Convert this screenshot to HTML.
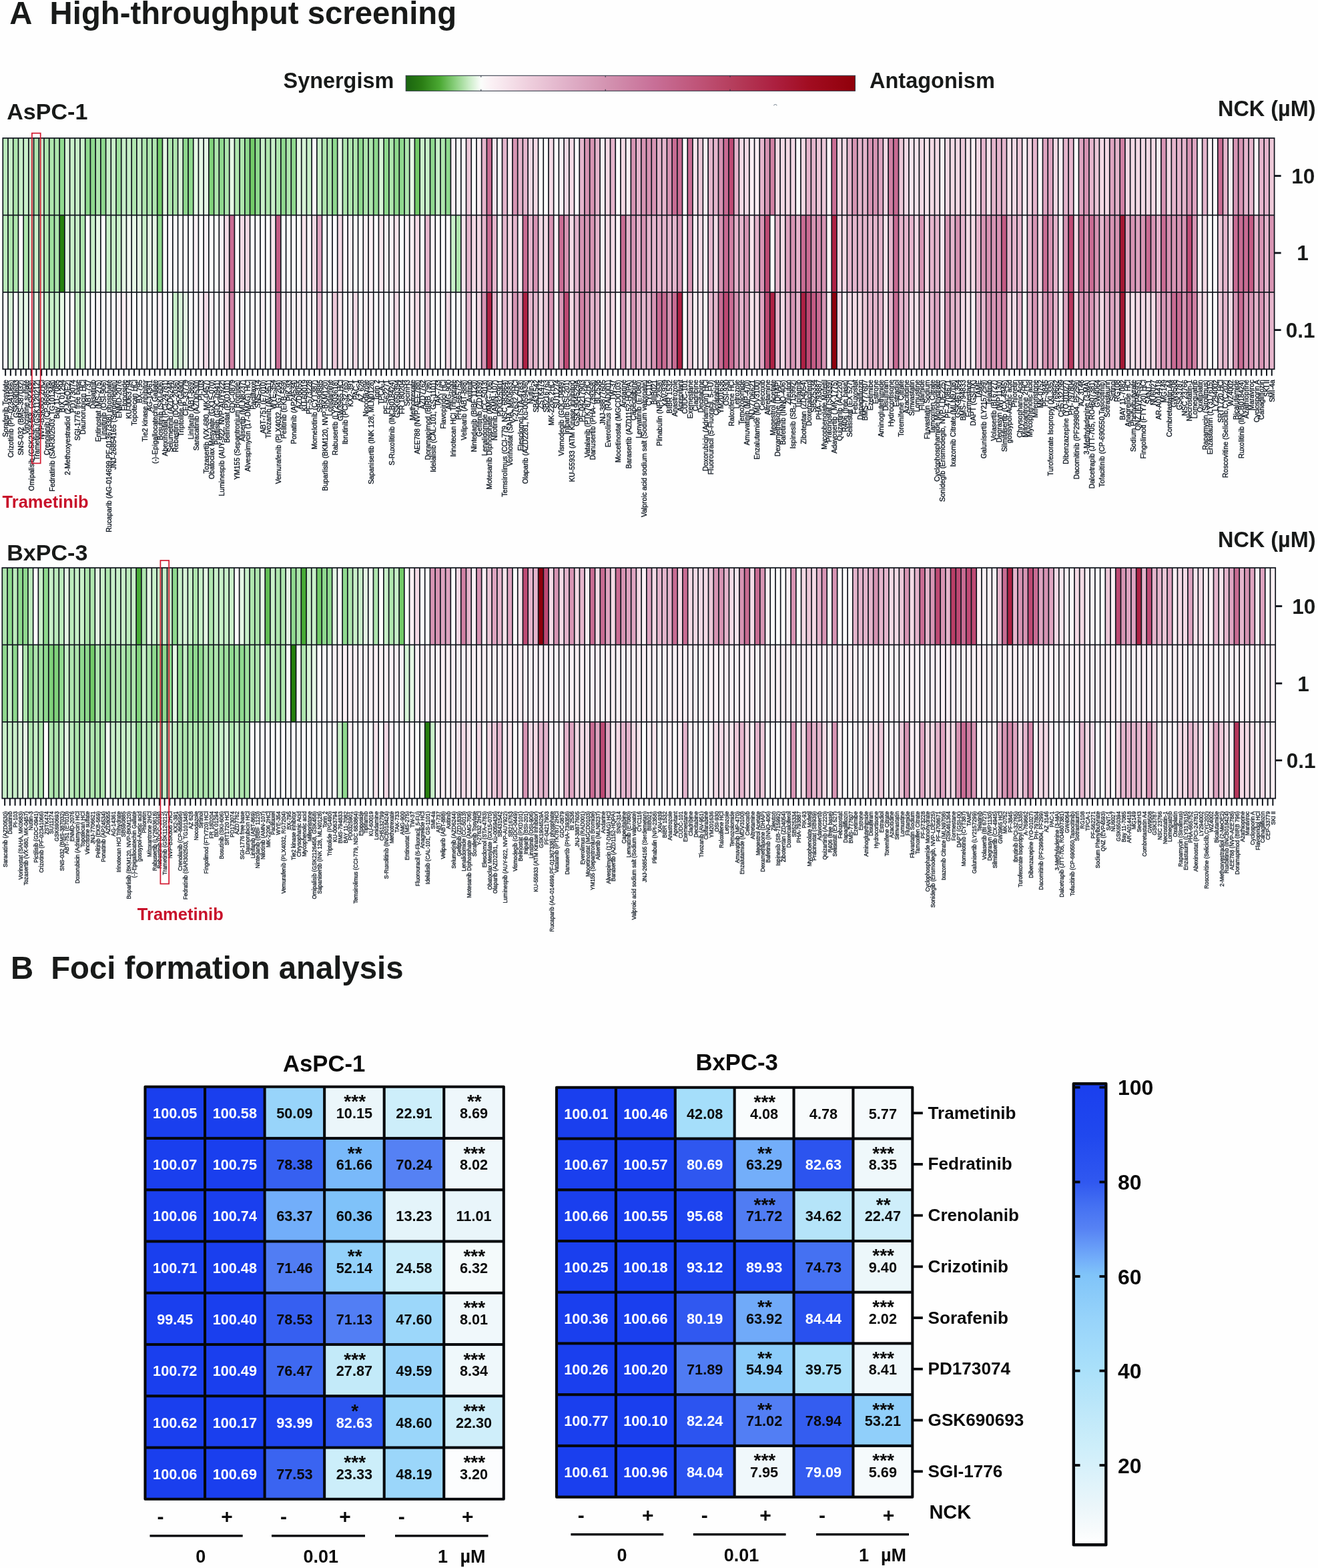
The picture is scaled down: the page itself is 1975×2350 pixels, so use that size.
<!DOCTYPE html>
<html lang="en">
<head>
<meta charset="utf-8">
<title>High-throughput screening and foci formation analysis</title>
<style>
html,body{margin:0;padding:0;background:#fefefe;}
body{width:1975px;height:2350px;overflow:hidden;}
svg{display:block;}
</style>
</head>
<body>
<svg width="1975" height="2350" viewBox="0 0 1975 2350" font-family='"Liberation Sans", sans-serif'>
<rect width="1975" height="2350" fill="#fefefe"/>
<defs>
<linearGradient id="gsyn" x1="0" x2="1" y1="0" y2="0">
<stop offset="0" stop-color="#1a6410"/>
<stop offset="0.035" stop-color="#2a7d14"/>
<stop offset="0.075" stop-color="#4aa832"/>
<stop offset="0.11" stop-color="#8bd07f"/>
<stop offset="0.14" stop-color="#c8ebc4"/>
<stop offset="0.167" stop-color="#fbfdfb"/>
<stop offset="0.19" stop-color="#fbf1f5"/>
<stop offset="0.27" stop-color="#efd0de"/>
<stop offset="0.36" stop-color="#e0b0c8"/>
<stop offset="0.45" stop-color="#d392b0"/>
<stop offset="0.55" stop-color="#c87098"/>
<stop offset="0.65" stop-color="#bf5478"/>
<stop offset="0.74" stop-color="#b43a58"/>
<stop offset="0.82" stop-color="#ac2040"/>
<stop offset="0.9" stop-color="#a10c20"/>
<stop offset="1" stop-color="#90000a"/>
</linearGradient>
<linearGradient id="gblue" x1="0" x2="0" y1="0" y2="1">
<stop offset="0.0000" stop-color="#1a3fee"/>
<stop offset="0.1108" stop-color="#2048ee"/>
<stop offset="0.2118" stop-color="#3058f0"/>
<stop offset="0.2624" stop-color="#4470f2"/>
<stop offset="0.3129" stop-color="#5682f4"/>
<stop offset="0.3837" stop-color="#74b0fa"/>
<stop offset="0.4140" stop-color="#80c4f9"/>
<stop offset="0.5151" stop-color="#98d4fa"/>
<stop offset="0.6161" stop-color="#a9e0fa"/>
<stop offset="0.7172" stop-color="#bfe8f9"/>
<stop offset="0.7880" stop-color="#cdeefa"/>
<stop offset="0.9193" stop-color="#ebf6fa"/>
<stop offset="0.9699" stop-color="#f7fbfc"/>
<stop offset="1.0000" stop-color="#ffffff"/>
</linearGradient>
</defs>
<text x="14.30" y="36.20" font-size="47.3" font-weight="bold" text-anchor="start" fill="#181a19">A</text>
<text x="74.60" y="36.20" font-size="47.3" font-weight="bold" text-anchor="start" fill="#181a19">High-throughput screening</text>
<text x="424.60" y="132.00" font-size="32.4" font-weight="bold" text-anchor="start" fill="#181a19">Synergism</text>
<rect x="608.2" y="113.3" width="673.2" height="23" fill="url(#gsyn)" stroke="#2a3340" stroke-width="1"/>
<path d="M720.8 113.3v2.5M720.8 136.3v-2.5" stroke="#2a3340" stroke-width="1"/>
<path d="M907.2 113.3v2.5M907.2 136.3v-2.5" stroke="#2a3340" stroke-width="1"/>
<path d="M1094.0 113.3v2.5M1094.0 136.3v-2.5" stroke="#2a3340" stroke-width="1"/>
<text x="1303.00" y="132.00" font-size="32.5" font-weight="bold" text-anchor="start" fill="#181a19">Antagonism</text>
<path d="M1159.6 157.8q2.2 -2.6 4.4 0" fill="none" stroke="#8d97a1" stroke-width="1.1" stroke-linecap="round"/>
<text x="10.20" y="178.60" font-size="34.1" font-weight="bold" text-anchor="start" fill="#181a19">AsPC-1</text>
<text x="1971.60" y="174.30" font-size="32.45" font-weight="bold" text-anchor="end" fill="#181a19">NCK (µM)</text>
<g>
<rect x="3.45" y="206.15" width="1907.00" height="348.00" fill="#0e131b"/>
<rect x="5.15" y="207.85" width="6.01" height="113.80" fill="#bcebbc"/>
<rect x="12.86" y="207.85" width="6.01" height="113.80" fill="#c9f0c9"/>
<rect x="20.58" y="207.85" width="6.01" height="113.80" fill="#afe6ae"/>
<rect x="28.29" y="207.85" width="6.01" height="113.80" fill="#c9f0c9"/>
<rect x="36.01" y="207.85" width="6.01" height="113.80" fill="#c9f0c9"/>
<rect x="43.72" y="207.85" width="6.01" height="113.80" fill="#c9f0c9"/>
<rect x="51.43" y="207.85" width="6.01" height="113.80" fill="#afe6ae"/>
<rect x="59.15" y="207.85" width="6.01" height="113.80" fill="#c9f0c9"/>
<rect x="66.86" y="207.85" width="6.01" height="113.80" fill="#afe6ae"/>
<rect x="74.57" y="207.85" width="6.01" height="113.80" fill="#afe6ae"/>
<rect x="82.29" y="207.85" width="6.01" height="113.80" fill="#afe6ae"/>
<rect x="90.00" y="207.85" width="6.01" height="113.80" fill="#8fd98e"/>
<rect x="97.72" y="207.85" width="6.01" height="113.80" fill="#d8f4d7"/>
<rect x="105.43" y="207.85" width="6.01" height="113.80" fill="#c9f0c9"/>
<rect x="113.14" y="207.85" width="6.01" height="113.80" fill="#c9f0c9"/>
<rect x="120.86" y="207.85" width="6.01" height="113.80" fill="#c9f0c9"/>
<rect x="128.57" y="207.85" width="6.01" height="113.80" fill="#8fd98e"/>
<rect x="136.28" y="207.85" width="6.01" height="113.80" fill="#8fd98e"/>
<rect x="144.00" y="207.85" width="6.01" height="113.80" fill="#afe6ae"/>
<rect x="151.71" y="207.85" width="6.01" height="113.80" fill="#8fd98e"/>
<rect x="159.43" y="207.85" width="6.01" height="113.80" fill="#c9f0c9"/>
<rect x="167.14" y="207.85" width="6.01" height="113.80" fill="#c9f0c9"/>
<rect x="174.85" y="207.85" width="6.01" height="113.80" fill="#9fe09e"/>
<rect x="182.57" y="207.85" width="6.01" height="113.80" fill="#c9f0c9"/>
<rect x="190.28" y="207.85" width="6.01" height="113.80" fill="#c9f0c9"/>
<rect x="197.99" y="207.85" width="6.01" height="113.80" fill="#afe6ae"/>
<rect x="205.71" y="207.85" width="6.01" height="113.80" fill="#c9f0c9"/>
<rect x="213.42" y="207.85" width="6.01" height="113.80" fill="#afe6ae"/>
<rect x="221.14" y="207.85" width="6.01" height="113.80" fill="#afe6ae"/>
<rect x="228.85" y="207.85" width="6.01" height="113.80" fill="#afe6ae"/>
<rect x="236.56" y="207.85" width="6.01" height="113.80" fill="#72ca68"/>
<rect x="244.28" y="207.85" width="6.01" height="113.80" fill="#e6f8e5"/>
<rect x="251.99" y="207.85" width="6.01" height="113.80" fill="#afe6ae"/>
<rect x="259.70" y="207.85" width="6.01" height="113.80" fill="#afe6ae"/>
<rect x="267.42" y="207.85" width="6.01" height="113.80" fill="#d8f4d7"/>
<rect x="275.13" y="207.85" width="6.01" height="113.80" fill="#8fd98e"/>
<rect x="282.85" y="207.85" width="6.01" height="113.80" fill="#8fd98e"/>
<rect x="290.56" y="207.85" width="6.01" height="113.80" fill="#e6f8e5"/>
<rect x="298.27" y="207.85" width="6.01" height="113.80" fill="#e6f8e5"/>
<rect x="305.99" y="207.85" width="6.01" height="113.80" fill="#e6f8e5"/>
<rect x="313.70" y="207.85" width="6.01" height="113.80" fill="#80d27b"/>
<rect x="321.41" y="207.85" width="6.01" height="113.80" fill="#afe6ae"/>
<rect x="329.13" y="207.85" width="6.01" height="113.80" fill="#8fd98e"/>
<rect x="336.84" y="207.85" width="6.01" height="113.80" fill="#afe6ae"/>
<rect x="344.56" y="207.85" width="6.01" height="113.80" fill="#e6f8e5"/>
<rect x="352.27" y="207.85" width="6.01" height="113.80" fill="#afe6ae"/>
<rect x="359.98" y="207.85" width="6.01" height="113.80" fill="#afe6ae"/>
<rect x="367.70" y="207.85" width="6.01" height="113.80" fill="#8fd98e"/>
<rect x="375.41" y="207.85" width="6.01" height="113.80" fill="#72ca68"/>
<rect x="383.12" y="207.85" width="6.01" height="113.80" fill="#8fd98e"/>
<rect x="390.84" y="207.85" width="6.01" height="113.80" fill="#c9f0c9"/>
<rect x="398.55" y="207.85" width="6.01" height="113.80" fill="#afe6ae"/>
<rect x="406.27" y="207.85" width="6.01" height="113.80" fill="#c9f0c9"/>
<rect x="413.98" y="207.85" width="6.01" height="113.80" fill="#afe6ae"/>
<rect x="421.69" y="207.85" width="6.01" height="113.80" fill="#8fd98e"/>
<rect x="429.41" y="207.85" width="6.01" height="113.80" fill="#afe6ae"/>
<rect x="437.12" y="207.85" width="6.01" height="113.80" fill="#8fd98e"/>
<rect x="444.83" y="207.85" width="6.01" height="113.80" fill="#e6f8e5"/>
<rect x="452.55" y="207.85" width="6.01" height="113.80" fill="#d8f4d7"/>
<rect x="460.26" y="207.85" width="6.01" height="113.80" fill="#c9f0c9"/>
<rect x="467.98" y="207.85" width="6.01" height="113.80" fill="#fefdfd"/>
<rect x="475.69" y="207.85" width="6.01" height="113.80" fill="#c9f0c9"/>
<rect x="483.40" y="207.85" width="6.01" height="113.80" fill="#afe6ae"/>
<rect x="491.12" y="207.85" width="6.01" height="113.80" fill="#afe6ae"/>
<rect x="498.83" y="207.85" width="6.01" height="113.80" fill="#8fd98e"/>
<rect x="506.54" y="207.85" width="6.01" height="113.80" fill="#e6f8e5"/>
<rect x="514.26" y="207.85" width="6.01" height="113.80" fill="#afe6ae"/>
<rect x="521.97" y="207.85" width="6.01" height="113.80" fill="#afe6ae"/>
<rect x="529.69" y="207.85" width="6.01" height="113.80" fill="#afe6ae"/>
<rect x="537.40" y="207.85" width="6.01" height="113.80" fill="#8fd98e"/>
<rect x="545.11" y="207.85" width="6.01" height="113.80" fill="#afe6ae"/>
<rect x="552.83" y="207.85" width="6.01" height="113.80" fill="#afe6ae"/>
<rect x="560.54" y="207.85" width="6.01" height="113.80" fill="#8fd98e"/>
<rect x="568.25" y="207.85" width="6.01" height="113.80" fill="#d8f4d7"/>
<rect x="575.97" y="207.85" width="6.01" height="113.80" fill="#8fd98e"/>
<rect x="583.68" y="207.85" width="6.01" height="113.80" fill="#afe6ae"/>
<rect x="591.40" y="207.85" width="6.01" height="113.80" fill="#8fd98e"/>
<rect x="599.11" y="207.85" width="6.01" height="113.80" fill="#8fd98e"/>
<rect x="606.82" y="207.85" width="6.01" height="113.80" fill="#afe6ae"/>
<rect x="614.54" y="207.85" width="6.01" height="113.80" fill="#e6f8e5"/>
<rect x="622.25" y="207.85" width="6.01" height="113.80" fill="#72ca68"/>
<rect x="629.96" y="207.85" width="6.01" height="113.80" fill="#c9f0c9"/>
<rect x="637.68" y="207.85" width="6.01" height="113.80" fill="#c9f0c9"/>
<rect x="645.39" y="207.85" width="6.01" height="113.80" fill="#8fd98e"/>
<rect x="653.11" y="207.85" width="6.01" height="113.80" fill="#c9f0c9"/>
<rect x="660.82" y="207.85" width="6.01" height="113.80" fill="#afe6ae"/>
<rect x="668.53" y="207.85" width="6.01" height="113.80" fill="#8fd98e"/>
<rect x="676.25" y="207.85" width="6.01" height="113.80" fill="#fbf0f4"/>
<rect x="683.96" y="207.85" width="6.01" height="113.80" fill="#fefdfd"/>
<rect x="691.68" y="207.85" width="6.01" height="113.80" fill="#fcf6f8"/>
<rect x="699.39" y="207.85" width="6.01" height="113.80" fill="#ecc8d8"/>
<rect x="707.10" y="207.85" width="6.01" height="113.80" fill="#fefdfd"/>
<rect x="714.82" y="207.85" width="6.01" height="113.80" fill="#fbf0f4"/>
<rect x="722.53" y="207.85" width="6.01" height="113.80" fill="#e5b5cc"/>
<rect x="730.24" y="207.85" width="6.01" height="113.80" fill="#c96c93"/>
<rect x="737.96" y="207.85" width="6.01" height="113.80" fill="#f8e5ec"/>
<rect x="745.67" y="207.85" width="6.01" height="113.80" fill="#fefdfd"/>
<rect x="753.39" y="207.85" width="6.01" height="113.80" fill="#e5b5cc"/>
<rect x="761.10" y="207.85" width="6.01" height="113.80" fill="#fbf0f4"/>
<rect x="768.81" y="207.85" width="6.01" height="113.80" fill="#d794b3"/>
<rect x="776.53" y="207.85" width="6.01" height="113.80" fill="#e5b5cc"/>
<rect x="784.24" y="207.85" width="6.01" height="113.80" fill="#e5b5cc"/>
<rect x="791.95" y="207.85" width="6.01" height="113.80" fill="#f4dae5"/>
<rect x="799.67" y="207.85" width="6.01" height="113.80" fill="#f4dae5"/>
<rect x="807.38" y="207.85" width="6.01" height="113.80" fill="#fefdfd"/>
<rect x="815.10" y="207.85" width="6.01" height="113.80" fill="#fefdfd"/>
<rect x="822.81" y="207.85" width="6.01" height="113.80" fill="#f4dae5"/>
<rect x="830.52" y="207.85" width="6.01" height="113.80" fill="#fefdfd"/>
<rect x="838.24" y="207.85" width="6.01" height="113.80" fill="#fbf0f4"/>
<rect x="845.95" y="207.85" width="6.01" height="113.80" fill="#f4dae5"/>
<rect x="853.66" y="207.85" width="6.01" height="113.80" fill="#f4dae5"/>
<rect x="861.38" y="207.85" width="6.01" height="113.80" fill="#fefdfd"/>
<rect x="869.09" y="207.85" width="6.01" height="113.80" fill="#e5b5cc"/>
<rect x="876.81" y="207.85" width="6.01" height="113.80" fill="#d794b3"/>
<rect x="884.52" y="207.85" width="6.01" height="113.80" fill="#d794b3"/>
<rect x="892.23" y="207.85" width="6.01" height="113.80" fill="#e5b5cc"/>
<rect x="899.95" y="207.85" width="6.01" height="113.80" fill="#fbf0f4"/>
<rect x="907.66" y="207.85" width="6.01" height="113.80" fill="#f4dae5"/>
<rect x="915.37" y="207.85" width="6.01" height="113.80" fill="#e5b5cc"/>
<rect x="923.09" y="207.85" width="6.01" height="113.80" fill="#fefdfd"/>
<rect x="930.80" y="207.85" width="6.01" height="113.80" fill="#f4dae5"/>
<rect x="938.52" y="207.85" width="6.01" height="113.80" fill="#fbf0f4"/>
<rect x="946.23" y="207.85" width="6.01" height="113.80" fill="#d794b3"/>
<rect x="953.94" y="207.85" width="6.01" height="113.80" fill="#e5b5cc"/>
<rect x="961.66" y="207.85" width="6.01" height="113.80" fill="#d794b3"/>
<rect x="969.37" y="207.85" width="6.01" height="113.80" fill="#d794b3"/>
<rect x="977.08" y="207.85" width="6.01" height="113.80" fill="#d794b3"/>
<rect x="984.80" y="207.85" width="6.01" height="113.80" fill="#e5b5cc"/>
<rect x="992.51" y="207.85" width="6.01" height="113.80" fill="#e5b5cc"/>
<rect x="1000.23" y="207.85" width="6.01" height="113.80" fill="#d794b3"/>
<rect x="1007.94" y="207.85" width="6.01" height="113.80" fill="#c96c93"/>
<rect x="1015.65" y="207.85" width="6.01" height="113.80" fill="#c96c93"/>
<rect x="1023.37" y="207.85" width="6.01" height="113.80" fill="#fefdfd"/>
<rect x="1031.08" y="207.85" width="6.01" height="113.80" fill="#c96c93"/>
<rect x="1038.79" y="207.85" width="6.01" height="113.80" fill="#f8e5ec"/>
<rect x="1046.51" y="207.85" width="6.01" height="113.80" fill="#ecc8d8"/>
<rect x="1054.22" y="207.85" width="6.01" height="113.80" fill="#fbf0f4"/>
<rect x="1061.94" y="207.85" width="6.01" height="113.80" fill="#e5b5cc"/>
<rect x="1069.65" y="207.85" width="6.01" height="113.80" fill="#e5b5cc"/>
<rect x="1077.36" y="207.85" width="6.01" height="113.80" fill="#d794b3"/>
<rect x="1085.08" y="207.85" width="6.01" height="113.80" fill="#c96c93"/>
<rect x="1092.79" y="207.85" width="6.01" height="113.80" fill="#be4a74"/>
<rect x="1100.50" y="207.85" width="6.01" height="113.80" fill="#e5b5cc"/>
<rect x="1108.22" y="207.85" width="6.01" height="113.80" fill="#f4dae5"/>
<rect x="1115.93" y="207.85" width="6.01" height="113.80" fill="#f4dae5"/>
<rect x="1123.65" y="207.85" width="6.01" height="113.80" fill="#fbf0f4"/>
<rect x="1131.36" y="207.85" width="6.01" height="113.80" fill="#fbf0f4"/>
<rect x="1139.07" y="207.85" width="6.01" height="113.80" fill="#e5b5cc"/>
<rect x="1146.79" y="207.85" width="6.01" height="113.80" fill="#d794b3"/>
<rect x="1154.50" y="207.85" width="6.01" height="113.80" fill="#d080a3"/>
<rect x="1162.21" y="207.85" width="6.01" height="113.80" fill="#f4dae5"/>
<rect x="1169.93" y="207.85" width="6.01" height="113.80" fill="#f4dae5"/>
<rect x="1177.64" y="207.85" width="6.01" height="113.80" fill="#f4dae5"/>
<rect x="1185.36" y="207.85" width="6.01" height="113.80" fill="#f4dae5"/>
<rect x="1193.07" y="207.85" width="6.01" height="113.80" fill="#fefdfd"/>
<rect x="1200.78" y="207.85" width="6.01" height="113.80" fill="#f4dae5"/>
<rect x="1208.50" y="207.85" width="6.01" height="113.80" fill="#e5b5cc"/>
<rect x="1216.21" y="207.85" width="6.01" height="113.80" fill="#e5b5cc"/>
<rect x="1223.92" y="207.85" width="6.01" height="113.80" fill="#ecc8d8"/>
<rect x="1231.64" y="207.85" width="6.01" height="113.80" fill="#ecc8d8"/>
<rect x="1239.35" y="207.85" width="6.01" height="113.80" fill="#fcf6f8"/>
<rect x="1247.07" y="207.85" width="6.01" height="113.80" fill="#c96c93"/>
<rect x="1254.78" y="207.85" width="6.01" height="113.80" fill="#f4dae5"/>
<rect x="1262.49" y="207.85" width="6.01" height="113.80" fill="#f4dae5"/>
<rect x="1270.21" y="207.85" width="6.01" height="113.80" fill="#e5b5cc"/>
<rect x="1277.92" y="207.85" width="6.01" height="113.80" fill="#d794b3"/>
<rect x="1285.64" y="207.85" width="6.01" height="113.80" fill="#e5b5cc"/>
<rect x="1293.35" y="207.85" width="6.01" height="113.80" fill="#e5b5cc"/>
<rect x="1301.06" y="207.85" width="6.01" height="113.80" fill="#d794b3"/>
<rect x="1308.78" y="207.85" width="6.01" height="113.80" fill="#d794b3"/>
<rect x="1316.49" y="207.85" width="6.01" height="113.80" fill="#dea4c0"/>
<rect x="1324.20" y="207.85" width="6.01" height="113.80" fill="#f4dae5"/>
<rect x="1331.92" y="207.85" width="6.01" height="113.80" fill="#d080a3"/>
<rect x="1339.63" y="207.85" width="6.01" height="113.80" fill="#c96c93"/>
<rect x="1347.35" y="207.85" width="6.01" height="113.80" fill="#ecc8d8"/>
<rect x="1355.06" y="207.85" width="6.01" height="113.80" fill="#f4dae5"/>
<rect x="1362.77" y="207.85" width="6.01" height="113.80" fill="#f8e5ec"/>
<rect x="1370.49" y="207.85" width="6.01" height="113.80" fill="#f8e5ec"/>
<rect x="1378.20" y="207.85" width="6.01" height="113.80" fill="#f4dae5"/>
<rect x="1385.91" y="207.85" width="6.01" height="113.80" fill="#f8e5ec"/>
<rect x="1393.63" y="207.85" width="6.01" height="113.80" fill="#f4dae5"/>
<rect x="1401.34" y="207.85" width="6.01" height="113.80" fill="#f4dae5"/>
<rect x="1409.06" y="207.85" width="6.01" height="113.80" fill="#fbf0f4"/>
<rect x="1416.77" y="207.85" width="6.01" height="113.80" fill="#f4dae5"/>
<rect x="1424.48" y="207.85" width="6.01" height="113.80" fill="#f4dae5"/>
<rect x="1432.20" y="207.85" width="6.01" height="113.80" fill="#f4dae5"/>
<rect x="1439.91" y="207.85" width="6.01" height="113.80" fill="#ecc8d8"/>
<rect x="1447.62" y="207.85" width="6.01" height="113.80" fill="#f8e5ec"/>
<rect x="1455.34" y="207.85" width="6.01" height="113.80" fill="#fbf0f4"/>
<rect x="1463.05" y="207.85" width="6.01" height="113.80" fill="#f4dae5"/>
<rect x="1470.77" y="207.85" width="6.01" height="113.80" fill="#e5b5cc"/>
<rect x="1478.48" y="207.85" width="6.01" height="113.80" fill="#f8e5ec"/>
<rect x="1486.19" y="207.85" width="6.01" height="113.80" fill="#e5b5cc"/>
<rect x="1493.91" y="207.85" width="6.01" height="113.80" fill="#e5b5cc"/>
<rect x="1501.62" y="207.85" width="6.01" height="113.80" fill="#e5b5cc"/>
<rect x="1509.33" y="207.85" width="6.01" height="113.80" fill="#f8e5ec"/>
<rect x="1517.05" y="207.85" width="6.01" height="113.80" fill="#f4dae5"/>
<rect x="1524.76" y="207.85" width="6.01" height="113.80" fill="#ecc8d8"/>
<rect x="1532.48" y="207.85" width="6.01" height="113.80" fill="#fbf0f4"/>
<rect x="1540.19" y="207.85" width="6.01" height="113.80" fill="#f4dae5"/>
<rect x="1547.90" y="207.85" width="6.01" height="113.80" fill="#e5b5cc"/>
<rect x="1555.62" y="207.85" width="6.01" height="113.80" fill="#fefdfd"/>
<rect x="1563.33" y="207.85" width="6.01" height="113.80" fill="#dea4c0"/>
<rect x="1571.04" y="207.85" width="6.01" height="113.80" fill="#dea4c0"/>
<rect x="1578.76" y="207.85" width="6.01" height="113.80" fill="#f4dae5"/>
<rect x="1586.47" y="207.85" width="6.01" height="113.80" fill="#fbf0f4"/>
<rect x="1594.19" y="207.85" width="6.01" height="113.80" fill="#e5b5cc"/>
<rect x="1601.90" y="207.85" width="6.01" height="113.80" fill="#e5b5cc"/>
<rect x="1609.61" y="207.85" width="6.01" height="113.80" fill="#fefdfd"/>
<rect x="1617.33" y="207.85" width="6.01" height="113.80" fill="#dea4c0"/>
<rect x="1625.04" y="207.85" width="6.01" height="113.80" fill="#d794b3"/>
<rect x="1632.75" y="207.85" width="6.01" height="113.80" fill="#e5b5cc"/>
<rect x="1640.47" y="207.85" width="6.01" height="113.80" fill="#ecc8d8"/>
<rect x="1648.18" y="207.85" width="6.01" height="113.80" fill="#f4dae5"/>
<rect x="1655.90" y="207.85" width="6.01" height="113.80" fill="#f4dae5"/>
<rect x="1663.61" y="207.85" width="6.01" height="113.80" fill="#dea4c0"/>
<rect x="1671.32" y="207.85" width="6.01" height="113.80" fill="#e5b5cc"/>
<rect x="1679.04" y="207.85" width="6.01" height="113.80" fill="#d080a3"/>
<rect x="1686.75" y="207.85" width="6.01" height="113.80" fill="#f4dae5"/>
<rect x="1694.46" y="207.85" width="6.01" height="113.80" fill="#f4dae5"/>
<rect x="1702.18" y="207.85" width="6.01" height="113.80" fill="#f4dae5"/>
<rect x="1709.89" y="207.85" width="6.01" height="113.80" fill="#f4dae5"/>
<rect x="1717.61" y="207.85" width="6.01" height="113.80" fill="#f4dae5"/>
<rect x="1725.32" y="207.85" width="6.01" height="113.80" fill="#f4dae5"/>
<rect x="1733.03" y="207.85" width="6.01" height="113.80" fill="#fbf0f4"/>
<rect x="1740.75" y="207.85" width="6.01" height="113.80" fill="#d794b3"/>
<rect x="1748.46" y="207.85" width="6.01" height="113.80" fill="#f4dae5"/>
<rect x="1756.17" y="207.85" width="6.01" height="113.80" fill="#e5b5cc"/>
<rect x="1763.89" y="207.85" width="6.01" height="113.80" fill="#e5b5cc"/>
<rect x="1771.60" y="207.85" width="6.01" height="113.80" fill="#e5b5cc"/>
<rect x="1779.32" y="207.85" width="6.01" height="113.80" fill="#d794b3"/>
<rect x="1787.03" y="207.85" width="6.01" height="113.80" fill="#dea4c0"/>
<rect x="1794.74" y="207.85" width="6.01" height="113.80" fill="#fefdfd"/>
<rect x="1802.46" y="207.85" width="6.01" height="113.80" fill="#e5b5cc"/>
<rect x="1810.17" y="207.85" width="6.01" height="113.80" fill="#fcf6f8"/>
<rect x="1817.88" y="207.85" width="6.01" height="113.80" fill="#fefdfd"/>
<rect x="1825.60" y="207.85" width="6.01" height="113.80" fill="#c96c93"/>
<rect x="1833.31" y="207.85" width="6.01" height="113.80" fill="#e5b5cc"/>
<rect x="1841.03" y="207.85" width="6.01" height="113.80" fill="#fbf0f4"/>
<rect x="1848.74" y="207.85" width="6.01" height="113.80" fill="#d794b3"/>
<rect x="1856.45" y="207.85" width="6.01" height="113.80" fill="#d794b3"/>
<rect x="1864.17" y="207.85" width="6.01" height="113.80" fill="#e5b5cc"/>
<rect x="1871.88" y="207.85" width="6.01" height="113.80" fill="#e5b5cc"/>
<rect x="1879.59" y="207.85" width="6.01" height="113.80" fill="#fcf6f8"/>
<rect x="1887.31" y="207.85" width="6.01" height="113.80" fill="#e5b5cc"/>
<rect x="1895.02" y="207.85" width="6.01" height="113.80" fill="#e5b5cc"/>
<rect x="1902.74" y="207.85" width="6.01" height="113.80" fill="#ecc8d8"/>
<rect x="5.15" y="323.35" width="6.01" height="113.80" fill="#bcebbc"/>
<rect x="12.86" y="323.35" width="6.01" height="113.80" fill="#afe6ae"/>
<rect x="20.58" y="323.35" width="6.01" height="113.80" fill="#afe6ae"/>
<rect x="28.29" y="323.35" width="6.01" height="113.80" fill="#fefdfd"/>
<rect x="36.01" y="323.35" width="6.01" height="113.80" fill="#afe6ae"/>
<rect x="43.72" y="323.35" width="6.01" height="113.80" fill="#c9f0c9"/>
<rect x="51.43" y="323.35" width="6.01" height="113.80" fill="#c9f0c9"/>
<rect x="59.15" y="323.35" width="6.01" height="113.80" fill="#c9f0c9"/>
<rect x="66.86" y="323.35" width="6.01" height="113.80" fill="#afe6ae"/>
<rect x="74.57" y="323.35" width="6.01" height="113.80" fill="#9fe09e"/>
<rect x="82.29" y="323.35" width="6.01" height="113.80" fill="#afe6ae"/>
<rect x="90.00" y="323.35" width="6.01" height="113.80" fill="#26800e"/>
<rect x="97.72" y="323.35" width="6.01" height="113.80" fill="#e6f8e5"/>
<rect x="105.43" y="323.35" width="6.01" height="113.80" fill="#c9f0c9"/>
<rect x="113.14" y="323.35" width="6.01" height="113.80" fill="#c9f0c9"/>
<rect x="120.86" y="323.35" width="6.01" height="113.80" fill="#afe6ae"/>
<rect x="128.57" y="323.35" width="6.01" height="113.80" fill="#fefdfd"/>
<rect x="136.28" y="323.35" width="6.01" height="113.80" fill="#c9f0c9"/>
<rect x="144.00" y="323.35" width="6.01" height="113.80" fill="#e6f8e5"/>
<rect x="151.71" y="323.35" width="6.01" height="113.80" fill="#fefdfd"/>
<rect x="159.43" y="323.35" width="6.01" height="113.80" fill="#c9f0c9"/>
<rect x="167.14" y="323.35" width="6.01" height="113.80" fill="#c9f0c9"/>
<rect x="174.85" y="323.35" width="6.01" height="113.80" fill="#c9f0c9"/>
<rect x="182.57" y="323.35" width="6.01" height="113.80" fill="#e6f8e5"/>
<rect x="190.28" y="323.35" width="6.01" height="113.80" fill="#f2faf1"/>
<rect x="197.99" y="323.35" width="6.01" height="113.80" fill="#e6f8e5"/>
<rect x="205.71" y="323.35" width="6.01" height="113.80" fill="#e6f8e5"/>
<rect x="213.42" y="323.35" width="6.01" height="113.80" fill="#c9f0c9"/>
<rect x="221.14" y="323.35" width="6.01" height="113.80" fill="#e6f8e5"/>
<rect x="228.85" y="323.35" width="6.01" height="113.80" fill="#e6f8e5"/>
<rect x="236.56" y="323.35" width="6.01" height="113.80" fill="#8fd98e"/>
<rect x="244.28" y="323.35" width="6.01" height="113.80" fill="#fefdfd"/>
<rect x="251.99" y="323.35" width="6.01" height="113.80" fill="#fefdfd"/>
<rect x="259.70" y="323.35" width="6.01" height="113.80" fill="#fefdfd"/>
<rect x="267.42" y="323.35" width="6.01" height="113.80" fill="#fefdfd"/>
<rect x="275.13" y="323.35" width="6.01" height="113.80" fill="#fefdfd"/>
<rect x="282.85" y="323.35" width="6.01" height="113.80" fill="#fefdfd"/>
<rect x="290.56" y="323.35" width="6.01" height="113.80" fill="#fbf0f4"/>
<rect x="298.27" y="323.35" width="6.01" height="113.80" fill="#fefdfd"/>
<rect x="305.99" y="323.35" width="6.01" height="113.80" fill="#fbf0f4"/>
<rect x="313.70" y="323.35" width="6.01" height="113.80" fill="#fefdfd"/>
<rect x="321.41" y="323.35" width="6.01" height="113.80" fill="#fefdfd"/>
<rect x="329.13" y="323.35" width="6.01" height="113.80" fill="#fbf0f4"/>
<rect x="336.84" y="323.35" width="6.01" height="113.80" fill="#f4dae5"/>
<rect x="344.56" y="323.35" width="6.01" height="113.80" fill="#c96c93"/>
<rect x="352.27" y="323.35" width="6.01" height="113.80" fill="#fefdfd"/>
<rect x="359.98" y="323.35" width="6.01" height="113.80" fill="#f4dae5"/>
<rect x="367.70" y="323.35" width="6.01" height="113.80" fill="#f4dae5"/>
<rect x="375.41" y="323.35" width="6.01" height="113.80" fill="#fefdfd"/>
<rect x="383.12" y="323.35" width="6.01" height="113.80" fill="#fefdfd"/>
<rect x="390.84" y="323.35" width="6.01" height="113.80" fill="#fefdfd"/>
<rect x="398.55" y="323.35" width="6.01" height="113.80" fill="#fefdfd"/>
<rect x="406.27" y="323.35" width="6.01" height="113.80" fill="#f8e5ec"/>
<rect x="413.98" y="323.35" width="6.01" height="113.80" fill="#c45b84"/>
<rect x="421.69" y="323.35" width="6.01" height="113.80" fill="#fefdfd"/>
<rect x="429.41" y="323.35" width="6.01" height="113.80" fill="#fefdfd"/>
<rect x="437.12" y="323.35" width="6.01" height="113.80" fill="#fefdfd"/>
<rect x="444.83" y="323.35" width="6.01" height="113.80" fill="#fefdfd"/>
<rect x="452.55" y="323.35" width="6.01" height="113.80" fill="#f8e5ec"/>
<rect x="460.26" y="323.35" width="6.01" height="113.80" fill="#fcf6f8"/>
<rect x="467.98" y="323.35" width="6.01" height="113.80" fill="#f4dae5"/>
<rect x="475.69" y="323.35" width="6.01" height="113.80" fill="#dea4c0"/>
<rect x="483.40" y="323.35" width="6.01" height="113.80" fill="#fefdfd"/>
<rect x="491.12" y="323.35" width="6.01" height="113.80" fill="#fefdfd"/>
<rect x="498.83" y="323.35" width="6.01" height="113.80" fill="#fefdfd"/>
<rect x="506.54" y="323.35" width="6.01" height="113.80" fill="#f4dae5"/>
<rect x="514.26" y="323.35" width="6.01" height="113.80" fill="#fefdfd"/>
<rect x="521.97" y="323.35" width="6.01" height="113.80" fill="#fbf0f4"/>
<rect x="529.69" y="323.35" width="6.01" height="113.80" fill="#fefdfd"/>
<rect x="537.40" y="323.35" width="6.01" height="113.80" fill="#fefdfd"/>
<rect x="545.11" y="323.35" width="6.01" height="113.80" fill="#fbf0f4"/>
<rect x="552.83" y="323.35" width="6.01" height="113.80" fill="#fbf0f4"/>
<rect x="560.54" y="323.35" width="6.01" height="113.80" fill="#fefdfd"/>
<rect x="568.25" y="323.35" width="6.01" height="113.80" fill="#f8e5ec"/>
<rect x="575.97" y="323.35" width="6.01" height="113.80" fill="#fbf0f4"/>
<rect x="583.68" y="323.35" width="6.01" height="113.80" fill="#fbf0f4"/>
<rect x="591.40" y="323.35" width="6.01" height="113.80" fill="#f8e5ec"/>
<rect x="599.11" y="323.35" width="6.01" height="113.80" fill="#fefdfd"/>
<rect x="606.82" y="323.35" width="6.01" height="113.80" fill="#fbf0f4"/>
<rect x="614.54" y="323.35" width="6.01" height="113.80" fill="#fbf0f4"/>
<rect x="622.25" y="323.35" width="6.01" height="113.80" fill="#f4dae5"/>
<rect x="629.96" y="323.35" width="6.01" height="113.80" fill="#fefdfd"/>
<rect x="637.68" y="323.35" width="6.01" height="113.80" fill="#e5b5cc"/>
<rect x="645.39" y="323.35" width="6.01" height="113.80" fill="#fcf6f8"/>
<rect x="653.11" y="323.35" width="6.01" height="113.80" fill="#fefdfd"/>
<rect x="660.82" y="323.35" width="6.01" height="113.80" fill="#fefdfd"/>
<rect x="668.53" y="323.35" width="6.01" height="113.80" fill="#fefdfd"/>
<rect x="676.25" y="323.35" width="6.01" height="113.80" fill="#c9f0c9"/>
<rect x="683.96" y="323.35" width="6.01" height="113.80" fill="#afe6ae"/>
<rect x="691.68" y="323.35" width="6.01" height="113.80" fill="#f8e5ec"/>
<rect x="699.39" y="323.35" width="6.01" height="113.80" fill="#e5b5cc"/>
<rect x="707.10" y="323.35" width="6.01" height="113.80" fill="#f4dae5"/>
<rect x="714.82" y="323.35" width="6.01" height="113.80" fill="#f4dae5"/>
<rect x="722.53" y="323.35" width="6.01" height="113.80" fill="#e5b5cc"/>
<rect x="730.24" y="323.35" width="6.01" height="113.80" fill="#c96c93"/>
<rect x="737.96" y="323.35" width="6.01" height="113.80" fill="#e5b5cc"/>
<rect x="745.67" y="323.35" width="6.01" height="113.80" fill="#fefdfd"/>
<rect x="753.39" y="323.35" width="6.01" height="113.80" fill="#e5b5cc"/>
<rect x="761.10" y="323.35" width="6.01" height="113.80" fill="#f4dae5"/>
<rect x="768.81" y="323.35" width="6.01" height="113.80" fill="#e5b5cc"/>
<rect x="776.53" y="323.35" width="6.01" height="113.80" fill="#fbf0f4"/>
<rect x="784.24" y="323.35" width="6.01" height="113.80" fill="#c96c93"/>
<rect x="791.95" y="323.35" width="6.01" height="113.80" fill="#e5b5cc"/>
<rect x="799.67" y="323.35" width="6.01" height="113.80" fill="#d794b3"/>
<rect x="807.38" y="323.35" width="6.01" height="113.80" fill="#f4dae5"/>
<rect x="815.10" y="323.35" width="6.01" height="113.80" fill="#f4dae5"/>
<rect x="822.81" y="323.35" width="6.01" height="113.80" fill="#d794b3"/>
<rect x="830.52" y="323.35" width="6.01" height="113.80" fill="#fbf0f4"/>
<rect x="838.24" y="323.35" width="6.01" height="113.80" fill="#c96c93"/>
<rect x="845.95" y="323.35" width="6.01" height="113.80" fill="#d794b3"/>
<rect x="853.66" y="323.35" width="6.01" height="113.80" fill="#f4dae5"/>
<rect x="861.38" y="323.35" width="6.01" height="113.80" fill="#e5b5cc"/>
<rect x="869.09" y="323.35" width="6.01" height="113.80" fill="#d794b3"/>
<rect x="876.81" y="323.35" width="6.01" height="113.80" fill="#d794b3"/>
<rect x="884.52" y="323.35" width="6.01" height="113.80" fill="#d794b3"/>
<rect x="892.23" y="323.35" width="6.01" height="113.80" fill="#e5b5cc"/>
<rect x="899.95" y="323.35" width="6.01" height="113.80" fill="#fbf0f4"/>
<rect x="907.66" y="323.35" width="6.01" height="113.80" fill="#f4dae5"/>
<rect x="915.37" y="323.35" width="6.01" height="113.80" fill="#f4dae5"/>
<rect x="923.09" y="323.35" width="6.01" height="113.80" fill="#fcf6f8"/>
<rect x="930.80" y="323.35" width="6.01" height="113.80" fill="#c96c93"/>
<rect x="938.52" y="323.35" width="6.01" height="113.80" fill="#e5b5cc"/>
<rect x="946.23" y="323.35" width="6.01" height="113.80" fill="#d794b3"/>
<rect x="953.94" y="323.35" width="6.01" height="113.80" fill="#e5b5cc"/>
<rect x="961.66" y="323.35" width="6.01" height="113.80" fill="#d794b3"/>
<rect x="969.37" y="323.35" width="6.01" height="113.80" fill="#e5b5cc"/>
<rect x="977.08" y="323.35" width="6.01" height="113.80" fill="#e5b5cc"/>
<rect x="984.80" y="323.35" width="6.01" height="113.80" fill="#e5b5cc"/>
<rect x="992.51" y="323.35" width="6.01" height="113.80" fill="#e5b5cc"/>
<rect x="1000.23" y="323.35" width="6.01" height="113.80" fill="#e5b5cc"/>
<rect x="1007.94" y="323.35" width="6.01" height="113.80" fill="#e5b5cc"/>
<rect x="1015.65" y="323.35" width="6.01" height="113.80" fill="#d794b3"/>
<rect x="1023.37" y="323.35" width="6.01" height="113.80" fill="#fefdfd"/>
<rect x="1031.08" y="323.35" width="6.01" height="113.80" fill="#d794b3"/>
<rect x="1038.79" y="323.35" width="6.01" height="113.80" fill="#fbf0f4"/>
<rect x="1046.51" y="323.35" width="6.01" height="113.80" fill="#f4dae5"/>
<rect x="1054.22" y="323.35" width="6.01" height="113.80" fill="#fbf0f4"/>
<rect x="1061.94" y="323.35" width="6.01" height="113.80" fill="#e5b5cc"/>
<rect x="1069.65" y="323.35" width="6.01" height="113.80" fill="#f4dae5"/>
<rect x="1077.36" y="323.35" width="6.01" height="113.80" fill="#d794b3"/>
<rect x="1085.08" y="323.35" width="6.01" height="113.80" fill="#c96c93"/>
<rect x="1092.79" y="323.35" width="6.01" height="113.80" fill="#d080a3"/>
<rect x="1100.50" y="323.35" width="6.01" height="113.80" fill="#e5b5cc"/>
<rect x="1108.22" y="323.35" width="6.01" height="113.80" fill="#e5b5cc"/>
<rect x="1115.93" y="323.35" width="6.01" height="113.80" fill="#d794b3"/>
<rect x="1123.65" y="323.35" width="6.01" height="113.80" fill="#f8e5ec"/>
<rect x="1131.36" y="323.35" width="6.01" height="113.80" fill="#e5b5cc"/>
<rect x="1139.07" y="323.35" width="6.01" height="113.80" fill="#d794b3"/>
<rect x="1146.79" y="323.35" width="6.01" height="113.80" fill="#be4a74"/>
<rect x="1154.50" y="323.35" width="6.01" height="113.80" fill="#fefdfd"/>
<rect x="1162.21" y="323.35" width="6.01" height="113.80" fill="#e5b5cc"/>
<rect x="1169.93" y="323.35" width="6.01" height="113.80" fill="#f4dae5"/>
<rect x="1177.64" y="323.35" width="6.01" height="113.80" fill="#dea4c0"/>
<rect x="1185.36" y="323.35" width="6.01" height="113.80" fill="#d794b3"/>
<rect x="1193.07" y="323.35" width="6.01" height="113.80" fill="#e5b5cc"/>
<rect x="1200.78" y="323.35" width="6.01" height="113.80" fill="#c96c93"/>
<rect x="1208.50" y="323.35" width="6.01" height="113.80" fill="#c96c93"/>
<rect x="1216.21" y="323.35" width="6.01" height="113.80" fill="#d794b3"/>
<rect x="1223.92" y="323.35" width="6.01" height="113.80" fill="#d794b3"/>
<rect x="1231.64" y="323.35" width="6.01" height="113.80" fill="#d794b3"/>
<rect x="1239.35" y="323.35" width="6.01" height="113.80" fill="#fcf6f8"/>
<rect x="1247.07" y="323.35" width="6.01" height="113.80" fill="#ae2144"/>
<rect x="1254.78" y="323.35" width="6.01" height="113.80" fill="#f4dae5"/>
<rect x="1262.49" y="323.35" width="6.01" height="113.80" fill="#f4dae5"/>
<rect x="1270.21" y="323.35" width="6.01" height="113.80" fill="#e5b5cc"/>
<rect x="1277.92" y="323.35" width="6.01" height="113.80" fill="#e5b5cc"/>
<rect x="1285.64" y="323.35" width="6.01" height="113.80" fill="#e5b5cc"/>
<rect x="1293.35" y="323.35" width="6.01" height="113.80" fill="#e5b5cc"/>
<rect x="1301.06" y="323.35" width="6.01" height="113.80" fill="#e5b5cc"/>
<rect x="1308.78" y="323.35" width="6.01" height="113.80" fill="#e5b5cc"/>
<rect x="1316.49" y="323.35" width="6.01" height="113.80" fill="#e5b5cc"/>
<rect x="1324.20" y="323.35" width="6.01" height="113.80" fill="#f8e5ec"/>
<rect x="1331.92" y="323.35" width="6.01" height="113.80" fill="#e5b5cc"/>
<rect x="1339.63" y="323.35" width="6.01" height="113.80" fill="#c96c93"/>
<rect x="1347.35" y="323.35" width="6.01" height="113.80" fill="#e5b5cc"/>
<rect x="1355.06" y="323.35" width="6.01" height="113.80" fill="#e5b5cc"/>
<rect x="1362.77" y="323.35" width="6.01" height="113.80" fill="#e5b5cc"/>
<rect x="1370.49" y="323.35" width="6.01" height="113.80" fill="#f4dae5"/>
<rect x="1378.20" y="323.35" width="6.01" height="113.80" fill="#d794b3"/>
<rect x="1385.91" y="323.35" width="6.01" height="113.80" fill="#f4dae5"/>
<rect x="1393.63" y="323.35" width="6.01" height="113.80" fill="#e5b5cc"/>
<rect x="1401.34" y="323.35" width="6.01" height="113.80" fill="#e5b5cc"/>
<rect x="1409.06" y="323.35" width="6.01" height="113.80" fill="#f8e5ec"/>
<rect x="1416.77" y="323.35" width="6.01" height="113.80" fill="#d794b3"/>
<rect x="1424.48" y="323.35" width="6.01" height="113.80" fill="#e5b5cc"/>
<rect x="1432.20" y="323.35" width="6.01" height="113.80" fill="#d794b3"/>
<rect x="1439.91" y="323.35" width="6.01" height="113.80" fill="#e5b5cc"/>
<rect x="1447.62" y="323.35" width="6.01" height="113.80" fill="#f4dae5"/>
<rect x="1455.34" y="323.35" width="6.01" height="113.80" fill="#f4dae5"/>
<rect x="1463.05" y="323.35" width="6.01" height="113.80" fill="#e5b5cc"/>
<rect x="1470.77" y="323.35" width="6.01" height="113.80" fill="#d794b3"/>
<rect x="1478.48" y="323.35" width="6.01" height="113.80" fill="#d794b3"/>
<rect x="1486.19" y="323.35" width="6.01" height="113.80" fill="#d794b3"/>
<rect x="1493.91" y="323.35" width="6.01" height="113.80" fill="#d794b3"/>
<rect x="1501.62" y="323.35" width="6.01" height="113.80" fill="#c45b84"/>
<rect x="1509.33" y="323.35" width="6.01" height="113.80" fill="#e5b5cc"/>
<rect x="1517.05" y="323.35" width="6.01" height="113.80" fill="#e5b5cc"/>
<rect x="1524.76" y="323.35" width="6.01" height="113.80" fill="#e5b5cc"/>
<rect x="1532.48" y="323.35" width="6.01" height="113.80" fill="#fbf0f4"/>
<rect x="1540.19" y="323.35" width="6.01" height="113.80" fill="#e5b5cc"/>
<rect x="1547.90" y="323.35" width="6.01" height="113.80" fill="#d794b3"/>
<rect x="1555.62" y="323.35" width="6.01" height="113.80" fill="#f4dae5"/>
<rect x="1563.33" y="323.35" width="6.01" height="113.80" fill="#c96c93"/>
<rect x="1571.04" y="323.35" width="6.01" height="113.80" fill="#d794b3"/>
<rect x="1578.76" y="323.35" width="6.01" height="113.80" fill="#e5b5cc"/>
<rect x="1586.47" y="323.35" width="6.01" height="113.80" fill="#fbf0f4"/>
<rect x="1594.19" y="323.35" width="6.01" height="113.80" fill="#d794b3"/>
<rect x="1601.90" y="323.35" width="6.01" height="113.80" fill="#be4a74"/>
<rect x="1609.61" y="323.35" width="6.01" height="113.80" fill="#f4dae5"/>
<rect x="1617.33" y="323.35" width="6.01" height="113.80" fill="#c96c93"/>
<rect x="1625.04" y="323.35" width="6.01" height="113.80" fill="#d794b3"/>
<rect x="1632.75" y="323.35" width="6.01" height="113.80" fill="#c96c93"/>
<rect x="1640.47" y="323.35" width="6.01" height="113.80" fill="#d794b3"/>
<rect x="1648.18" y="323.35" width="6.01" height="113.80" fill="#e5b5cc"/>
<rect x="1655.90" y="323.35" width="6.01" height="113.80" fill="#d794b3"/>
<rect x="1663.61" y="323.35" width="6.01" height="113.80" fill="#d794b3"/>
<rect x="1671.32" y="323.35" width="6.01" height="113.80" fill="#d794b3"/>
<rect x="1679.04" y="323.35" width="6.01" height="113.80" fill="#a41733"/>
<rect x="1686.75" y="323.35" width="6.01" height="113.80" fill="#dea4c0"/>
<rect x="1694.46" y="323.35" width="6.01" height="113.80" fill="#d794b3"/>
<rect x="1702.18" y="323.35" width="6.01" height="113.80" fill="#dea4c0"/>
<rect x="1709.89" y="323.35" width="6.01" height="113.80" fill="#d794b3"/>
<rect x="1717.61" y="323.35" width="6.01" height="113.80" fill="#c96c93"/>
<rect x="1725.32" y="323.35" width="6.01" height="113.80" fill="#d794b3"/>
<rect x="1733.03" y="323.35" width="6.01" height="113.80" fill="#e5b5cc"/>
<rect x="1740.75" y="323.35" width="6.01" height="113.80" fill="#c96c93"/>
<rect x="1748.46" y="323.35" width="6.01" height="113.80" fill="#d794b3"/>
<rect x="1756.17" y="323.35" width="6.01" height="113.80" fill="#d794b3"/>
<rect x="1763.89" y="323.35" width="6.01" height="113.80" fill="#d794b3"/>
<rect x="1771.60" y="323.35" width="6.01" height="113.80" fill="#d794b3"/>
<rect x="1779.32" y="323.35" width="6.01" height="113.80" fill="#be4a74"/>
<rect x="1787.03" y="323.35" width="6.01" height="113.80" fill="#d794b3"/>
<rect x="1794.74" y="323.35" width="6.01" height="113.80" fill="#fbf0f4"/>
<rect x="1802.46" y="323.35" width="6.01" height="113.80" fill="#f4dae5"/>
<rect x="1810.17" y="323.35" width="6.01" height="113.80" fill="#fefdfd"/>
<rect x="1817.88" y="323.35" width="6.01" height="113.80" fill="#fefdfd"/>
<rect x="1825.60" y="323.35" width="6.01" height="113.80" fill="#ecc8d8"/>
<rect x="1833.31" y="323.35" width="6.01" height="113.80" fill="#e5b5cc"/>
<rect x="1841.03" y="323.35" width="6.01" height="113.80" fill="#f4dae5"/>
<rect x="1848.74" y="323.35" width="6.01" height="113.80" fill="#c96c93"/>
<rect x="1856.45" y="323.35" width="6.01" height="113.80" fill="#c96c93"/>
<rect x="1864.17" y="323.35" width="6.01" height="113.80" fill="#c96c93"/>
<rect x="1871.88" y="323.35" width="6.01" height="113.80" fill="#c45b84"/>
<rect x="1879.59" y="323.35" width="6.01" height="113.80" fill="#e5b5cc"/>
<rect x="1887.31" y="323.35" width="6.01" height="113.80" fill="#d794b3"/>
<rect x="1895.02" y="323.35" width="6.01" height="113.80" fill="#e5b5cc"/>
<rect x="1902.74" y="323.35" width="6.01" height="113.80" fill="#d794b3"/>
<rect x="5.15" y="438.85" width="6.01" height="113.60" fill="#fefdfd"/>
<rect x="12.86" y="438.85" width="6.01" height="113.60" fill="#d8f4d7"/>
<rect x="20.58" y="438.85" width="6.01" height="113.60" fill="#fefdfd"/>
<rect x="28.29" y="438.85" width="6.01" height="113.60" fill="#e6f8e5"/>
<rect x="36.01" y="438.85" width="6.01" height="113.60" fill="#e6f8e5"/>
<rect x="43.72" y="438.85" width="6.01" height="113.60" fill="#fefdfd"/>
<rect x="51.43" y="438.85" width="6.01" height="113.60" fill="#e6f8e5"/>
<rect x="59.15" y="438.85" width="6.01" height="113.60" fill="#e6f8e5"/>
<rect x="66.86" y="438.85" width="6.01" height="113.60" fill="#c9f0c9"/>
<rect x="74.57" y="438.85" width="6.01" height="113.60" fill="#c9f0c9"/>
<rect x="82.29" y="438.85" width="6.01" height="113.60" fill="#c9f0c9"/>
<rect x="90.00" y="438.85" width="6.01" height="113.60" fill="#e6f8e5"/>
<rect x="97.72" y="438.85" width="6.01" height="113.60" fill="#fefdfd"/>
<rect x="105.43" y="438.85" width="6.01" height="113.60" fill="#fefdfd"/>
<rect x="113.14" y="438.85" width="6.01" height="113.60" fill="#c9f0c9"/>
<rect x="120.86" y="438.85" width="6.01" height="113.60" fill="#c9f0c9"/>
<rect x="128.57" y="438.85" width="6.01" height="113.60" fill="#fefdfd"/>
<rect x="136.28" y="438.85" width="6.01" height="113.60" fill="#fefdfd"/>
<rect x="144.00" y="438.85" width="6.01" height="113.60" fill="#fcf6f8"/>
<rect x="151.71" y="438.85" width="6.01" height="113.60" fill="#fefdfd"/>
<rect x="159.43" y="438.85" width="6.01" height="113.60" fill="#fefdfd"/>
<rect x="167.14" y="438.85" width="6.01" height="113.60" fill="#fefdfd"/>
<rect x="174.85" y="438.85" width="6.01" height="113.60" fill="#fbf0f4"/>
<rect x="182.57" y="438.85" width="6.01" height="113.60" fill="#fbf0f4"/>
<rect x="190.28" y="438.85" width="6.01" height="113.60" fill="#fcf6f8"/>
<rect x="197.99" y="438.85" width="6.01" height="113.60" fill="#fefdfd"/>
<rect x="205.71" y="438.85" width="6.01" height="113.60" fill="#fefdfd"/>
<rect x="213.42" y="438.85" width="6.01" height="113.60" fill="#fefdfd"/>
<rect x="221.14" y="438.85" width="6.01" height="113.60" fill="#fefdfd"/>
<rect x="228.85" y="438.85" width="6.01" height="113.60" fill="#fefdfd"/>
<rect x="236.56" y="438.85" width="6.01" height="113.60" fill="#fbf0f4"/>
<rect x="244.28" y="438.85" width="6.01" height="113.60" fill="#fefdfd"/>
<rect x="251.99" y="438.85" width="6.01" height="113.60" fill="#fefdfd"/>
<rect x="259.70" y="438.85" width="6.01" height="113.60" fill="#c9f0c9"/>
<rect x="267.42" y="438.85" width="6.01" height="113.60" fill="#d8f4d7"/>
<rect x="275.13" y="438.85" width="6.01" height="113.60" fill="#e6f8e5"/>
<rect x="282.85" y="438.85" width="6.01" height="113.60" fill="#fefdfd"/>
<rect x="290.56" y="438.85" width="6.01" height="113.60" fill="#fcf6f8"/>
<rect x="298.27" y="438.85" width="6.01" height="113.60" fill="#fbf0f4"/>
<rect x="305.99" y="438.85" width="6.01" height="113.60" fill="#f4dae5"/>
<rect x="313.70" y="438.85" width="6.01" height="113.60" fill="#fbf0f4"/>
<rect x="321.41" y="438.85" width="6.01" height="113.60" fill="#fefdfd"/>
<rect x="329.13" y="438.85" width="6.01" height="113.60" fill="#fbf0f4"/>
<rect x="336.84" y="438.85" width="6.01" height="113.60" fill="#f4dae5"/>
<rect x="344.56" y="438.85" width="6.01" height="113.60" fill="#d080a3"/>
<rect x="352.27" y="438.85" width="6.01" height="113.60" fill="#fefdfd"/>
<rect x="359.98" y="438.85" width="6.01" height="113.60" fill="#fbf0f4"/>
<rect x="367.70" y="438.85" width="6.01" height="113.60" fill="#fefdfd"/>
<rect x="375.41" y="438.85" width="6.01" height="113.60" fill="#fefdfd"/>
<rect x="383.12" y="438.85" width="6.01" height="113.60" fill="#fefdfd"/>
<rect x="390.84" y="438.85" width="6.01" height="113.60" fill="#fbf0f4"/>
<rect x="398.55" y="438.85" width="6.01" height="113.60" fill="#fefdfd"/>
<rect x="406.27" y="438.85" width="6.01" height="113.60" fill="#fbf0f4"/>
<rect x="413.98" y="438.85" width="6.01" height="113.60" fill="#c96c93"/>
<rect x="421.69" y="438.85" width="6.01" height="113.60" fill="#fbf0f4"/>
<rect x="429.41" y="438.85" width="6.01" height="113.60" fill="#fbf0f4"/>
<rect x="437.12" y="438.85" width="6.01" height="113.60" fill="#fbf0f4"/>
<rect x="444.83" y="438.85" width="6.01" height="113.60" fill="#fbf0f4"/>
<rect x="452.55" y="438.85" width="6.01" height="113.60" fill="#fbf0f4"/>
<rect x="460.26" y="438.85" width="6.01" height="113.60" fill="#fcf6f8"/>
<rect x="467.98" y="438.85" width="6.01" height="113.60" fill="#fbf0f4"/>
<rect x="475.69" y="438.85" width="6.01" height="113.60" fill="#e5b5cc"/>
<rect x="483.40" y="438.85" width="6.01" height="113.60" fill="#fefdfd"/>
<rect x="491.12" y="438.85" width="6.01" height="113.60" fill="#fefdfd"/>
<rect x="498.83" y="438.85" width="6.01" height="113.60" fill="#ecc8d8"/>
<rect x="506.54" y="438.85" width="6.01" height="113.60" fill="#f8e5ec"/>
<rect x="514.26" y="438.85" width="6.01" height="113.60" fill="#fefdfd"/>
<rect x="521.97" y="438.85" width="6.01" height="113.60" fill="#fbf0f4"/>
<rect x="529.69" y="438.85" width="6.01" height="113.60" fill="#f4dae5"/>
<rect x="537.40" y="438.85" width="6.01" height="113.60" fill="#fefdfd"/>
<rect x="545.11" y="438.85" width="6.01" height="113.60" fill="#fbf0f4"/>
<rect x="552.83" y="438.85" width="6.01" height="113.60" fill="#fbf0f4"/>
<rect x="560.54" y="438.85" width="6.01" height="113.60" fill="#fefdfd"/>
<rect x="568.25" y="438.85" width="6.01" height="113.60" fill="#fbf0f4"/>
<rect x="575.97" y="438.85" width="6.01" height="113.60" fill="#fefdfd"/>
<rect x="583.68" y="438.85" width="6.01" height="113.60" fill="#fbf0f4"/>
<rect x="591.40" y="438.85" width="6.01" height="113.60" fill="#f4dae5"/>
<rect x="599.11" y="438.85" width="6.01" height="113.60" fill="#fefdfd"/>
<rect x="606.82" y="438.85" width="6.01" height="113.60" fill="#fbf0f4"/>
<rect x="614.54" y="438.85" width="6.01" height="113.60" fill="#fbf0f4"/>
<rect x="622.25" y="438.85" width="6.01" height="113.60" fill="#f4dae5"/>
<rect x="629.96" y="438.85" width="6.01" height="113.60" fill="#fefdfd"/>
<rect x="637.68" y="438.85" width="6.01" height="113.60" fill="#ecc8d8"/>
<rect x="645.39" y="438.85" width="6.01" height="113.60" fill="#fefdfd"/>
<rect x="653.11" y="438.85" width="6.01" height="113.60" fill="#fefdfd"/>
<rect x="660.82" y="438.85" width="6.01" height="113.60" fill="#fefdfd"/>
<rect x="668.53" y="438.85" width="6.01" height="113.60" fill="#f4dae5"/>
<rect x="676.25" y="438.85" width="6.01" height="113.60" fill="#fefdfd"/>
<rect x="683.96" y="438.85" width="6.01" height="113.60" fill="#fefdfd"/>
<rect x="691.68" y="438.85" width="6.01" height="113.60" fill="#fbf0f4"/>
<rect x="699.39" y="438.85" width="6.01" height="113.60" fill="#e5b5cc"/>
<rect x="707.10" y="438.85" width="6.01" height="113.60" fill="#fbf0f4"/>
<rect x="714.82" y="438.85" width="6.01" height="113.60" fill="#f4dae5"/>
<rect x="722.53" y="438.85" width="6.01" height="113.60" fill="#d794b3"/>
<rect x="730.24" y="438.85" width="6.01" height="113.60" fill="#ae2144"/>
<rect x="737.96" y="438.85" width="6.01" height="113.60" fill="#e5b5cc"/>
<rect x="745.67" y="438.85" width="6.01" height="113.60" fill="#fbf0f4"/>
<rect x="753.39" y="438.85" width="6.01" height="113.60" fill="#e5b5cc"/>
<rect x="761.10" y="438.85" width="6.01" height="113.60" fill="#f4dae5"/>
<rect x="768.81" y="438.85" width="6.01" height="113.60" fill="#d794b3"/>
<rect x="776.53" y="438.85" width="6.01" height="113.60" fill="#e5b5cc"/>
<rect x="784.24" y="438.85" width="6.01" height="113.60" fill="#ae2144"/>
<rect x="791.95" y="438.85" width="6.01" height="113.60" fill="#e5b5cc"/>
<rect x="799.67" y="438.85" width="6.01" height="113.60" fill="#e5b5cc"/>
<rect x="807.38" y="438.85" width="6.01" height="113.60" fill="#f4dae5"/>
<rect x="815.10" y="438.85" width="6.01" height="113.60" fill="#ecc8d8"/>
<rect x="822.81" y="438.85" width="6.01" height="113.60" fill="#d794b3"/>
<rect x="830.52" y="438.85" width="6.01" height="113.60" fill="#fbf0f4"/>
<rect x="838.24" y="438.85" width="6.01" height="113.60" fill="#d794b3"/>
<rect x="845.95" y="438.85" width="6.01" height="113.60" fill="#be4a74"/>
<rect x="853.66" y="438.85" width="6.01" height="113.60" fill="#f4dae5"/>
<rect x="861.38" y="438.85" width="6.01" height="113.60" fill="#e5b5cc"/>
<rect x="869.09" y="438.85" width="6.01" height="113.60" fill="#d080a3"/>
<rect x="876.81" y="438.85" width="6.01" height="113.60" fill="#d794b3"/>
<rect x="884.52" y="438.85" width="6.01" height="113.60" fill="#e5b5cc"/>
<rect x="892.23" y="438.85" width="6.01" height="113.60" fill="#e5b5cc"/>
<rect x="899.95" y="438.85" width="6.01" height="113.60" fill="#fbf0f4"/>
<rect x="907.66" y="438.85" width="6.01" height="113.60" fill="#f4dae5"/>
<rect x="915.37" y="438.85" width="6.01" height="113.60" fill="#f4dae5"/>
<rect x="923.09" y="438.85" width="6.01" height="113.60" fill="#fefdfd"/>
<rect x="930.80" y="438.85" width="6.01" height="113.60" fill="#d794b3"/>
<rect x="938.52" y="438.85" width="6.01" height="113.60" fill="#f4dae5"/>
<rect x="946.23" y="438.85" width="6.01" height="113.60" fill="#d794b3"/>
<rect x="953.94" y="438.85" width="6.01" height="113.60" fill="#e5b5cc"/>
<rect x="961.66" y="438.85" width="6.01" height="113.60" fill="#e5b5cc"/>
<rect x="969.37" y="438.85" width="6.01" height="113.60" fill="#e5b5cc"/>
<rect x="977.08" y="438.85" width="6.01" height="113.60" fill="#d794b3"/>
<rect x="984.80" y="438.85" width="6.01" height="113.60" fill="#c96c93"/>
<rect x="992.51" y="438.85" width="6.01" height="113.60" fill="#c96c93"/>
<rect x="1000.23" y="438.85" width="6.01" height="113.60" fill="#d794b3"/>
<rect x="1007.94" y="438.85" width="6.01" height="113.60" fill="#c96c93"/>
<rect x="1015.65" y="438.85" width="6.01" height="113.60" fill="#ae2144"/>
<rect x="1023.37" y="438.85" width="6.01" height="113.60" fill="#fefdfd"/>
<rect x="1031.08" y="438.85" width="6.01" height="113.60" fill="#ecc8d8"/>
<rect x="1038.79" y="438.85" width="6.01" height="113.60" fill="#fbf0f4"/>
<rect x="1046.51" y="438.85" width="6.01" height="113.60" fill="#f8e5ec"/>
<rect x="1054.22" y="438.85" width="6.01" height="113.60" fill="#fcf6f8"/>
<rect x="1061.94" y="438.85" width="6.01" height="113.60" fill="#e5b5cc"/>
<rect x="1069.65" y="438.85" width="6.01" height="113.60" fill="#e5b5cc"/>
<rect x="1077.36" y="438.85" width="6.01" height="113.60" fill="#c96c93"/>
<rect x="1085.08" y="438.85" width="6.01" height="113.60" fill="#be4a74"/>
<rect x="1092.79" y="438.85" width="6.01" height="113.60" fill="#c96c93"/>
<rect x="1100.50" y="438.85" width="6.01" height="113.60" fill="#d794b3"/>
<rect x="1108.22" y="438.85" width="6.01" height="113.60" fill="#e5b5cc"/>
<rect x="1115.93" y="438.85" width="6.01" height="113.60" fill="#d794b3"/>
<rect x="1123.65" y="438.85" width="6.01" height="113.60" fill="#f8e5ec"/>
<rect x="1131.36" y="438.85" width="6.01" height="113.60" fill="#f4dae5"/>
<rect x="1139.07" y="438.85" width="6.01" height="113.60" fill="#dea4c0"/>
<rect x="1146.79" y="438.85" width="6.01" height="113.60" fill="#be4a74"/>
<rect x="1154.50" y="438.85" width="6.01" height="113.60" fill="#ae2144"/>
<rect x="1162.21" y="438.85" width="6.01" height="113.60" fill="#e5b5cc"/>
<rect x="1169.93" y="438.85" width="6.01" height="113.60" fill="#f4dae5"/>
<rect x="1177.64" y="438.85" width="6.01" height="113.60" fill="#e5b5cc"/>
<rect x="1185.36" y="438.85" width="6.01" height="113.60" fill="#d794b3"/>
<rect x="1193.07" y="438.85" width="6.01" height="113.60" fill="#e5b5cc"/>
<rect x="1200.78" y="438.85" width="6.01" height="113.60" fill="#ae2144"/>
<rect x="1208.50" y="438.85" width="6.01" height="113.60" fill="#be4a74"/>
<rect x="1216.21" y="438.85" width="6.01" height="113.60" fill="#c45b84"/>
<rect x="1223.92" y="438.85" width="6.01" height="113.60" fill="#c96c93"/>
<rect x="1231.64" y="438.85" width="6.01" height="113.60" fill="#d794b3"/>
<rect x="1239.35" y="438.85" width="6.01" height="113.60" fill="#fbf0f4"/>
<rect x="1247.07" y="438.85" width="6.01" height="113.60" fill="#8e000c"/>
<rect x="1254.78" y="438.85" width="6.01" height="113.60" fill="#f4dae5"/>
<rect x="1262.49" y="438.85" width="6.01" height="113.60" fill="#fbf0f4"/>
<rect x="1270.21" y="438.85" width="6.01" height="113.60" fill="#f4dae5"/>
<rect x="1277.92" y="438.85" width="6.01" height="113.60" fill="#f4dae5"/>
<rect x="1285.64" y="438.85" width="6.01" height="113.60" fill="#f4dae5"/>
<rect x="1293.35" y="438.85" width="6.01" height="113.60" fill="#ecc8d8"/>
<rect x="1301.06" y="438.85" width="6.01" height="113.60" fill="#e5b5cc"/>
<rect x="1308.78" y="438.85" width="6.01" height="113.60" fill="#e5b5cc"/>
<rect x="1316.49" y="438.85" width="6.01" height="113.60" fill="#e5b5cc"/>
<rect x="1324.20" y="438.85" width="6.01" height="113.60" fill="#f8e5ec"/>
<rect x="1331.92" y="438.85" width="6.01" height="113.60" fill="#e5b5cc"/>
<rect x="1339.63" y="438.85" width="6.01" height="113.60" fill="#c96c93"/>
<rect x="1347.35" y="438.85" width="6.01" height="113.60" fill="#e5b5cc"/>
<rect x="1355.06" y="438.85" width="6.01" height="113.60" fill="#e5b5cc"/>
<rect x="1362.77" y="438.85" width="6.01" height="113.60" fill="#f4dae5"/>
<rect x="1370.49" y="438.85" width="6.01" height="113.60" fill="#f8e5ec"/>
<rect x="1378.20" y="438.85" width="6.01" height="113.60" fill="#e5b5cc"/>
<rect x="1385.91" y="438.85" width="6.01" height="113.60" fill="#f4dae5"/>
<rect x="1393.63" y="438.85" width="6.01" height="113.60" fill="#e5b5cc"/>
<rect x="1401.34" y="438.85" width="6.01" height="113.60" fill="#dea4c0"/>
<rect x="1409.06" y="438.85" width="6.01" height="113.60" fill="#f8e5ec"/>
<rect x="1416.77" y="438.85" width="6.01" height="113.60" fill="#d794b3"/>
<rect x="1424.48" y="438.85" width="6.01" height="113.60" fill="#e5b5cc"/>
<rect x="1432.20" y="438.85" width="6.01" height="113.60" fill="#e5b5cc"/>
<rect x="1439.91" y="438.85" width="6.01" height="113.60" fill="#f4dae5"/>
<rect x="1447.62" y="438.85" width="6.01" height="113.60" fill="#f8e5ec"/>
<rect x="1455.34" y="438.85" width="6.01" height="113.60" fill="#fbf0f4"/>
<rect x="1463.05" y="438.85" width="6.01" height="113.60" fill="#e5b5cc"/>
<rect x="1470.77" y="438.85" width="6.01" height="113.60" fill="#e5b5cc"/>
<rect x="1478.48" y="438.85" width="6.01" height="113.60" fill="#d794b3"/>
<rect x="1486.19" y="438.85" width="6.01" height="113.60" fill="#d794b3"/>
<rect x="1493.91" y="438.85" width="6.01" height="113.60" fill="#d794b3"/>
<rect x="1501.62" y="438.85" width="6.01" height="113.60" fill="#d080a3"/>
<rect x="1509.33" y="438.85" width="6.01" height="113.60" fill="#f4dae5"/>
<rect x="1517.05" y="438.85" width="6.01" height="113.60" fill="#f4dae5"/>
<rect x="1524.76" y="438.85" width="6.01" height="113.60" fill="#e5b5cc"/>
<rect x="1532.48" y="438.85" width="6.01" height="113.60" fill="#fefdfd"/>
<rect x="1540.19" y="438.85" width="6.01" height="113.60" fill="#e5b5cc"/>
<rect x="1547.90" y="438.85" width="6.01" height="113.60" fill="#d794b3"/>
<rect x="1555.62" y="438.85" width="6.01" height="113.60" fill="#f4dae5"/>
<rect x="1563.33" y="438.85" width="6.01" height="113.60" fill="#d794b3"/>
<rect x="1571.04" y="438.85" width="6.01" height="113.60" fill="#d794b3"/>
<rect x="1578.76" y="438.85" width="6.01" height="113.60" fill="#e5b5cc"/>
<rect x="1586.47" y="438.85" width="6.01" height="113.60" fill="#fbf0f4"/>
<rect x="1594.19" y="438.85" width="6.01" height="113.60" fill="#dea4c0"/>
<rect x="1601.90" y="438.85" width="6.01" height="113.60" fill="#b6365c"/>
<rect x="1609.61" y="438.85" width="6.01" height="113.60" fill="#f4dae5"/>
<rect x="1617.33" y="438.85" width="6.01" height="113.60" fill="#d794b3"/>
<rect x="1625.04" y="438.85" width="6.01" height="113.60" fill="#d794b3"/>
<rect x="1632.75" y="438.85" width="6.01" height="113.60" fill="#d794b3"/>
<rect x="1640.47" y="438.85" width="6.01" height="113.60" fill="#e5b5cc"/>
<rect x="1648.18" y="438.85" width="6.01" height="113.60" fill="#f4dae5"/>
<rect x="1655.90" y="438.85" width="6.01" height="113.60" fill="#e5b5cc"/>
<rect x="1663.61" y="438.85" width="6.01" height="113.60" fill="#dea4c0"/>
<rect x="1671.32" y="438.85" width="6.01" height="113.60" fill="#e5b5cc"/>
<rect x="1679.04" y="438.85" width="6.01" height="113.60" fill="#a41733"/>
<rect x="1686.75" y="438.85" width="6.01" height="113.60" fill="#f4dae5"/>
<rect x="1694.46" y="438.85" width="6.01" height="113.60" fill="#f8e5ec"/>
<rect x="1702.18" y="438.85" width="6.01" height="113.60" fill="#f4dae5"/>
<rect x="1709.89" y="438.85" width="6.01" height="113.60" fill="#f4dae5"/>
<rect x="1717.61" y="438.85" width="6.01" height="113.60" fill="#f4dae5"/>
<rect x="1725.32" y="438.85" width="6.01" height="113.60" fill="#f4dae5"/>
<rect x="1733.03" y="438.85" width="6.01" height="113.60" fill="#e5b5cc"/>
<rect x="1740.75" y="438.85" width="6.01" height="113.60" fill="#d794b3"/>
<rect x="1748.46" y="438.85" width="6.01" height="113.60" fill="#dea4c0"/>
<rect x="1756.17" y="438.85" width="6.01" height="113.60" fill="#c96c93"/>
<rect x="1763.89" y="438.85" width="6.01" height="113.60" fill="#c96c93"/>
<rect x="1771.60" y="438.85" width="6.01" height="113.60" fill="#d794b3"/>
<rect x="1779.32" y="438.85" width="6.01" height="113.60" fill="#c96c93"/>
<rect x="1787.03" y="438.85" width="6.01" height="113.60" fill="#d080a3"/>
<rect x="1794.74" y="438.85" width="6.01" height="113.60" fill="#f4dae5"/>
<rect x="1802.46" y="438.85" width="6.01" height="113.60" fill="#f4dae5"/>
<rect x="1810.17" y="438.85" width="6.01" height="113.60" fill="#fefdfd"/>
<rect x="1817.88" y="438.85" width="6.01" height="113.60" fill="#fefdfd"/>
<rect x="1825.60" y="438.85" width="6.01" height="113.60" fill="#ecc8d8"/>
<rect x="1833.31" y="438.85" width="6.01" height="113.60" fill="#e5b5cc"/>
<rect x="1841.03" y="438.85" width="6.01" height="113.60" fill="#f4dae5"/>
<rect x="1848.74" y="438.85" width="6.01" height="113.60" fill="#d794b3"/>
<rect x="1856.45" y="438.85" width="6.01" height="113.60" fill="#c96c93"/>
<rect x="1864.17" y="438.85" width="6.01" height="113.60" fill="#d794b3"/>
<rect x="1871.88" y="438.85" width="6.01" height="113.60" fill="#d794b3"/>
<rect x="1879.59" y="438.85" width="6.01" height="113.60" fill="#e5b5cc"/>
<rect x="1887.31" y="438.85" width="6.01" height="113.60" fill="#d794b3"/>
<rect x="1895.02" y="438.85" width="6.01" height="113.60" fill="#e5b5cc"/>
<rect x="1902.74" y="438.85" width="6.01" height="113.60" fill="#e5b5cc"/>
<path d="M8.16 553.30v10.00M15.87 553.30v10.00M23.58 553.30v10.00M31.30 553.30v10.00M39.01 553.30v10.00M46.73 553.30v10.00M54.44 553.30v10.00M62.15 553.30v10.00M69.87 553.30v10.00M77.58 553.30v10.00M85.29 553.30v10.00M93.01 553.30v10.00M100.72 553.30v10.00M108.44 553.30v10.00M116.15 553.30v10.00M123.86 553.30v10.00M131.58 553.30v10.00M139.29 553.30v10.00M147.00 553.30v10.00M154.72 553.30v10.00M162.43 553.30v10.00M170.15 553.30v10.00M177.86 553.30v10.00M185.57 553.30v10.00M193.29 553.30v10.00M201.00 553.30v10.00M208.71 553.30v10.00M216.43 553.30v10.00M224.14 553.30v10.00M231.86 553.30v10.00M239.57 553.30v10.00M247.28 553.30v10.00M255.00 553.30v10.00M262.71 553.30v10.00M270.42 553.30v10.00M278.14 553.30v10.00M285.85 553.30v10.00M293.57 553.30v10.00M301.28 553.30v10.00M308.99 553.30v10.00M316.71 553.30v10.00M324.42 553.30v10.00M332.14 553.30v10.00M339.85 553.30v10.00M347.56 553.30v10.00M355.28 553.30v10.00M362.99 553.30v10.00M370.70 553.30v10.00M378.42 553.30v10.00M386.13 553.30v10.00M393.85 553.30v10.00M401.56 553.30v10.00M409.27 553.30v10.00M416.99 553.30v10.00M424.70 553.30v10.00M432.41 553.30v10.00M440.13 553.30v10.00M447.84 553.30v10.00M455.56 553.30v10.00M463.27 553.30v10.00M470.98 553.30v10.00M478.70 553.30v10.00M486.41 553.30v10.00M494.12 553.30v10.00M501.84 553.30v10.00M509.55 553.30v10.00M517.27 553.30v10.00M524.98 553.30v10.00M532.69 553.30v10.00M540.41 553.30v10.00M548.12 553.30v10.00M555.83 553.30v10.00M563.55 553.30v10.00M571.26 553.30v10.00M578.98 553.30v10.00M586.69 553.30v10.00M594.40 553.30v10.00M602.12 553.30v10.00M609.83 553.30v10.00M617.54 553.30v10.00M625.26 553.30v10.00M632.97 553.30v10.00M640.69 553.30v10.00M648.40 553.30v10.00M656.11 553.30v10.00M663.83 553.30v10.00M671.54 553.30v10.00M679.25 553.30v10.00M686.97 553.30v10.00M694.68 553.30v10.00M702.40 553.30v10.00M710.11 553.30v10.00M717.82 553.30v10.00M725.54 553.30v10.00M733.25 553.30v10.00M740.96 553.30v10.00M748.68 553.30v10.00M756.39 553.30v10.00M764.11 553.30v10.00M771.82 553.30v10.00M779.53 553.30v10.00M787.25 553.30v10.00M794.96 553.30v10.00M802.67 553.30v10.00M810.39 553.30v10.00M818.10 553.30v10.00M825.82 553.30v10.00M833.53 553.30v10.00M841.24 553.30v10.00M848.96 553.30v10.00M856.67 553.30v10.00M864.38 553.30v10.00M872.10 553.30v10.00M879.81 553.30v10.00M887.53 553.30v10.00M895.24 553.30v10.00M902.95 553.30v10.00M910.67 553.30v10.00M918.38 553.30v10.00M926.09 553.30v10.00M933.81 553.30v10.00M941.52 553.30v10.00M949.24 553.30v10.00M956.95 553.30v10.00M964.66 553.30v10.00M972.38 553.30v10.00M980.09 553.30v10.00M987.81 553.30v10.00M995.52 553.30v10.00M1003.23 553.30v10.00M1010.95 553.30v10.00M1018.66 553.30v10.00M1026.37 553.30v10.00M1034.09 553.30v10.00M1041.80 553.30v10.00M1049.52 553.30v10.00M1057.23 553.30v10.00M1064.94 553.30v10.00M1072.66 553.30v10.00M1080.37 553.30v10.00M1088.08 553.30v10.00M1095.80 553.30v10.00M1103.51 553.30v10.00M1111.23 553.30v10.00M1118.94 553.30v10.00M1126.65 553.30v10.00M1134.37 553.30v10.00M1142.08 553.30v10.00M1149.79 553.30v10.00M1157.51 553.30v10.00M1165.22 553.30v10.00M1172.94 553.30v10.00M1180.65 553.30v10.00M1188.36 553.30v10.00M1196.08 553.30v10.00M1203.79 553.30v10.00M1211.50 553.30v10.00M1219.22 553.30v10.00M1226.93 553.30v10.00M1234.65 553.30v10.00M1242.36 553.30v10.00M1250.07 553.30v10.00M1257.79 553.30v10.00M1265.50 553.30v10.00M1273.21 553.30v10.00M1280.93 553.30v10.00M1288.64 553.30v10.00M1296.36 553.30v10.00M1304.07 553.30v10.00M1311.78 553.30v10.00M1319.50 553.30v10.00M1327.21 553.30v10.00M1334.92 553.30v10.00M1342.64 553.30v10.00M1350.35 553.30v10.00M1358.07 553.30v10.00M1365.78 553.30v10.00M1373.49 553.30v10.00M1381.21 553.30v10.00M1388.92 553.30v10.00M1396.63 553.30v10.00M1404.35 553.30v10.00M1412.06 553.30v10.00M1419.78 553.30v10.00M1427.49 553.30v10.00M1435.20 553.30v10.00M1442.92 553.30v10.00M1450.63 553.30v10.00M1458.34 553.30v10.00M1466.06 553.30v10.00M1473.77 553.30v10.00M1481.49 553.30v10.00M1489.20 553.30v10.00M1496.91 553.30v10.00M1504.63 553.30v10.00M1512.34 553.30v10.00M1520.05 553.30v10.00M1527.77 553.30v10.00M1535.48 553.30v10.00M1543.20 553.30v10.00M1550.91 553.30v10.00M1558.62 553.30v10.00M1566.34 553.30v10.00M1574.05 553.30v10.00M1581.76 553.30v10.00M1589.48 553.30v10.00M1597.19 553.30v10.00M1604.91 553.30v10.00M1612.62 553.30v10.00M1620.33 553.30v10.00M1628.05 553.30v10.00M1635.76 553.30v10.00M1643.48 553.30v10.00M1651.19 553.30v10.00M1658.90 553.30v10.00M1666.62 553.30v10.00M1674.33 553.30v10.00M1682.04 553.30v10.00M1689.76 553.30v10.00M1697.47 553.30v10.00M1705.19 553.30v10.00M1712.90 553.30v10.00M1720.61 553.30v10.00M1728.33 553.30v10.00M1736.04 553.30v10.00M1743.75 553.30v10.00M1751.47 553.30v10.00M1759.18 553.30v10.00M1766.90 553.30v10.00M1774.61 553.30v10.00M1782.32 553.30v10.00M1790.04 553.30v10.00M1797.75 553.30v10.00M1805.46 553.30v10.00M1813.18 553.30v10.00M1820.89 553.30v10.00M1828.61 553.30v10.00M1836.32 553.30v10.00M1844.03 553.30v10.00M1851.75 553.30v10.00M1859.46 553.30v10.00M1867.17 553.30v10.00M1874.89 553.30v10.00M1882.60 553.30v10.00M1890.32 553.30v10.00M1898.03 553.30v10.00M1905.74 553.30v10.00" stroke="#0e131b" stroke-width="2" fill="none"/>
<rect x="1909.60" y="262.20" width="10" height="2.8" fill="#0e131b"/>
<rect x="1909.60" y="377.70" width="10" height="2.8" fill="#0e131b"/>
<rect x="1909.60" y="493.20" width="10" height="2.8" fill="#0e131b"/>
</g>
<g font-size="10.45" fill="#121a24" stroke="#121a24" stroke-width="0.4" text-anchor="end">
<text transform="translate(12.26 569.20) rotate(-90) scale(1 1)">Sorafenib Tosylate</text>
<text transform="translate(19.97 569.20) rotate(-90) scale(1 1)">Crizotinib (PF-02341066)</text>
<text transform="translate(27.68 569.20) rotate(-90) scale(1 1)">GSK690693</text>
<text transform="translate(35.40 569.20) rotate(-90) scale(1 1)">SNS-032 (BMS-387032)</text>
<text transform="translate(43.11 569.20) rotate(-90) scale(1 1)">Vincristine sulfate</text>
<text transform="translate(50.83 569.20) rotate(-90) scale(1 1)">Omipalisib (GSK2126458, GSK458)</text>
<text transform="translate(58.54 569.20) rotate(-90) scale(1 1)">Trametinib (GSK1120212)</text>
<text transform="translate(66.25 569.20) rotate(-90) scale(1 1)">NVP-BSK805 2HCl</text>
<text transform="translate(73.97 569.20) rotate(-90) scale(1 1)">Crenolanib (CP-868596)</text>
<text transform="translate(81.68 569.20) rotate(-90) scale(1 1)">Fedratinib (SAR302503, TG101348)</text>
<text transform="translate(89.39 569.20) rotate(-90) scale(1 1)">Bay 11-7085</text>
<text transform="translate(97.11 569.20) rotate(-90) scale(1 1)">BIX 01294</text>
<text transform="translate(104.82 569.20) rotate(-90) scale(1 1)">2-Methoxyestradiol (2-MeOE2)</text>
<text transform="translate(112.54 569.20) rotate(-90) scale(1 1)">PD173074</text>
<text transform="translate(120.25 569.20) rotate(-90) scale(1 1)">SGI-1776 free base</text>
<text transform="translate(127.96 569.20) rotate(-90) scale(1 1)">Daunorubicin HCl</text>
<text transform="translate(135.68 569.20) rotate(-90) scale(1 1)">ABT-737</text>
<text transform="translate(143.39 569.20) rotate(-90) scale(1 1)">Dasatinib</text>
<text transform="translate(151.10 569.20) rotate(-90) scale(1 1)">Entinostat (MS-275)</text>
<text transform="translate(158.82 569.20) rotate(-90) scale(1 1)">Linsitinib (OSI-906)</text>
<text transform="translate(166.53 569.20) rotate(-90) scale(1 1)">Rucaparib (AG-014699,PF-01367338) phosphate</text>
<text transform="translate(174.25 569.20) rotate(-90) scale(1 1)">JNJ-26854165 (Serdemetan)</text>
<text transform="translate(181.96 569.20) rotate(-90) scale(1 1)">ENMD-2076</text>
<text transform="translate(189.67 569.20) rotate(-90) scale(1 1)">Etoposide</text>
<text transform="translate(197.39 569.20) rotate(-90) scale(1 1)">KU-0063794</text>
<text transform="translate(205.10 569.20) rotate(-90) scale(1 1)">Topotecan HCl</text>
<text transform="translate(212.81 569.20) rotate(-90) scale(1 1)">BX-795</text>
<text transform="translate(220.53 569.20) rotate(-90) scale(1 1)">Tie2 kinase inhibitor</text>
<text transform="translate(228.24 569.20) rotate(-90) scale(1 1)">AG-14361</text>
<text transform="translate(235.96 569.20) rotate(-90) scale(1 1)">(-)-Epigallocatechin Gallate</text>
<text transform="translate(243.67 569.20) rotate(-90) scale(1 1)">Bosutinib (SKI-606)</text>
<text transform="translate(251.38 569.20) rotate(-90) scale(1 1)">Abexinostat (PCI-24781)</text>
<text transform="translate(259.10 569.20) rotate(-90) scale(1 1)">Selumetinib (AZD6244)</text>
<text transform="translate(266.81 569.20) rotate(-90) scale(1 1)">Rebastinib (DCC-2036)</text>
<text transform="translate(274.52 569.20) rotate(-90) scale(1 1)">Triptolide (PG490)</text>
<text transform="translate(282.24 569.20) rotate(-90) scale(1 1)">CEP-33779</text>
<text transform="translate(289.95 569.20) rotate(-90) scale(1 1)">Linifanib (ABT-869)</text>
<text transform="translate(297.67 569.20) rotate(-90) scale(1 1)">Saracatinib (AZD0530)</text>
<text transform="translate(305.38 569.20) rotate(-90) scale(1 1)">PI-103</text>
<text transform="translate(313.09 569.20) rotate(-90) scale(1 1)">Tozasertib (VX-680, MK-0457)</text>
<text transform="translate(320.81 569.20) rotate(-90) scale(1 1)">Obatoclax Mesylate (GX15-070)</text>
<text transform="translate(328.52 569.20) rotate(-90) scale(1 1)">Pictilisib (GDC-0941)</text>
<text transform="translate(336.24 569.20) rotate(-90) scale(1 1)">Luminespib (AUY-922, NVP-AUY922)</text>
<text transform="translate(343.95 569.20) rotate(-90) scale(1 1)">Belinostat (PXD101)</text>
<text transform="translate(351.66 569.20) rotate(-90) scale(1 1)">GDC-0879</text>
<text transform="translate(359.38 569.20) rotate(-90) scale(1 1)">YM155 (Sepantronium Bromide)</text>
<text transform="translate(367.09 569.20) rotate(-90) scale(1 1)">Alisertib (MLN8237)</text>
<text transform="translate(374.80 569.20) rotate(-90) scale(1 1)">Alvespimycin (17-DMAG) HCl</text>
<text transform="translate(382.52 569.20) rotate(-90) scale(1 1)">Paclitaxel</text>
<text transform="translate(390.23 569.20) rotate(-90) scale(1 1)">SNS-314</text>
<text transform="translate(397.95 569.20) rotate(-90) scale(1 1)">ABT-751 (E7010)</text>
<text transform="translate(405.66 569.20) rotate(-90) scale(1 1)">Tivozanib (AV-951)</text>
<text transform="translate(413.37 569.20) rotate(-90) scale(1 1)">WYE-354</text>
<text transform="translate(421.09 569.20) rotate(-90) scale(1 1)">Vemurafenib (PLX4032, RG7204)</text>
<text transform="translate(428.80 569.20) rotate(-90) scale(1 1)">Pelitinib (EKB-569)</text>
<text transform="translate(436.51 569.20) rotate(-90) scale(1 1)">PIK-93</text>
<text transform="translate(444.23 569.20) rotate(-90) scale(1 1)">Ponatinib (AP24534)</text>
<text transform="translate(451.94 569.20) rotate(-90) scale(1 1)">AZD8055</text>
<text transform="translate(459.66 569.20) rotate(-90) scale(1 1)">KU-60019</text>
<text transform="translate(467.37 569.20) rotate(-90) scale(1 1)">PF-573228</text>
<text transform="translate(475.08 569.20) rotate(-90) scale(1 1)">Momelotinib (CYT387)</text>
<text transform="translate(482.80 569.20) rotate(-90) scale(1 1)">SB590885</text>
<text transform="translate(490.51 569.20) rotate(-90) scale(1 1)">Buparlisib (BKM120, NVP-BKM120)</text>
<text transform="translate(498.22 569.20) rotate(-90) scale(1 1)">Lonidamine</text>
<text transform="translate(505.94 569.20) rotate(-90) scale(1 1)">Rabusertib (LY2603618)</text>
<text transform="translate(513.65 569.20) rotate(-90) scale(1 1)">GW3965 HCl</text>
<text transform="translate(521.37 569.20) rotate(-90) scale(1 1)">Ibrutinib (PCI-32765)</text>
<text transform="translate(529.08 569.20) rotate(-90) scale(1 1)">KX2-391</text>
<text transform="translate(536.79 569.20) rotate(-90) scale(1 1)">PAC-1</text>
<text transform="translate(544.51 569.20) rotate(-90) scale(1 1)">AZ 628</text>
<text transform="translate(552.22 569.20) rotate(-90) scale(1 1)">Nocodazole</text>
<text transform="translate(559.93 569.20) rotate(-90) scale(1 1)">Sapanisertib (INK 128, MLN0128)</text>
<text transform="translate(567.65 569.20) rotate(-90) scale(1 1)">Torin 2</text>
<text transform="translate(575.36 569.20) rotate(-90) scale(1 1)">TPCA-1</text>
<text transform="translate(583.08 569.20) rotate(-90) scale(1 1)">PF-562271</text>
<text transform="translate(590.79 569.20) rotate(-90) scale(1 1)">S-Ruxolitinib (INCB018424)</text>
<text transform="translate(598.50 569.20) rotate(-90) scale(1 1)">GSK650394</text>
<text transform="translate(606.22 569.20) rotate(-90) scale(1 1)">FR 180204</text>
<text transform="translate(613.93 569.20) rotate(-90) scale(1 1)">SecinH3</text>
<text transform="translate(621.64 569.20) rotate(-90) scale(1 1)">Methotrexate</text>
<text transform="translate(629.36 569.20) rotate(-90) scale(1 1)">AEE788 (NVP-AEE788)</text>
<text transform="translate(637.07 569.20) rotate(-90) scale(1 1)">AZD7762</text>
<text transform="translate(644.79 569.20) rotate(-90) scale(1 1)">Doramapimod (BIRB 796)</text>
<text transform="translate(652.50 569.20) rotate(-90) scale(1 1)">Idelalisib (CAL-101, GS-1101)</text>
<text transform="translate(660.21 569.20) rotate(-90) scale(1 1)">TAK-733</text>
<text transform="translate(667.93 569.20) rotate(-90) scale(1 1)">Flavopiridol HCl</text>
<text transform="translate(675.64 569.20) rotate(-90) scale(1 1)">AMG-900</text>
<text transform="translate(683.35 569.20) rotate(-90) scale(1 1)">Irinotecan HCl Trihydrate</text>
<text transform="translate(691.07 569.20) rotate(-90) scale(1 1)">PHA-665752</text>
<text transform="translate(698.78 569.20) rotate(-90) scale(1 1)">Veliparib (ABT-888)</text>
<text transform="translate(706.50 569.20) rotate(-90) scale(1 1)">Axitinib</text>
<text transform="translate(714.21 569.20) rotate(-90) scale(1 1)">Nintedanib (BIBF 1120)</text>
<text transform="translate(721.92 569.20) rotate(-90) scale(1 1)">Gefitinib (ZD1839)</text>
<text transform="translate(729.64 569.20) rotate(-90) scale(1 1)">Lenalidomide (CC-5013)</text>
<text transform="translate(737.35 569.20) rotate(-90) scale(1 1)">Motesanib Diphosphate (AMG-706)</text>
<text transform="translate(745.06 569.20) rotate(-90) scale(1 1)">Nilotinib (AMN-107)</text>
<text transform="translate(752.78 569.20) rotate(-90) scale(1 1)">PD0325901</text>
<text transform="translate(760.49 569.20) rotate(-90) scale(1 1)">Temsirolimus (CCI-779, NSC 683864)</text>
<text transform="translate(768.21 569.20) rotate(-90) scale(1 1)">Vorinostat (SAHA, MK0683)</text>
<text transform="translate(775.92 569.20) rotate(-90) scale(1 1)">Y-27632 2HCl</text>
<text transform="translate(783.63 569.20) rotate(-90) scale(1 1)">Elesclomol (STA-4783)</text>
<text transform="translate(791.35 569.20) rotate(-90) scale(1 1)">Olaparib (AZD2281, Ku-0059436)</text>
<text transform="translate(799.06 569.20) rotate(-90) scale(1 1)">Nutlin-3</text>
<text transform="translate(806.77 569.20) rotate(-90) scale(1 1)">SB431542</text>
<text transform="translate(814.49 569.20) rotate(-90) scale(1 1)">ZSTK474</text>
<text transform="translate(822.20 569.20) rotate(-90) scale(1 1)">SB216763</text>
<text transform="translate(829.92 569.20) rotate(-90) scale(1 1)">MK-2206 2HCl</text>
<text transform="translate(837.63 569.20) rotate(-90) scale(1 1)">SU11274</text>
<text transform="translate(845.34 569.20) rotate(-90) scale(1 1)">Vismodegib (GDC-0449)</text>
<text transform="translate(853.06 569.20) rotate(-90) scale(1 1)">Iniparib (BSI-201)</text>
<text transform="translate(860.77 569.20) rotate(-90) scale(1 1)">KU-55933 (ATM Kinase Inhibitor)</text>
<text transform="translate(868.48 569.20) rotate(-90) scale(1 1)">GSK1904529A</text>
<text transform="translate(876.20 569.20) rotate(-90) scale(1 1)">PF-04217903</text>
<text transform="translate(883.91 569.20) rotate(-90) scale(1 1)">Vatalanib (PTK787) 2HCl</text>
<text transform="translate(891.63 569.20) rotate(-90) scale(1 1)">Danusertib (PHA-739358)</text>
<text transform="translate(899.34 569.20) rotate(-90) scale(1 1)">BI 2536</text>
<text transform="translate(907.05 569.20) rotate(-90) scale(1 1)">JNJ-38877605</text>
<text transform="translate(914.77 569.20) rotate(-90) scale(1 1)">Everolimus (RAD001)</text>
<text transform="translate(922.48 569.20) rotate(-90) scale(1 1)">TW-37</text>
<text transform="translate(930.19 569.20) rotate(-90) scale(1 1)">Mocetinostat (MGCD0103)</text>
<text transform="translate(937.91 569.20) rotate(-90) scale(1 1)">Andarine</text>
<text transform="translate(945.62 569.20) rotate(-90) scale(1 1)">Barasertib (AZD1152-HQPA)</text>
<text transform="translate(953.34 569.20) rotate(-90) scale(1 1)">Capecitabine</text>
<text transform="translate(961.05 569.20) rotate(-90) scale(1 1)">Lenvatinib (E7080)</text>
<text transform="translate(968.76 569.20) rotate(-90) scale(1 1)">Valproic acid sodium salt (Sodium valproate)</text>
<text transform="translate(976.48 569.20) rotate(-90) scale(1 1)">CYC116</text>
<text transform="translate(984.19 569.20) rotate(-90) scale(1 1)">BIIB021</text>
<text transform="translate(991.91 569.20) rotate(-90) scale(1 1)">Plinabulin (NPI-2358)</text>
<text transform="translate(999.62 569.20) rotate(-90) scale(1 1)">XAV-939</text>
<text transform="translate(1007.33 569.20) rotate(-90) scale(1 1)">BIBR 1532</text>
<text transform="translate(1015.05 569.20) rotate(-90) scale(1 1)">Anastrozole</text>
<text transform="translate(1022.76 569.20) rotate(-90) scale(1 1)">Aprepitant</text>
<text transform="translate(1030.47 569.20) rotate(-90) scale(1 1)">CUDC-101</text>
<text transform="translate(1038.19 569.20) rotate(-90) scale(1 1)">Exemestane</text>
<text transform="translate(1045.90 569.20) rotate(-90) scale(1 1)">Cladribine</text>
<text transform="translate(1053.62 569.20) rotate(-90) scale(1 1)">Decitabine</text>
<text transform="translate(1061.33 569.20) rotate(-90) scale(1 1)">Doxorubicin (Adriamycin) HCl</text>
<text transform="translate(1069.04 569.20) rotate(-90) scale(1 1)">Fluorouracil (5-Fluoracil, 5-FU)</text>
<text transform="translate(1076.76 569.20) rotate(-90) scale(1 1)">Clofarabine</text>
<text transform="translate(1084.47 569.20) rotate(-90) scale(1 1)">YM201636</text>
<text transform="translate(1092.18 569.20) rotate(-90) scale(1 1)">OSI-930</text>
<text transform="translate(1099.90 569.20) rotate(-90) scale(1 1)">Raloxifene HCl</text>
<text transform="translate(1107.61 569.20) rotate(-90) scale(1 1)">Letrozole</text>
<text transform="translate(1115.33 569.20) rotate(-90) scale(1 1)">Temozolomide</text>
<text transform="translate(1123.04 569.20) rotate(-90) scale(1 1)">Amuvatinib (MP-470)</text>
<text transform="translate(1130.75 569.20) rotate(-90) scale(1 1)">JNJ-7706621</text>
<text transform="translate(1138.47 569.20) rotate(-90) scale(1 1)">Enzalutamide (MDV3100)</text>
<text transform="translate(1146.18 569.20) rotate(-90) scale(1 1)">Celecoxib</text>
<text transform="translate(1153.89 569.20) rotate(-90) scale(1 1)">Altretamine</text>
<text transform="translate(1161.61 569.20) rotate(-90) scale(1 1)">Megestrol Acetate</text>
<text transform="translate(1169.32 569.20) rotate(-90) scale(1 1)">Dexamethasone (DHAP)</text>
<text transform="translate(1177.04 569.20) rotate(-90) scale(1 1)">Bafetinib (INNO-406)</text>
<text transform="translate(1184.75 569.20) rotate(-90) scale(1 1)">Zileuton</text>
<text transform="translate(1192.46 569.20) rotate(-90) scale(1 1)">Ispinesib (SB-715992)</text>
<text transform="translate(1200.18 569.20) rotate(-90) scale(1 1)">Tipifarnib</text>
<text transform="translate(1207.89 569.20) rotate(-90) scale(1 1)">Zibotentan (ZD4054)</text>
<text transform="translate(1215.60 569.20) rotate(-90) scale(1 1)">Doxercalciferol</text>
<text transform="translate(1223.32 569.20) rotate(-90) scale(1 1)">SB525334</text>
<text transform="translate(1231.03 569.20) rotate(-90) scale(1 1)">PHA-793887</text>
<text transform="translate(1238.75 569.20) rotate(-90) scale(1 1)">Mycophenolate Mofetil</text>
<text transform="translate(1246.46 569.20) rotate(-90) scale(1 1)">Pracinostat (SB939)</text>
<text transform="translate(1254.17 569.20) rotate(-90) scale(1 1)">Adavosertib ( MK-1775)</text>
<text transform="translate(1261.89 569.20) rotate(-90) scale(1 1)">Quizartinib (AC220)</text>
<text transform="translate(1269.60 569.20) rotate(-90) scale(1 1)">R406 (free base)</text>
<text transform="translate(1277.31 569.20) rotate(-90) scale(1 1)">Selisistat (EX 527)</text>
<text transform="translate(1285.03 569.20) rotate(-90) scale(1 1)">Febuxostat</text>
<text transform="translate(1292.74 569.20) rotate(-90) scale(1 1)">Dapagliflozin</text>
<text transform="translate(1300.46 569.20) rotate(-90) scale(1 1)">BMS-777607</text>
<text transform="translate(1308.17 569.20) rotate(-90) scale(1 1)">Ezetimibe</text>
<text transform="translate(1315.88 569.20) rotate(-90) scale(1 1)">Estrone</text>
<text transform="translate(1323.60 569.20) rotate(-90) scale(1 1)">Aminoglutethimide</text>
<text transform="translate(1331.31 569.20) rotate(-90) scale(1 1)">Disulfiram</text>
<text transform="translate(1339.02 569.20) rotate(-90) scale(1 1)">Hydrocortisone</text>
<text transform="translate(1346.74 569.20) rotate(-90) scale(1 1)">Estradiol</text>
<text transform="translate(1354.45 569.20) rotate(-90) scale(1 1)">Toremifene Citrate</text>
<text transform="translate(1362.17 569.20) rotate(-90) scale(1 1)">Azacitidine</text>
<text transform="translate(1369.88 569.20) rotate(-90) scale(1 1)">Simvastatin</text>
<text transform="translate(1377.59 569.20) rotate(-90) scale(1 1)">Lomustine</text>
<text transform="translate(1385.31 569.20) rotate(-90) scale(1 1)">Flutamide</text>
<text transform="translate(1393.02 569.20) rotate(-90) scale(1 1)">Fluvastatin Sodium</text>
<text transform="translate(1400.73 569.20) rotate(-90) scale(1 1)">Tamoxifen Citrate</text>
<text transform="translate(1408.45 569.20) rotate(-90) scale(1 1)">Cyclophosphamide Monohydrate</text>
<text transform="translate(1416.16 569.20) rotate(-90) scale(1 1)">Sonidegib (Erismodegib, NVP-LDE225)</text>
<text transform="translate(1423.88 569.20) rotate(-90) scale(1 1)">PF-4708671</text>
<text transform="translate(1431.59 569.20) rotate(-90) scale(1 1)">Ixazomib Citrate (MLN9708)</text>
<text transform="translate(1439.30 569.20) rotate(-90) scale(1 1)">GSK461364</text>
<text transform="translate(1447.02 569.20) rotate(-90) scale(1 1)">BMS-794833</text>
<text transform="translate(1454.73 569.20) rotate(-90) scale(1 1)">Formestane</text>
<text transform="translate(1462.44 569.20) rotate(-90) scale(1 1)">DAPT (GSI-IX)</text>
<text transform="translate(1470.16 569.20) rotate(-90) scale(1 1)">TAME</text>
<text transform="translate(1477.87 569.20) rotate(-90) scale(1 1)">Galunisertib (LY2157299)</text>
<text transform="translate(1485.59 569.20) rotate(-90) scale(1 1)">Telatinib</text>
<text transform="translate(1493.30 569.20) rotate(-90) scale(1 1)">Volasertib (BI 6727)</text>
<text transform="translate(1501.01 569.20) rotate(-90) scale(1 1)">Degrasyn (WP1130)</text>
<text transform="translate(1508.73 569.20) rotate(-90) scale(1 1)">Silmitasertib (CX-4945)</text>
<text transform="translate(1516.44 569.20) rotate(-90) scale(1 1)">gossypol-Acetic acid</text>
<text transform="translate(1524.15 569.20) rotate(-90) scale(1 1)">Phloretin</text>
<text transform="translate(1531.87 569.20) rotate(-90) scale(1 1)">Chrysophanic Acid</text>
<text transform="translate(1539.58 569.20) rotate(-90) scale(1 1)">Mitoxantrone 2HCl</text>
<text transform="translate(1547.30 569.20) rotate(-90) scale(1 1)">Mycophenolic acid</text>
<text transform="translate(1555.01 569.20) rotate(-90) scale(1 1)">Mifepristone</text>
<text transform="translate(1562.72 569.20) rotate(-90) scale(1 1)">MK-0752</text>
<text transform="translate(1570.44 569.20) rotate(-90) scale(1 1)">PF-3845</text>
<text transform="translate(1578.15 569.20) rotate(-90) scale(1 1)">Turofexorate Isopropyl (XL335)</text>
<text transform="translate(1585.86 569.20) rotate(-90) scale(1 1)">A-769662</text>
<text transform="translate(1593.58 569.20) rotate(-90) scale(1 1)">CH5132799</text>
<text transform="translate(1601.29 569.20) rotate(-90) scale(1 1)">Dibenzazepine (YO-01027)</text>
<text transform="translate(1609.01 569.20) rotate(-90) scale(1 1)">PH-797804</text>
<text transform="translate(1616.72 569.20) rotate(-90) scale(1 1)">Dacomitinib (PF299804, PF299)</text>
<text transform="translate(1624.43 569.20) rotate(-90) scale(1 1)">AZ 3146</text>
<text transform="translate(1632.15 569.20) rotate(-90) scale(1 1)">3-Methyladenine (3-MA)</text>
<text transform="translate(1639.86 569.20) rotate(-90) scale(1 1)">Dalcetrapib (JTT-705, RO4607381)</text>
<text transform="translate(1647.58 569.20) rotate(-90) scale(1 1)">GW4064</text>
<text transform="translate(1655.29 569.20) rotate(-90) scale(1 1)">Tofacitinib (CP-690550,Tasocitinib)</text>
<text transform="translate(1663.00 569.20) rotate(-90) scale(1 1)">Sotrastaurin</text>
<text transform="translate(1670.72 569.20) rotate(-90) scale(1 1)">Sirtinol</text>
<text transform="translate(1678.43 569.20) rotate(-90) scale(1 1)">RG108</text>
<text transform="translate(1686.14 569.20) rotate(-90) scale(1 1)">BAY 11-7082</text>
<text transform="translate(1693.86 569.20) rotate(-90) scale(1 1)">Anagrelide HCl</text>
<text transform="translate(1701.57 569.20) rotate(-90) scale(1 1)">Sodium Phenylbutyrate</text>
<text transform="translate(1709.29 569.20) rotate(-90) scale(1 1)">QNZ (EVP4593)</text>
<text transform="translate(1717.00 569.20) rotate(-90) scale(1 1)">Fingolimod (FTY720) HCl</text>
<text transform="translate(1724.71 569.20) rotate(-90) scale(1 1)">SANT-1</text>
<text transform="translate(1732.43 569.20) rotate(-90) scale(1 1)">NU6027</text>
<text transform="translate(1740.14 569.20) rotate(-90) scale(1 1)">AR-A014418</text>
<text transform="translate(1747.85 569.20) rotate(-90) scale(1 1)">MG149</text>
<text transform="translate(1755.57 569.20) rotate(-90) scale(1 1)">Combretastatin A4</text>
<text transform="translate(1763.28 569.20) rotate(-90) scale(1 1)">GW9508</text>
<text transform="translate(1771.00 569.20) rotate(-90) scale(1 1)">GSK3787</text>
<text transform="translate(1778.71 569.20) rotate(-90) scale(1 1)">NSC 23766</text>
<text transform="translate(1786.42 569.20) rotate(-90) scale(1 1)">Necrostatin-1</text>
<text transform="translate(1794.14 569.20) rotate(-90) scale(1 1)">Lomeguatrib</text>
<text transform="translate(1801.85 569.20) rotate(-90) scale(1 1)">Oxaliplatin</text>
<text transform="translate(1809.56 569.20) rotate(-90) scale(1 1)">Rapamycin (Sirolimus)</text>
<text transform="translate(1817.28 569.20) rotate(-90) scale(1 1)">Enzastaurin (LY317615)</text>
<text transform="translate(1824.99 569.20) rotate(-90) scale(1 1)">LY294002</text>
<text transform="translate(1832.71 569.20) rotate(-90) scale(1 1)">SRT1720 HCl</text>
<text transform="translate(1840.42 569.20) rotate(-90) scale(1 1)">Roscovitine (Seliciclib,CYC202)</text>
<text transform="translate(1848.13 569.20) rotate(-90) scale(1 1)">WZ4002</text>
<text transform="translate(1855.85 569.20) rotate(-90) scale(1 1)">Bicalutamide</text>
<text transform="translate(1863.56 569.20) rotate(-90) scale(1 1)">Ruxolitinib (INCB018424)</text>
<text transform="translate(1871.27 569.20) rotate(-90) scale(1 1)">Azathioprine</text>
<text transform="translate(1878.99 569.20) rotate(-90) scale(1 1)">Maraviroc</text>
<text transform="translate(1886.70 569.20) rotate(-90) scale(1 1)">Cyclosporin A</text>
<text transform="translate(1894.42 569.20) rotate(-90) scale(1 1)">Canagliflozin</text>
<text transform="translate(1902.13 569.20) rotate(-90) scale(1 1)">SKI II</text>
<text transform="translate(1909.84 569.20) rotate(-90) scale(1 1)">SMI-4a</text>
</g>
<text x="1952.70" y="274.90" font-size="31.5" font-weight="bold" text-anchor="middle" fill="#181a19">10</text>
<text x="1952.10" y="390.40" font-size="31.5" font-weight="bold" text-anchor="middle" fill="#181a19">1</text>
<text x="1948.70" y="505.90" font-size="31.5" font-weight="bold" text-anchor="middle" fill="#181a19">0.1</text>
<rect x="47.9" y="199.6" width="12.8" height="494.8" fill="none" stroke="#d21a30" stroke-width="1.7"/>
<text x="3.60" y="760.80" font-size="25.5" font-weight="bold" text-anchor="start" fill="#c8102a">Trametinib</text>
<text x="10.20" y="840.00" font-size="34.1" font-weight="bold" text-anchor="start" fill="#181a19">BxPC-3</text>
<text x="1971.60" y="820.20" font-size="32.45" font-weight="bold" text-anchor="end" fill="#181a19">NCK (µM)</text>
<g>
<rect x="2.45" y="850.15" width="1909.60" height="347.30" fill="#0e131b"/>
<rect x="4.15" y="851.85" width="6.02" height="113.70" fill="#afe6ae"/>
<rect x="11.87" y="851.85" width="6.02" height="113.70" fill="#8fd98e"/>
<rect x="19.60" y="851.85" width="6.02" height="113.70" fill="#bcebbc"/>
<rect x="27.32" y="851.85" width="6.02" height="113.70" fill="#8fd98e"/>
<rect x="35.05" y="851.85" width="6.02" height="113.70" fill="#8fd98e"/>
<rect x="42.77" y="851.85" width="6.02" height="113.70" fill="#bcebbc"/>
<rect x="50.50" y="851.85" width="6.02" height="113.70" fill="#fefdfd"/>
<rect x="58.22" y="851.85" width="6.02" height="113.70" fill="#c9f0c9"/>
<rect x="65.94" y="851.85" width="6.02" height="113.70" fill="#8fd98e"/>
<rect x="73.67" y="851.85" width="6.02" height="113.70" fill="#c9f0c9"/>
<rect x="81.39" y="851.85" width="6.02" height="113.70" fill="#bcebbc"/>
<rect x="89.12" y="851.85" width="6.02" height="113.70" fill="#bcebbc"/>
<rect x="96.84" y="851.85" width="6.02" height="113.70" fill="#e6f8e5"/>
<rect x="104.57" y="851.85" width="6.02" height="113.70" fill="#bcebbc"/>
<rect x="112.29" y="851.85" width="6.02" height="113.70" fill="#c9f0c9"/>
<rect x="120.01" y="851.85" width="6.02" height="113.70" fill="#c9f0c9"/>
<rect x="127.74" y="851.85" width="6.02" height="113.70" fill="#afe6ae"/>
<rect x="135.46" y="851.85" width="6.02" height="113.70" fill="#afe6ae"/>
<rect x="143.19" y="851.85" width="6.02" height="113.70" fill="#e6f8e5"/>
<rect x="150.91" y="851.85" width="6.02" height="113.70" fill="#c9f0c9"/>
<rect x="158.64" y="851.85" width="6.02" height="113.70" fill="#afe6ae"/>
<rect x="166.36" y="851.85" width="6.02" height="113.70" fill="#c9f0c9"/>
<rect x="174.08" y="851.85" width="6.02" height="113.70" fill="#c9f0c9"/>
<rect x="181.81" y="851.85" width="6.02" height="113.70" fill="#c9f0c9"/>
<rect x="189.53" y="851.85" width="6.02" height="113.70" fill="#bcebbc"/>
<rect x="197.26" y="851.85" width="6.02" height="113.70" fill="#c9f0c9"/>
<rect x="204.98" y="851.85" width="6.02" height="113.70" fill="#47ac36"/>
<rect x="212.71" y="851.85" width="6.02" height="113.70" fill="#afe6ae"/>
<rect x="220.43" y="851.85" width="6.02" height="113.70" fill="#e6f8e5"/>
<rect x="228.15" y="851.85" width="6.02" height="113.70" fill="#c9f0c9"/>
<rect x="235.88" y="851.85" width="6.02" height="113.70" fill="#c9f0c9"/>
<rect x="243.60" y="851.85" width="6.02" height="113.70" fill="#c9f0c9"/>
<rect x="251.33" y="851.85" width="6.02" height="113.70" fill="#c9f0c9"/>
<rect x="259.05" y="851.85" width="6.02" height="113.70" fill="#8fd98e"/>
<rect x="266.78" y="851.85" width="6.02" height="113.70" fill="#c9f0c9"/>
<rect x="274.50" y="851.85" width="6.02" height="113.70" fill="#d8f4d7"/>
<rect x="282.22" y="851.85" width="6.02" height="113.70" fill="#c9f0c9"/>
<rect x="289.95" y="851.85" width="6.02" height="113.70" fill="#afe6ae"/>
<rect x="297.67" y="851.85" width="6.02" height="113.70" fill="#c9f0c9"/>
<rect x="305.40" y="851.85" width="6.02" height="113.70" fill="#e6f8e5"/>
<rect x="313.12" y="851.85" width="6.02" height="113.70" fill="#afe6ae"/>
<rect x="320.85" y="851.85" width="6.02" height="113.70" fill="#c9f0c9"/>
<rect x="328.57" y="851.85" width="6.02" height="113.70" fill="#c9f0c9"/>
<rect x="336.29" y="851.85" width="6.02" height="113.70" fill="#c9f0c9"/>
<rect x="344.02" y="851.85" width="6.02" height="113.70" fill="#c9f0c9"/>
<rect x="351.74" y="851.85" width="6.02" height="113.70" fill="#fefdfd"/>
<rect x="359.47" y="851.85" width="6.02" height="113.70" fill="#e6f8e5"/>
<rect x="367.19" y="851.85" width="6.02" height="113.70" fill="#c9f0c9"/>
<rect x="374.92" y="851.85" width="6.02" height="113.70" fill="#afe6ae"/>
<rect x="382.64" y="851.85" width="6.02" height="113.70" fill="#afe6ae"/>
<rect x="390.36" y="851.85" width="6.02" height="113.70" fill="#e6f8e5"/>
<rect x="398.09" y="851.85" width="6.02" height="113.70" fill="#61be54"/>
<rect x="405.81" y="851.85" width="6.02" height="113.70" fill="#c9f0c9"/>
<rect x="413.54" y="851.85" width="6.02" height="113.70" fill="#afe6ae"/>
<rect x="421.26" y="851.85" width="6.02" height="113.70" fill="#afe6ae"/>
<rect x="428.99" y="851.85" width="6.02" height="113.70" fill="#e6f8e5"/>
<rect x="436.71" y="851.85" width="6.02" height="113.70" fill="#8fd98e"/>
<rect x="444.43" y="851.85" width="6.02" height="113.70" fill="#afe6ae"/>
<rect x="452.16" y="851.85" width="6.02" height="113.70" fill="#47ac36"/>
<rect x="459.88" y="851.85" width="6.02" height="113.70" fill="#c9f0c9"/>
<rect x="467.61" y="851.85" width="6.02" height="113.70" fill="#c9f0c9"/>
<rect x="475.33" y="851.85" width="6.02" height="113.70" fill="#72ca68"/>
<rect x="483.06" y="851.85" width="6.02" height="113.70" fill="#8fd98e"/>
<rect x="490.78" y="851.85" width="6.02" height="113.70" fill="#8fd98e"/>
<rect x="498.50" y="851.85" width="6.02" height="113.70" fill="#e6f8e5"/>
<rect x="506.23" y="851.85" width="6.02" height="113.70" fill="#fefdfd"/>
<rect x="513.95" y="851.85" width="6.02" height="113.70" fill="#8fd98e"/>
<rect x="521.68" y="851.85" width="6.02" height="113.70" fill="#afe6ae"/>
<rect x="529.40" y="851.85" width="6.02" height="113.70" fill="#c9f0c9"/>
<rect x="537.13" y="851.85" width="6.02" height="113.70" fill="#c9f0c9"/>
<rect x="544.85" y="851.85" width="6.02" height="113.70" fill="#e6f8e5"/>
<rect x="552.57" y="851.85" width="6.02" height="113.70" fill="#f2faf1"/>
<rect x="560.30" y="851.85" width="6.02" height="113.70" fill="#afe6ae"/>
<rect x="568.02" y="851.85" width="6.02" height="113.70" fill="#fefdfd"/>
<rect x="575.75" y="851.85" width="6.02" height="113.70" fill="#c9f0c9"/>
<rect x="583.47" y="851.85" width="6.02" height="113.70" fill="#afe6ae"/>
<rect x="591.20" y="851.85" width="6.02" height="113.70" fill="#c9f0c9"/>
<rect x="598.92" y="851.85" width="6.02" height="113.70" fill="#72ca68"/>
<rect x="606.64" y="851.85" width="6.02" height="113.70" fill="#fefdfd"/>
<rect x="614.37" y="851.85" width="6.02" height="113.70" fill="#fbf0f4"/>
<rect x="622.09" y="851.85" width="6.02" height="113.70" fill="#f4dae5"/>
<rect x="629.82" y="851.85" width="6.02" height="113.70" fill="#fefdfd"/>
<rect x="637.54" y="851.85" width="6.02" height="113.70" fill="#fefdfd"/>
<rect x="645.27" y="851.85" width="6.02" height="113.70" fill="#d794b3"/>
<rect x="652.99" y="851.85" width="6.02" height="113.70" fill="#d794b3"/>
<rect x="660.71" y="851.85" width="6.02" height="113.70" fill="#dea4c0"/>
<rect x="668.44" y="851.85" width="6.02" height="113.70" fill="#dea4c0"/>
<rect x="676.16" y="851.85" width="6.02" height="113.70" fill="#fefdfd"/>
<rect x="683.89" y="851.85" width="6.02" height="113.70" fill="#f4dae5"/>
<rect x="691.61" y="851.85" width="6.02" height="113.70" fill="#d080a3"/>
<rect x="699.34" y="851.85" width="6.02" height="113.70" fill="#e5b5cc"/>
<rect x="707.06" y="851.85" width="6.02" height="113.70" fill="#fbf0f4"/>
<rect x="714.78" y="851.85" width="6.02" height="113.70" fill="#d794b3"/>
<rect x="722.51" y="851.85" width="6.02" height="113.70" fill="#fbf0f4"/>
<rect x="730.23" y="851.85" width="6.02" height="113.70" fill="#ecc8d8"/>
<rect x="737.96" y="851.85" width="6.02" height="113.70" fill="#dea4c0"/>
<rect x="745.68" y="851.85" width="6.02" height="113.70" fill="#e5b5cc"/>
<rect x="753.41" y="851.85" width="6.02" height="113.70" fill="#f8e5ec"/>
<rect x="761.13" y="851.85" width="6.02" height="113.70" fill="#dea4c0"/>
<rect x="768.85" y="851.85" width="6.02" height="113.70" fill="#fefdfd"/>
<rect x="776.58" y="851.85" width="6.02" height="113.70" fill="#f8e5ec"/>
<rect x="784.30" y="851.85" width="6.02" height="113.70" fill="#be4a74"/>
<rect x="792.03" y="851.85" width="6.02" height="113.70" fill="#e5b5cc"/>
<rect x="799.75" y="851.85" width="6.02" height="113.70" fill="#e5b5cc"/>
<rect x="807.48" y="851.85" width="6.02" height="113.70" fill="#8e000c"/>
<rect x="815.20" y="851.85" width="6.02" height="113.70" fill="#be4a74"/>
<rect x="822.92" y="851.85" width="6.02" height="113.70" fill="#f4dae5"/>
<rect x="830.65" y="851.85" width="6.02" height="113.70" fill="#d794b3"/>
<rect x="838.37" y="851.85" width="6.02" height="113.70" fill="#f4dae5"/>
<rect x="846.10" y="851.85" width="6.02" height="113.70" fill="#e5b5cc"/>
<rect x="853.82" y="851.85" width="6.02" height="113.70" fill="#d794b3"/>
<rect x="861.55" y="851.85" width="6.02" height="113.70" fill="#f4dae5"/>
<rect x="869.27" y="851.85" width="6.02" height="113.70" fill="#e5b5cc"/>
<rect x="876.99" y="851.85" width="6.02" height="113.70" fill="#fbf0f4"/>
<rect x="884.72" y="851.85" width="6.02" height="113.70" fill="#c96c93"/>
<rect x="892.44" y="851.85" width="6.02" height="113.70" fill="#f4dae5"/>
<rect x="900.17" y="851.85" width="6.02" height="113.70" fill="#c96c93"/>
<rect x="907.89" y="851.85" width="6.02" height="113.70" fill="#dea4c0"/>
<rect x="915.62" y="851.85" width="6.02" height="113.70" fill="#f4dae5"/>
<rect x="923.34" y="851.85" width="6.02" height="113.70" fill="#c96c93"/>
<rect x="931.06" y="851.85" width="6.02" height="113.70" fill="#d794b3"/>
<rect x="938.79" y="851.85" width="6.02" height="113.70" fill="#dea4c0"/>
<rect x="946.51" y="851.85" width="6.02" height="113.70" fill="#dea4c0"/>
<rect x="954.24" y="851.85" width="6.02" height="113.70" fill="#f4dae5"/>
<rect x="961.96" y="851.85" width="6.02" height="113.70" fill="#fbf0f4"/>
<rect x="969.69" y="851.85" width="6.02" height="113.70" fill="#dea4c0"/>
<rect x="977.41" y="851.85" width="6.02" height="113.70" fill="#f4dae5"/>
<rect x="985.14" y="851.85" width="6.02" height="113.70" fill="#e5b5cc"/>
<rect x="992.86" y="851.85" width="6.02" height="113.70" fill="#e5b5cc"/>
<rect x="1000.58" y="851.85" width="6.02" height="113.70" fill="#e5b5cc"/>
<rect x="1008.31" y="851.85" width="6.02" height="113.70" fill="#c96c93"/>
<rect x="1016.03" y="851.85" width="6.02" height="113.70" fill="#f4dae5"/>
<rect x="1023.76" y="851.85" width="6.02" height="113.70" fill="#c96c93"/>
<rect x="1031.48" y="851.85" width="6.02" height="113.70" fill="#f4dae5"/>
<rect x="1039.21" y="851.85" width="6.02" height="113.70" fill="#f4dae5"/>
<rect x="1046.93" y="851.85" width="6.02" height="113.70" fill="#f4dae5"/>
<rect x="1054.65" y="851.85" width="6.02" height="113.70" fill="#f4dae5"/>
<rect x="1062.38" y="851.85" width="6.02" height="113.70" fill="#ecc8d8"/>
<rect x="1070.10" y="851.85" width="6.02" height="113.70" fill="#d794b3"/>
<rect x="1077.83" y="851.85" width="6.02" height="113.70" fill="#d794b3"/>
<rect x="1085.55" y="851.85" width="6.02" height="113.70" fill="#e5b5cc"/>
<rect x="1093.28" y="851.85" width="6.02" height="113.70" fill="#f4dae5"/>
<rect x="1101.00" y="851.85" width="6.02" height="113.70" fill="#f8e5ec"/>
<rect x="1108.72" y="851.85" width="6.02" height="113.70" fill="#d794b3"/>
<rect x="1116.45" y="851.85" width="6.02" height="113.70" fill="#c96c93"/>
<rect x="1124.17" y="851.85" width="6.02" height="113.70" fill="#f4dae5"/>
<rect x="1131.90" y="851.85" width="6.02" height="113.70" fill="#c96c93"/>
<rect x="1139.62" y="851.85" width="6.02" height="113.70" fill="#d794b3"/>
<rect x="1147.35" y="851.85" width="6.02" height="113.70" fill="#fbf0f4"/>
<rect x="1155.07" y="851.85" width="6.02" height="113.70" fill="#fefdfd"/>
<rect x="1162.79" y="851.85" width="6.02" height="113.70" fill="#fefdfd"/>
<rect x="1170.52" y="851.85" width="6.02" height="113.70" fill="#fefdfd"/>
<rect x="1178.24" y="851.85" width="6.02" height="113.70" fill="#fbf0f4"/>
<rect x="1185.97" y="851.85" width="6.02" height="113.70" fill="#d794b3"/>
<rect x="1193.69" y="851.85" width="6.02" height="113.70" fill="#fefdfd"/>
<rect x="1201.42" y="851.85" width="6.02" height="113.70" fill="#f4dae5"/>
<rect x="1209.14" y="851.85" width="6.02" height="113.70" fill="#ecc8d8"/>
<rect x="1216.86" y="851.85" width="6.02" height="113.70" fill="#f4dae5"/>
<rect x="1224.59" y="851.85" width="6.02" height="113.70" fill="#e5b5cc"/>
<rect x="1232.31" y="851.85" width="6.02" height="113.70" fill="#d794b3"/>
<rect x="1240.04" y="851.85" width="6.02" height="113.70" fill="#fefdfd"/>
<rect x="1247.76" y="851.85" width="6.02" height="113.70" fill="#d794b3"/>
<rect x="1255.49" y="851.85" width="6.02" height="113.70" fill="#fefdfd"/>
<rect x="1263.21" y="851.85" width="6.02" height="113.70" fill="#fefdfd"/>
<rect x="1270.93" y="851.85" width="6.02" height="113.70" fill="#fefdfd"/>
<rect x="1278.66" y="851.85" width="6.02" height="113.70" fill="#e5b5cc"/>
<rect x="1286.38" y="851.85" width="6.02" height="113.70" fill="#e5b5cc"/>
<rect x="1294.11" y="851.85" width="6.02" height="113.70" fill="#e5b5cc"/>
<rect x="1301.83" y="851.85" width="6.02" height="113.70" fill="#e5b5cc"/>
<rect x="1309.56" y="851.85" width="6.02" height="113.70" fill="#d794b3"/>
<rect x="1317.28" y="851.85" width="6.02" height="113.70" fill="#e5b5cc"/>
<rect x="1325.00" y="851.85" width="6.02" height="113.70" fill="#e5b5cc"/>
<rect x="1332.73" y="851.85" width="6.02" height="113.70" fill="#f4dae5"/>
<rect x="1340.45" y="851.85" width="6.02" height="113.70" fill="#f4dae5"/>
<rect x="1348.18" y="851.85" width="6.02" height="113.70" fill="#ecc8d8"/>
<rect x="1355.90" y="851.85" width="6.02" height="113.70" fill="#d794b3"/>
<rect x="1363.63" y="851.85" width="6.02" height="113.70" fill="#f4dae5"/>
<rect x="1371.35" y="851.85" width="6.02" height="113.70" fill="#e5b5cc"/>
<rect x="1379.07" y="851.85" width="6.02" height="113.70" fill="#c96c93"/>
<rect x="1386.80" y="851.85" width="6.02" height="113.70" fill="#e5b5cc"/>
<rect x="1394.52" y="851.85" width="6.02" height="113.70" fill="#d794b3"/>
<rect x="1402.25" y="851.85" width="6.02" height="113.70" fill="#be4a74"/>
<rect x="1409.97" y="851.85" width="6.02" height="113.70" fill="#d794b3"/>
<rect x="1417.70" y="851.85" width="6.02" height="113.70" fill="#e5b5cc"/>
<rect x="1425.42" y="851.85" width="6.02" height="113.70" fill="#b93e66"/>
<rect x="1433.14" y="851.85" width="6.02" height="113.70" fill="#be4a74"/>
<rect x="1440.87" y="851.85" width="6.02" height="113.70" fill="#c96c93"/>
<rect x="1448.59" y="851.85" width="6.02" height="113.70" fill="#be4a74"/>
<rect x="1456.32" y="851.85" width="6.02" height="113.70" fill="#be4a74"/>
<rect x="1464.04" y="851.85" width="6.02" height="113.70" fill="#fbf0f4"/>
<rect x="1471.77" y="851.85" width="6.02" height="113.70" fill="#fbf0f4"/>
<rect x="1479.49" y="851.85" width="6.02" height="113.70" fill="#fbf0f4"/>
<rect x="1487.21" y="851.85" width="6.02" height="113.70" fill="#fbf0f4"/>
<rect x="1494.94" y="851.85" width="6.02" height="113.70" fill="#e5b5cc"/>
<rect x="1502.66" y="851.85" width="6.02" height="113.70" fill="#c96c93"/>
<rect x="1510.39" y="851.85" width="6.02" height="113.70" fill="#ae2144"/>
<rect x="1518.11" y="851.85" width="6.02" height="113.70" fill="#e5b5cc"/>
<rect x="1525.84" y="851.85" width="6.02" height="113.70" fill="#d794b3"/>
<rect x="1533.56" y="851.85" width="6.02" height="113.70" fill="#d794b3"/>
<rect x="1541.28" y="851.85" width="6.02" height="113.70" fill="#be4a74"/>
<rect x="1549.01" y="851.85" width="6.02" height="113.70" fill="#c96c93"/>
<rect x="1556.73" y="851.85" width="6.02" height="113.70" fill="#dea4c0"/>
<rect x="1564.46" y="851.85" width="6.02" height="113.70" fill="#d794b3"/>
<rect x="1572.18" y="851.85" width="6.02" height="113.70" fill="#dea4c0"/>
<rect x="1579.91" y="851.85" width="6.02" height="113.70" fill="#f4dae5"/>
<rect x="1587.63" y="851.85" width="6.02" height="113.70" fill="#f8e5ec"/>
<rect x="1595.35" y="851.85" width="6.02" height="113.70" fill="#fbf0f4"/>
<rect x="1603.08" y="851.85" width="6.02" height="113.70" fill="#fcf6f8"/>
<rect x="1610.80" y="851.85" width="6.02" height="113.70" fill="#f4dae5"/>
<rect x="1618.53" y="851.85" width="6.02" height="113.70" fill="#f4dae5"/>
<rect x="1626.25" y="851.85" width="6.02" height="113.70" fill="#fbf0f4"/>
<rect x="1633.98" y="851.85" width="6.02" height="113.70" fill="#fcf6f8"/>
<rect x="1641.70" y="851.85" width="6.02" height="113.70" fill="#fefdfd"/>
<rect x="1649.42" y="851.85" width="6.02" height="113.70" fill="#fefdfd"/>
<rect x="1657.15" y="851.85" width="6.02" height="113.70" fill="#ecc8d8"/>
<rect x="1664.87" y="851.85" width="6.02" height="113.70" fill="#fbf0f4"/>
<rect x="1672.60" y="851.85" width="6.02" height="113.70" fill="#be4a74"/>
<rect x="1680.32" y="851.85" width="6.02" height="113.70" fill="#d794b3"/>
<rect x="1688.05" y="851.85" width="6.02" height="113.70" fill="#dea4c0"/>
<rect x="1695.77" y="851.85" width="6.02" height="113.70" fill="#dea4c0"/>
<rect x="1703.49" y="851.85" width="6.02" height="113.70" fill="#ae2144"/>
<rect x="1711.22" y="851.85" width="6.02" height="113.70" fill="#e5b5cc"/>
<rect x="1718.94" y="851.85" width="6.02" height="113.70" fill="#be4a74"/>
<rect x="1726.67" y="851.85" width="6.02" height="113.70" fill="#e5b5cc"/>
<rect x="1734.39" y="851.85" width="6.02" height="113.70" fill="#e5b5cc"/>
<rect x="1742.12" y="851.85" width="6.02" height="113.70" fill="#ecc8d8"/>
<rect x="1749.84" y="851.85" width="6.02" height="113.70" fill="#dea4c0"/>
<rect x="1757.56" y="851.85" width="6.02" height="113.70" fill="#fbf0f4"/>
<rect x="1765.29" y="851.85" width="6.02" height="113.70" fill="#f4dae5"/>
<rect x="1773.01" y="851.85" width="6.02" height="113.70" fill="#f4dae5"/>
<rect x="1780.74" y="851.85" width="6.02" height="113.70" fill="#dea4c0"/>
<rect x="1788.46" y="851.85" width="6.02" height="113.70" fill="#f8e5ec"/>
<rect x="1796.19" y="851.85" width="6.02" height="113.70" fill="#f4dae5"/>
<rect x="1803.91" y="851.85" width="6.02" height="113.70" fill="#fbf0f4"/>
<rect x="1811.63" y="851.85" width="6.02" height="113.70" fill="#fbf0f4"/>
<rect x="1819.36" y="851.85" width="6.02" height="113.70" fill="#e5b5cc"/>
<rect x="1827.08" y="851.85" width="6.02" height="113.70" fill="#f8e5ec"/>
<rect x="1834.81" y="851.85" width="6.02" height="113.70" fill="#e5b5cc"/>
<rect x="1842.53" y="851.85" width="6.02" height="113.70" fill="#dea4c0"/>
<rect x="1850.26" y="851.85" width="6.02" height="113.70" fill="#c96c93"/>
<rect x="1857.98" y="851.85" width="6.02" height="113.70" fill="#e5b5cc"/>
<rect x="1865.70" y="851.85" width="6.02" height="113.70" fill="#d794b3"/>
<rect x="1873.43" y="851.85" width="6.02" height="113.70" fill="#dea4c0"/>
<rect x="1881.15" y="851.85" width="6.02" height="113.70" fill="#fbf0f4"/>
<rect x="1888.88" y="851.85" width="6.02" height="113.70" fill="#dea4c0"/>
<rect x="1896.60" y="851.85" width="6.02" height="113.70" fill="#fefdfd"/>
<rect x="1904.33" y="851.85" width="6.02" height="113.70" fill="#fbf0f4"/>
<rect x="4.15" y="967.25" width="6.02" height="113.90" fill="#8fd98e"/>
<rect x="11.87" y="967.25" width="6.02" height="113.90" fill="#c9f0c9"/>
<rect x="19.60" y="967.25" width="6.02" height="113.90" fill="#8fd98e"/>
<rect x="27.32" y="967.25" width="6.02" height="113.90" fill="#f2faf1"/>
<rect x="35.05" y="967.25" width="6.02" height="113.90" fill="#afe6ae"/>
<rect x="42.77" y="967.25" width="6.02" height="113.90" fill="#8fd98e"/>
<rect x="50.50" y="967.25" width="6.02" height="113.90" fill="#afe6ae"/>
<rect x="58.22" y="967.25" width="6.02" height="113.90" fill="#9fe09e"/>
<rect x="65.94" y="967.25" width="6.02" height="113.90" fill="#8fd98e"/>
<rect x="73.67" y="967.25" width="6.02" height="113.90" fill="#80d27b"/>
<rect x="81.39" y="967.25" width="6.02" height="113.90" fill="#80d27b"/>
<rect x="89.12" y="967.25" width="6.02" height="113.90" fill="#8fd98e"/>
<rect x="96.84" y="967.25" width="6.02" height="113.90" fill="#c9f0c9"/>
<rect x="104.57" y="967.25" width="6.02" height="113.90" fill="#afe6ae"/>
<rect x="112.29" y="967.25" width="6.02" height="113.90" fill="#afe6ae"/>
<rect x="120.01" y="967.25" width="6.02" height="113.90" fill="#8fd98e"/>
<rect x="127.74" y="967.25" width="6.02" height="113.90" fill="#8fd98e"/>
<rect x="135.46" y="967.25" width="6.02" height="113.90" fill="#72ca68"/>
<rect x="143.19" y="967.25" width="6.02" height="113.90" fill="#afe6ae"/>
<rect x="150.91" y="967.25" width="6.02" height="113.90" fill="#afe6ae"/>
<rect x="158.64" y="967.25" width="6.02" height="113.90" fill="#8fd98e"/>
<rect x="166.36" y="967.25" width="6.02" height="113.90" fill="#afe6ae"/>
<rect x="174.08" y="967.25" width="6.02" height="113.90" fill="#afe6ae"/>
<rect x="181.81" y="967.25" width="6.02" height="113.90" fill="#afe6ae"/>
<rect x="189.53" y="967.25" width="6.02" height="113.90" fill="#9fe09e"/>
<rect x="197.26" y="967.25" width="6.02" height="113.90" fill="#afe6ae"/>
<rect x="204.98" y="967.25" width="6.02" height="113.90" fill="#80d27b"/>
<rect x="212.71" y="967.25" width="6.02" height="113.90" fill="#c9f0c9"/>
<rect x="220.43" y="967.25" width="6.02" height="113.90" fill="#afe6ae"/>
<rect x="228.15" y="967.25" width="6.02" height="113.90" fill="#8fd98e"/>
<rect x="235.88" y="967.25" width="6.02" height="113.90" fill="#8fd98e"/>
<rect x="243.60" y="967.25" width="6.02" height="113.90" fill="#8fd98e"/>
<rect x="251.33" y="967.25" width="6.02" height="113.90" fill="#8fd98e"/>
<rect x="259.05" y="967.25" width="6.02" height="113.90" fill="#e6f8e5"/>
<rect x="266.78" y="967.25" width="6.02" height="113.90" fill="#8fd98e"/>
<rect x="274.50" y="967.25" width="6.02" height="113.90" fill="#c9f0c9"/>
<rect x="282.22" y="967.25" width="6.02" height="113.90" fill="#8fd98e"/>
<rect x="289.95" y="967.25" width="6.02" height="113.90" fill="#8fd98e"/>
<rect x="297.67" y="967.25" width="6.02" height="113.90" fill="#8fd98e"/>
<rect x="305.40" y="967.25" width="6.02" height="113.90" fill="#afe6ae"/>
<rect x="313.12" y="967.25" width="6.02" height="113.90" fill="#9fe09e"/>
<rect x="320.85" y="967.25" width="6.02" height="113.90" fill="#afe6ae"/>
<rect x="328.57" y="967.25" width="6.02" height="113.90" fill="#9fe09e"/>
<rect x="336.29" y="967.25" width="6.02" height="113.90" fill="#9fe09e"/>
<rect x="344.02" y="967.25" width="6.02" height="113.90" fill="#8fd98e"/>
<rect x="351.74" y="967.25" width="6.02" height="113.90" fill="#9fe09e"/>
<rect x="359.47" y="967.25" width="6.02" height="113.90" fill="#8fd98e"/>
<rect x="367.19" y="967.25" width="6.02" height="113.90" fill="#9fe09e"/>
<rect x="374.92" y="967.25" width="6.02" height="113.90" fill="#afe6ae"/>
<rect x="382.64" y="967.25" width="6.02" height="113.90" fill="#afe6ae"/>
<rect x="390.36" y="967.25" width="6.02" height="113.90" fill="#f2faf1"/>
<rect x="398.09" y="967.25" width="6.02" height="113.90" fill="#afe6ae"/>
<rect x="405.81" y="967.25" width="6.02" height="113.90" fill="#c9f0c9"/>
<rect x="413.54" y="967.25" width="6.02" height="113.90" fill="#afe6ae"/>
<rect x="421.26" y="967.25" width="6.02" height="113.90" fill="#afe6ae"/>
<rect x="428.99" y="967.25" width="6.02" height="113.90" fill="#fefdfd"/>
<rect x="436.71" y="967.25" width="6.02" height="113.90" fill="#26800e"/>
<rect x="444.43" y="967.25" width="6.02" height="113.90" fill="#fefdfd"/>
<rect x="452.16" y="967.25" width="6.02" height="113.90" fill="#afe6ae"/>
<rect x="459.88" y="967.25" width="6.02" height="113.90" fill="#d8f4d7"/>
<rect x="467.61" y="967.25" width="6.02" height="113.90" fill="#e6f8e5"/>
<rect x="475.33" y="967.25" width="6.02" height="113.90" fill="#fefdfd"/>
<rect x="483.06" y="967.25" width="6.02" height="113.90" fill="#fefdfd"/>
<rect x="490.78" y="967.25" width="6.02" height="113.90" fill="#fefdfd"/>
<rect x="498.50" y="967.25" width="6.02" height="113.90" fill="#fbf0f4"/>
<rect x="506.23" y="967.25" width="6.02" height="113.90" fill="#fbf0f4"/>
<rect x="513.95" y="967.25" width="6.02" height="113.90" fill="#fbf0f4"/>
<rect x="521.68" y="967.25" width="6.02" height="113.90" fill="#fbf0f4"/>
<rect x="529.40" y="967.25" width="6.02" height="113.90" fill="#fbf0f4"/>
<rect x="537.13" y="967.25" width="6.02" height="113.90" fill="#fbf0f4"/>
<rect x="544.85" y="967.25" width="6.02" height="113.90" fill="#fbf0f4"/>
<rect x="552.57" y="967.25" width="6.02" height="113.90" fill="#fbf0f4"/>
<rect x="560.30" y="967.25" width="6.02" height="113.90" fill="#fbf0f4"/>
<rect x="568.02" y="967.25" width="6.02" height="113.90" fill="#fbf0f4"/>
<rect x="575.75" y="967.25" width="6.02" height="113.90" fill="#fbf0f4"/>
<rect x="583.47" y="967.25" width="6.02" height="113.90" fill="#fbf0f4"/>
<rect x="591.20" y="967.25" width="6.02" height="113.90" fill="#fbf0f4"/>
<rect x="598.92" y="967.25" width="6.02" height="113.90" fill="#fbf0f4"/>
<rect x="606.64" y="967.25" width="6.02" height="113.90" fill="#d8f4d7"/>
<rect x="614.37" y="967.25" width="6.02" height="113.90" fill="#e6f8e5"/>
<rect x="622.09" y="967.25" width="6.02" height="113.90" fill="#fbf0f4"/>
<rect x="629.82" y="967.25" width="6.02" height="113.90" fill="#fbf0f4"/>
<rect x="637.54" y="967.25" width="6.02" height="113.90" fill="#fbf0f4"/>
<rect x="645.27" y="967.25" width="6.02" height="113.90" fill="#fbf0f4"/>
<rect x="652.99" y="967.25" width="6.02" height="113.90" fill="#fbf0f4"/>
<rect x="660.71" y="967.25" width="6.02" height="113.90" fill="#fbf0f4"/>
<rect x="668.44" y="967.25" width="6.02" height="113.90" fill="#fbf0f4"/>
<rect x="676.16" y="967.25" width="6.02" height="113.90" fill="#fbf0f4"/>
<rect x="683.89" y="967.25" width="6.02" height="113.90" fill="#fbf0f4"/>
<rect x="691.61" y="967.25" width="6.02" height="113.90" fill="#fbf0f4"/>
<rect x="699.34" y="967.25" width="6.02" height="113.90" fill="#fbf0f4"/>
<rect x="707.06" y="967.25" width="6.02" height="113.90" fill="#fbf0f4"/>
<rect x="714.78" y="967.25" width="6.02" height="113.90" fill="#fbf0f4"/>
<rect x="722.51" y="967.25" width="6.02" height="113.90" fill="#fbf0f4"/>
<rect x="730.23" y="967.25" width="6.02" height="113.90" fill="#fbf0f4"/>
<rect x="737.96" y="967.25" width="6.02" height="113.90" fill="#fbf0f4"/>
<rect x="745.68" y="967.25" width="6.02" height="113.90" fill="#fbf0f4"/>
<rect x="753.41" y="967.25" width="6.02" height="113.90" fill="#fbf0f4"/>
<rect x="761.13" y="967.25" width="6.02" height="113.90" fill="#fbf0f4"/>
<rect x="768.85" y="967.25" width="6.02" height="113.90" fill="#fbf0f4"/>
<rect x="776.58" y="967.25" width="6.02" height="113.90" fill="#fbf0f4"/>
<rect x="784.30" y="967.25" width="6.02" height="113.90" fill="#fbf0f4"/>
<rect x="792.03" y="967.25" width="6.02" height="113.90" fill="#fbf0f4"/>
<rect x="799.75" y="967.25" width="6.02" height="113.90" fill="#fbf0f4"/>
<rect x="807.48" y="967.25" width="6.02" height="113.90" fill="#fbf0f4"/>
<rect x="815.20" y="967.25" width="6.02" height="113.90" fill="#fbf0f4"/>
<rect x="822.92" y="967.25" width="6.02" height="113.90" fill="#fbf0f4"/>
<rect x="830.65" y="967.25" width="6.02" height="113.90" fill="#fbf0f4"/>
<rect x="838.37" y="967.25" width="6.02" height="113.90" fill="#fbf0f4"/>
<rect x="846.10" y="967.25" width="6.02" height="113.90" fill="#fbf0f4"/>
<rect x="853.82" y="967.25" width="6.02" height="113.90" fill="#fbf0f4"/>
<rect x="861.55" y="967.25" width="6.02" height="113.90" fill="#fbf0f4"/>
<rect x="869.27" y="967.25" width="6.02" height="113.90" fill="#fbf0f4"/>
<rect x="876.99" y="967.25" width="6.02" height="113.90" fill="#fbf0f4"/>
<rect x="884.72" y="967.25" width="6.02" height="113.90" fill="#fbf0f4"/>
<rect x="892.44" y="967.25" width="6.02" height="113.90" fill="#fbf0f4"/>
<rect x="900.17" y="967.25" width="6.02" height="113.90" fill="#fbf0f4"/>
<rect x="907.89" y="967.25" width="6.02" height="113.90" fill="#fbf0f4"/>
<rect x="915.62" y="967.25" width="6.02" height="113.90" fill="#fbf0f4"/>
<rect x="923.34" y="967.25" width="6.02" height="113.90" fill="#fbf0f4"/>
<rect x="931.06" y="967.25" width="6.02" height="113.90" fill="#fbf0f4"/>
<rect x="938.79" y="967.25" width="6.02" height="113.90" fill="#fbf0f4"/>
<rect x="946.51" y="967.25" width="6.02" height="113.90" fill="#fbf0f4"/>
<rect x="954.24" y="967.25" width="6.02" height="113.90" fill="#fbf0f4"/>
<rect x="961.96" y="967.25" width="6.02" height="113.90" fill="#fbf0f4"/>
<rect x="969.69" y="967.25" width="6.02" height="113.90" fill="#fbf0f4"/>
<rect x="977.41" y="967.25" width="6.02" height="113.90" fill="#fbf0f4"/>
<rect x="985.14" y="967.25" width="6.02" height="113.90" fill="#fbf0f4"/>
<rect x="992.86" y="967.25" width="6.02" height="113.90" fill="#fbf0f4"/>
<rect x="1000.58" y="967.25" width="6.02" height="113.90" fill="#fbf0f4"/>
<rect x="1008.31" y="967.25" width="6.02" height="113.90" fill="#fbf0f4"/>
<rect x="1016.03" y="967.25" width="6.02" height="113.90" fill="#fbf0f4"/>
<rect x="1023.76" y="967.25" width="6.02" height="113.90" fill="#fbf0f4"/>
<rect x="1031.48" y="967.25" width="6.02" height="113.90" fill="#fbf0f4"/>
<rect x="1039.21" y="967.25" width="6.02" height="113.90" fill="#fbf0f4"/>
<rect x="1046.93" y="967.25" width="6.02" height="113.90" fill="#fbf0f4"/>
<rect x="1054.65" y="967.25" width="6.02" height="113.90" fill="#fbf0f4"/>
<rect x="1062.38" y="967.25" width="6.02" height="113.90" fill="#fbf0f4"/>
<rect x="1070.10" y="967.25" width="6.02" height="113.90" fill="#fbf0f4"/>
<rect x="1077.83" y="967.25" width="6.02" height="113.90" fill="#fbf0f4"/>
<rect x="1085.55" y="967.25" width="6.02" height="113.90" fill="#fbf0f4"/>
<rect x="1093.28" y="967.25" width="6.02" height="113.90" fill="#fbf0f4"/>
<rect x="1101.00" y="967.25" width="6.02" height="113.90" fill="#fbf0f4"/>
<rect x="1108.72" y="967.25" width="6.02" height="113.90" fill="#fbf0f4"/>
<rect x="1116.45" y="967.25" width="6.02" height="113.90" fill="#fbf0f4"/>
<rect x="1124.17" y="967.25" width="6.02" height="113.90" fill="#fbf0f4"/>
<rect x="1131.90" y="967.25" width="6.02" height="113.90" fill="#fbf0f4"/>
<rect x="1139.62" y="967.25" width="6.02" height="113.90" fill="#fbf0f4"/>
<rect x="1147.35" y="967.25" width="6.02" height="113.90" fill="#fbf0f4"/>
<rect x="1155.07" y="967.25" width="6.02" height="113.90" fill="#fbf0f4"/>
<rect x="1162.79" y="967.25" width="6.02" height="113.90" fill="#fbf0f4"/>
<rect x="1170.52" y="967.25" width="6.02" height="113.90" fill="#fbf0f4"/>
<rect x="1178.24" y="967.25" width="6.02" height="113.90" fill="#fbf0f4"/>
<rect x="1185.97" y="967.25" width="6.02" height="113.90" fill="#fbf0f4"/>
<rect x="1193.69" y="967.25" width="6.02" height="113.90" fill="#fbf0f4"/>
<rect x="1201.42" y="967.25" width="6.02" height="113.90" fill="#fbf0f4"/>
<rect x="1209.14" y="967.25" width="6.02" height="113.90" fill="#fbf0f4"/>
<rect x="1216.86" y="967.25" width="6.02" height="113.90" fill="#fbf0f4"/>
<rect x="1224.59" y="967.25" width="6.02" height="113.90" fill="#fbf0f4"/>
<rect x="1232.31" y="967.25" width="6.02" height="113.90" fill="#fbf0f4"/>
<rect x="1240.04" y="967.25" width="6.02" height="113.90" fill="#fbf0f4"/>
<rect x="1247.76" y="967.25" width="6.02" height="113.90" fill="#fbf0f4"/>
<rect x="1255.49" y="967.25" width="6.02" height="113.90" fill="#fbf0f4"/>
<rect x="1263.21" y="967.25" width="6.02" height="113.90" fill="#fbf0f4"/>
<rect x="1270.93" y="967.25" width="6.02" height="113.90" fill="#fbf0f4"/>
<rect x="1278.66" y="967.25" width="6.02" height="113.90" fill="#fbf0f4"/>
<rect x="1286.38" y="967.25" width="6.02" height="113.90" fill="#fbf0f4"/>
<rect x="1294.11" y="967.25" width="6.02" height="113.90" fill="#fbf0f4"/>
<rect x="1301.83" y="967.25" width="6.02" height="113.90" fill="#fbf0f4"/>
<rect x="1309.56" y="967.25" width="6.02" height="113.90" fill="#fbf0f4"/>
<rect x="1317.28" y="967.25" width="6.02" height="113.90" fill="#fbf0f4"/>
<rect x="1325.00" y="967.25" width="6.02" height="113.90" fill="#fbf0f4"/>
<rect x="1332.73" y="967.25" width="6.02" height="113.90" fill="#fbf0f4"/>
<rect x="1340.45" y="967.25" width="6.02" height="113.90" fill="#fbf0f4"/>
<rect x="1348.18" y="967.25" width="6.02" height="113.90" fill="#fbf0f4"/>
<rect x="1355.90" y="967.25" width="6.02" height="113.90" fill="#fbf0f4"/>
<rect x="1363.63" y="967.25" width="6.02" height="113.90" fill="#fbf0f4"/>
<rect x="1371.35" y="967.25" width="6.02" height="113.90" fill="#fbf0f4"/>
<rect x="1379.07" y="967.25" width="6.02" height="113.90" fill="#fbf0f4"/>
<rect x="1386.80" y="967.25" width="6.02" height="113.90" fill="#fbf0f4"/>
<rect x="1394.52" y="967.25" width="6.02" height="113.90" fill="#fbf0f4"/>
<rect x="1402.25" y="967.25" width="6.02" height="113.90" fill="#fbf0f4"/>
<rect x="1409.97" y="967.25" width="6.02" height="113.90" fill="#fbf0f4"/>
<rect x="1417.70" y="967.25" width="6.02" height="113.90" fill="#fbf0f4"/>
<rect x="1425.42" y="967.25" width="6.02" height="113.90" fill="#fbf0f4"/>
<rect x="1433.14" y="967.25" width="6.02" height="113.90" fill="#fbf0f4"/>
<rect x="1440.87" y="967.25" width="6.02" height="113.90" fill="#fbf0f4"/>
<rect x="1448.59" y="967.25" width="6.02" height="113.90" fill="#fbf0f4"/>
<rect x="1456.32" y="967.25" width="6.02" height="113.90" fill="#fbf0f4"/>
<rect x="1464.04" y="967.25" width="6.02" height="113.90" fill="#fbf0f4"/>
<rect x="1471.77" y="967.25" width="6.02" height="113.90" fill="#fbf0f4"/>
<rect x="1479.49" y="967.25" width="6.02" height="113.90" fill="#fbf0f4"/>
<rect x="1487.21" y="967.25" width="6.02" height="113.90" fill="#fbf0f4"/>
<rect x="1494.94" y="967.25" width="6.02" height="113.90" fill="#fbf0f4"/>
<rect x="1502.66" y="967.25" width="6.02" height="113.90" fill="#fbf0f4"/>
<rect x="1510.39" y="967.25" width="6.02" height="113.90" fill="#fbf0f4"/>
<rect x="1518.11" y="967.25" width="6.02" height="113.90" fill="#fbf0f4"/>
<rect x="1525.84" y="967.25" width="6.02" height="113.90" fill="#fbf0f4"/>
<rect x="1533.56" y="967.25" width="6.02" height="113.90" fill="#fbf0f4"/>
<rect x="1541.28" y="967.25" width="6.02" height="113.90" fill="#fbf0f4"/>
<rect x="1549.01" y="967.25" width="6.02" height="113.90" fill="#fbf0f4"/>
<rect x="1556.73" y="967.25" width="6.02" height="113.90" fill="#fbf0f4"/>
<rect x="1564.46" y="967.25" width="6.02" height="113.90" fill="#fbf0f4"/>
<rect x="1572.18" y="967.25" width="6.02" height="113.90" fill="#fbf0f4"/>
<rect x="1579.91" y="967.25" width="6.02" height="113.90" fill="#fbf0f4"/>
<rect x="1587.63" y="967.25" width="6.02" height="113.90" fill="#fbf0f4"/>
<rect x="1595.35" y="967.25" width="6.02" height="113.90" fill="#fbf0f4"/>
<rect x="1603.08" y="967.25" width="6.02" height="113.90" fill="#fbf0f4"/>
<rect x="1610.80" y="967.25" width="6.02" height="113.90" fill="#fbf0f4"/>
<rect x="1618.53" y="967.25" width="6.02" height="113.90" fill="#fbf0f4"/>
<rect x="1626.25" y="967.25" width="6.02" height="113.90" fill="#fbf0f4"/>
<rect x="1633.98" y="967.25" width="6.02" height="113.90" fill="#fbf0f4"/>
<rect x="1641.70" y="967.25" width="6.02" height="113.90" fill="#fbf0f4"/>
<rect x="1649.42" y="967.25" width="6.02" height="113.90" fill="#fbf0f4"/>
<rect x="1657.15" y="967.25" width="6.02" height="113.90" fill="#fbf0f4"/>
<rect x="1664.87" y="967.25" width="6.02" height="113.90" fill="#fbf0f4"/>
<rect x="1672.60" y="967.25" width="6.02" height="113.90" fill="#fbf0f4"/>
<rect x="1680.32" y="967.25" width="6.02" height="113.90" fill="#fbf0f4"/>
<rect x="1688.05" y="967.25" width="6.02" height="113.90" fill="#fbf0f4"/>
<rect x="1695.77" y="967.25" width="6.02" height="113.90" fill="#fbf0f4"/>
<rect x="1703.49" y="967.25" width="6.02" height="113.90" fill="#fbf0f4"/>
<rect x="1711.22" y="967.25" width="6.02" height="113.90" fill="#fbf0f4"/>
<rect x="1718.94" y="967.25" width="6.02" height="113.90" fill="#fbf0f4"/>
<rect x="1726.67" y="967.25" width="6.02" height="113.90" fill="#fbf0f4"/>
<rect x="1734.39" y="967.25" width="6.02" height="113.90" fill="#fbf0f4"/>
<rect x="1742.12" y="967.25" width="6.02" height="113.90" fill="#fbf0f4"/>
<rect x="1749.84" y="967.25" width="6.02" height="113.90" fill="#fbf0f4"/>
<rect x="1757.56" y="967.25" width="6.02" height="113.90" fill="#fbf0f4"/>
<rect x="1765.29" y="967.25" width="6.02" height="113.90" fill="#fbf0f4"/>
<rect x="1773.01" y="967.25" width="6.02" height="113.90" fill="#fbf0f4"/>
<rect x="1780.74" y="967.25" width="6.02" height="113.90" fill="#fbf0f4"/>
<rect x="1788.46" y="967.25" width="6.02" height="113.90" fill="#fbf0f4"/>
<rect x="1796.19" y="967.25" width="6.02" height="113.90" fill="#fbf0f4"/>
<rect x="1803.91" y="967.25" width="6.02" height="113.90" fill="#fbf0f4"/>
<rect x="1811.63" y="967.25" width="6.02" height="113.90" fill="#fbf0f4"/>
<rect x="1819.36" y="967.25" width="6.02" height="113.90" fill="#fbf0f4"/>
<rect x="1827.08" y="967.25" width="6.02" height="113.90" fill="#fbf0f4"/>
<rect x="1834.81" y="967.25" width="6.02" height="113.90" fill="#fbf0f4"/>
<rect x="1842.53" y="967.25" width="6.02" height="113.90" fill="#fbf0f4"/>
<rect x="1850.26" y="967.25" width="6.02" height="113.90" fill="#fbf0f4"/>
<rect x="1857.98" y="967.25" width="6.02" height="113.90" fill="#fbf0f4"/>
<rect x="1865.70" y="967.25" width="6.02" height="113.90" fill="#fbf0f4"/>
<rect x="1873.43" y="967.25" width="6.02" height="113.90" fill="#fbf0f4"/>
<rect x="1881.15" y="967.25" width="6.02" height="113.90" fill="#fbf0f4"/>
<rect x="1888.88" y="967.25" width="6.02" height="113.90" fill="#fbf0f4"/>
<rect x="1896.60" y="967.25" width="6.02" height="113.90" fill="#fbf0f4"/>
<rect x="1904.33" y="967.25" width="6.02" height="113.90" fill="#fbf0f4"/>
<rect x="4.15" y="1082.85" width="6.02" height="112.90" fill="#c9f0c9"/>
<rect x="11.87" y="1082.85" width="6.02" height="112.90" fill="#c9f0c9"/>
<rect x="19.60" y="1082.85" width="6.02" height="112.90" fill="#c9f0c9"/>
<rect x="27.32" y="1082.85" width="6.02" height="112.90" fill="#d8f4d7"/>
<rect x="35.05" y="1082.85" width="6.02" height="112.90" fill="#e6f8e5"/>
<rect x="42.77" y="1082.85" width="6.02" height="112.90" fill="#afe6ae"/>
<rect x="50.50" y="1082.85" width="6.02" height="112.90" fill="#c9f0c9"/>
<rect x="58.22" y="1082.85" width="6.02" height="112.90" fill="#afe6ae"/>
<rect x="65.94" y="1082.85" width="6.02" height="112.90" fill="#fefdfd"/>
<rect x="73.67" y="1082.85" width="6.02" height="112.90" fill="#afe6ae"/>
<rect x="81.39" y="1082.85" width="6.02" height="112.90" fill="#afe6ae"/>
<rect x="89.12" y="1082.85" width="6.02" height="112.90" fill="#bcebbc"/>
<rect x="96.84" y="1082.85" width="6.02" height="112.90" fill="#e6f8e5"/>
<rect x="104.57" y="1082.85" width="6.02" height="112.90" fill="#bcebbc"/>
<rect x="112.29" y="1082.85" width="6.02" height="112.90" fill="#afe6ae"/>
<rect x="120.01" y="1082.85" width="6.02" height="112.90" fill="#afe6ae"/>
<rect x="127.74" y="1082.85" width="6.02" height="112.90" fill="#c9f0c9"/>
<rect x="135.46" y="1082.85" width="6.02" height="112.90" fill="#afe6ae"/>
<rect x="143.19" y="1082.85" width="6.02" height="112.90" fill="#afe6ae"/>
<rect x="150.91" y="1082.85" width="6.02" height="112.90" fill="#afe6ae"/>
<rect x="158.64" y="1082.85" width="6.02" height="112.90" fill="#f2faf1"/>
<rect x="166.36" y="1082.85" width="6.02" height="112.90" fill="#c9f0c9"/>
<rect x="174.08" y="1082.85" width="6.02" height="112.90" fill="#c9f0c9"/>
<rect x="181.81" y="1082.85" width="6.02" height="112.90" fill="#c9f0c9"/>
<rect x="189.53" y="1082.85" width="6.02" height="112.90" fill="#c9f0c9"/>
<rect x="197.26" y="1082.85" width="6.02" height="112.90" fill="#c9f0c9"/>
<rect x="204.98" y="1082.85" width="6.02" height="112.90" fill="#8fd98e"/>
<rect x="212.71" y="1082.85" width="6.02" height="112.90" fill="#c9f0c9"/>
<rect x="220.43" y="1082.85" width="6.02" height="112.90" fill="#afe6ae"/>
<rect x="228.15" y="1082.85" width="6.02" height="112.90" fill="#c9f0c9"/>
<rect x="235.88" y="1082.85" width="6.02" height="112.90" fill="#c9f0c9"/>
<rect x="243.60" y="1082.85" width="6.02" height="112.90" fill="#c9f0c9"/>
<rect x="251.33" y="1082.85" width="6.02" height="112.90" fill="#c9f0c9"/>
<rect x="259.05" y="1082.85" width="6.02" height="112.90" fill="#c9f0c9"/>
<rect x="266.78" y="1082.85" width="6.02" height="112.90" fill="#afe6ae"/>
<rect x="274.50" y="1082.85" width="6.02" height="112.90" fill="#afe6ae"/>
<rect x="282.22" y="1082.85" width="6.02" height="112.90" fill="#afe6ae"/>
<rect x="289.95" y="1082.85" width="6.02" height="112.90" fill="#afe6ae"/>
<rect x="297.67" y="1082.85" width="6.02" height="112.90" fill="#afe6ae"/>
<rect x="305.40" y="1082.85" width="6.02" height="112.90" fill="#afe6ae"/>
<rect x="313.12" y="1082.85" width="6.02" height="112.90" fill="#afe6ae"/>
<rect x="320.85" y="1082.85" width="6.02" height="112.90" fill="#c9f0c9"/>
<rect x="328.57" y="1082.85" width="6.02" height="112.90" fill="#c9f0c9"/>
<rect x="336.29" y="1082.85" width="6.02" height="112.90" fill="#d8f4d7"/>
<rect x="344.02" y="1082.85" width="6.02" height="112.90" fill="#afe6ae"/>
<rect x="351.74" y="1082.85" width="6.02" height="112.90" fill="#c9f0c9"/>
<rect x="359.47" y="1082.85" width="6.02" height="112.90" fill="#afe6ae"/>
<rect x="367.19" y="1082.85" width="6.02" height="112.90" fill="#afe6ae"/>
<rect x="374.92" y="1082.85" width="6.02" height="112.90" fill="#fefdfd"/>
<rect x="382.64" y="1082.85" width="6.02" height="112.90" fill="#fefdfd"/>
<rect x="390.36" y="1082.85" width="6.02" height="112.90" fill="#fefdfd"/>
<rect x="398.09" y="1082.85" width="6.02" height="112.90" fill="#fefdfd"/>
<rect x="405.81" y="1082.85" width="6.02" height="112.90" fill="#fefdfd"/>
<rect x="413.54" y="1082.85" width="6.02" height="112.90" fill="#fefdfd"/>
<rect x="421.26" y="1082.85" width="6.02" height="112.90" fill="#fefdfd"/>
<rect x="428.99" y="1082.85" width="6.02" height="112.90" fill="#fefdfd"/>
<rect x="436.71" y="1082.85" width="6.02" height="112.90" fill="#fefdfd"/>
<rect x="444.43" y="1082.85" width="6.02" height="112.90" fill="#fefdfd"/>
<rect x="452.16" y="1082.85" width="6.02" height="112.90" fill="#fefdfd"/>
<rect x="459.88" y="1082.85" width="6.02" height="112.90" fill="#fefdfd"/>
<rect x="467.61" y="1082.85" width="6.02" height="112.90" fill="#fefdfd"/>
<rect x="475.33" y="1082.85" width="6.02" height="112.90" fill="#fefdfd"/>
<rect x="483.06" y="1082.85" width="6.02" height="112.90" fill="#fefdfd"/>
<rect x="490.78" y="1082.85" width="6.02" height="112.90" fill="#fefdfd"/>
<rect x="498.50" y="1082.85" width="6.02" height="112.90" fill="#fefdfd"/>
<rect x="506.23" y="1082.85" width="6.02" height="112.90" fill="#c9f0c9"/>
<rect x="513.95" y="1082.85" width="6.02" height="112.90" fill="#8fd98e"/>
<rect x="521.68" y="1082.85" width="6.02" height="112.90" fill="#fbf0f4"/>
<rect x="529.40" y="1082.85" width="6.02" height="112.90" fill="#fefdfd"/>
<rect x="537.13" y="1082.85" width="6.02" height="112.90" fill="#fefdfd"/>
<rect x="544.85" y="1082.85" width="6.02" height="112.90" fill="#fcf6f8"/>
<rect x="552.57" y="1082.85" width="6.02" height="112.90" fill="#fefdfd"/>
<rect x="560.30" y="1082.85" width="6.02" height="112.90" fill="#f8e5ec"/>
<rect x="568.02" y="1082.85" width="6.02" height="112.90" fill="#fefdfd"/>
<rect x="575.75" y="1082.85" width="6.02" height="112.90" fill="#f4dae5"/>
<rect x="583.47" y="1082.85" width="6.02" height="112.90" fill="#fbf0f4"/>
<rect x="591.20" y="1082.85" width="6.02" height="112.90" fill="#fefdfd"/>
<rect x="598.92" y="1082.85" width="6.02" height="112.90" fill="#fcf6f8"/>
<rect x="606.64" y="1082.85" width="6.02" height="112.90" fill="#fefdfd"/>
<rect x="614.37" y="1082.85" width="6.02" height="112.90" fill="#fcf6f8"/>
<rect x="622.09" y="1082.85" width="6.02" height="112.90" fill="#fefdfd"/>
<rect x="629.82" y="1082.85" width="6.02" height="112.90" fill="#f2faf1"/>
<rect x="637.54" y="1082.85" width="6.02" height="112.90" fill="#26800e"/>
<rect x="645.27" y="1082.85" width="6.02" height="112.90" fill="#c9f0c9"/>
<rect x="652.99" y="1082.85" width="6.02" height="112.90" fill="#fbf0f4"/>
<rect x="660.71" y="1082.85" width="6.02" height="112.90" fill="#fbf0f4"/>
<rect x="668.44" y="1082.85" width="6.02" height="112.90" fill="#fcf6f8"/>
<rect x="676.16" y="1082.85" width="6.02" height="112.90" fill="#fbf0f4"/>
<rect x="683.89" y="1082.85" width="6.02" height="112.90" fill="#f8e5ec"/>
<rect x="691.61" y="1082.85" width="6.02" height="112.90" fill="#f4dae5"/>
<rect x="699.34" y="1082.85" width="6.02" height="112.90" fill="#f8e5ec"/>
<rect x="707.06" y="1082.85" width="6.02" height="112.90" fill="#fcf6f8"/>
<rect x="714.78" y="1082.85" width="6.02" height="112.90" fill="#f4dae5"/>
<rect x="722.51" y="1082.85" width="6.02" height="112.90" fill="#fefdfd"/>
<rect x="730.23" y="1082.85" width="6.02" height="112.90" fill="#f4dae5"/>
<rect x="737.96" y="1082.85" width="6.02" height="112.90" fill="#ecc8d8"/>
<rect x="745.68" y="1082.85" width="6.02" height="112.90" fill="#e5b5cc"/>
<rect x="753.41" y="1082.85" width="6.02" height="112.90" fill="#fbf0f4"/>
<rect x="761.13" y="1082.85" width="6.02" height="112.90" fill="#f8e5ec"/>
<rect x="768.85" y="1082.85" width="6.02" height="112.90" fill="#fefdfd"/>
<rect x="776.58" y="1082.85" width="6.02" height="112.90" fill="#fcf6f8"/>
<rect x="784.30" y="1082.85" width="6.02" height="112.90" fill="#d794b3"/>
<rect x="792.03" y="1082.85" width="6.02" height="112.90" fill="#f4dae5"/>
<rect x="799.75" y="1082.85" width="6.02" height="112.90" fill="#f4dae5"/>
<rect x="807.48" y="1082.85" width="6.02" height="112.90" fill="#e5b5cc"/>
<rect x="815.20" y="1082.85" width="6.02" height="112.90" fill="#e5b5cc"/>
<rect x="822.92" y="1082.85" width="6.02" height="112.90" fill="#fbf0f4"/>
<rect x="830.65" y="1082.85" width="6.02" height="112.90" fill="#fbf0f4"/>
<rect x="838.37" y="1082.85" width="6.02" height="112.90" fill="#fbf0f4"/>
<rect x="846.10" y="1082.85" width="6.02" height="112.90" fill="#e5b5cc"/>
<rect x="853.82" y="1082.85" width="6.02" height="112.90" fill="#dea4c0"/>
<rect x="861.55" y="1082.85" width="6.02" height="112.90" fill="#f4dae5"/>
<rect x="869.27" y="1082.85" width="6.02" height="112.90" fill="#f4dae5"/>
<rect x="876.99" y="1082.85" width="6.02" height="112.90" fill="#f4dae5"/>
<rect x="884.72" y="1082.85" width="6.02" height="112.90" fill="#c96c93"/>
<rect x="892.44" y="1082.85" width="6.02" height="112.90" fill="#dea4c0"/>
<rect x="900.17" y="1082.85" width="6.02" height="112.90" fill="#be4a74"/>
<rect x="907.89" y="1082.85" width="6.02" height="112.90" fill="#dea4c0"/>
<rect x="915.62" y="1082.85" width="6.02" height="112.90" fill="#fbf0f4"/>
<rect x="923.34" y="1082.85" width="6.02" height="112.90" fill="#f4dae5"/>
<rect x="931.06" y="1082.85" width="6.02" height="112.90" fill="#e5b5cc"/>
<rect x="938.79" y="1082.85" width="6.02" height="112.90" fill="#e5b5cc"/>
<rect x="946.51" y="1082.85" width="6.02" height="112.90" fill="#f4dae5"/>
<rect x="954.24" y="1082.85" width="6.02" height="112.90" fill="#f8e5ec"/>
<rect x="961.96" y="1082.85" width="6.02" height="112.90" fill="#fefdfd"/>
<rect x="969.69" y="1082.85" width="6.02" height="112.90" fill="#fbf0f4"/>
<rect x="977.41" y="1082.85" width="6.02" height="112.90" fill="#f8e5ec"/>
<rect x="985.14" y="1082.85" width="6.02" height="112.90" fill="#fefdfd"/>
<rect x="992.86" y="1082.85" width="6.02" height="112.90" fill="#fbf0f4"/>
<rect x="1000.58" y="1082.85" width="6.02" height="112.90" fill="#fbf0f4"/>
<rect x="1008.31" y="1082.85" width="6.02" height="112.90" fill="#fefdfd"/>
<rect x="1016.03" y="1082.85" width="6.02" height="112.90" fill="#fbf0f4"/>
<rect x="1023.76" y="1082.85" width="6.02" height="112.90" fill="#e5b5cc"/>
<rect x="1031.48" y="1082.85" width="6.02" height="112.90" fill="#fbf0f4"/>
<rect x="1039.21" y="1082.85" width="6.02" height="112.90" fill="#fbf0f4"/>
<rect x="1046.93" y="1082.85" width="6.02" height="112.90" fill="#fbf0f4"/>
<rect x="1054.65" y="1082.85" width="6.02" height="112.90" fill="#fefdfd"/>
<rect x="1062.38" y="1082.85" width="6.02" height="112.90" fill="#fbf0f4"/>
<rect x="1070.10" y="1082.85" width="6.02" height="112.90" fill="#f4dae5"/>
<rect x="1077.83" y="1082.85" width="6.02" height="112.90" fill="#f4dae5"/>
<rect x="1085.55" y="1082.85" width="6.02" height="112.90" fill="#f8e5ec"/>
<rect x="1093.28" y="1082.85" width="6.02" height="112.90" fill="#f8e5ec"/>
<rect x="1101.00" y="1082.85" width="6.02" height="112.90" fill="#ecc8d8"/>
<rect x="1108.72" y="1082.85" width="6.02" height="112.90" fill="#e5b5cc"/>
<rect x="1116.45" y="1082.85" width="6.02" height="112.90" fill="#f4dae5"/>
<rect x="1124.17" y="1082.85" width="6.02" height="112.90" fill="#fbf0f4"/>
<rect x="1131.90" y="1082.85" width="6.02" height="112.90" fill="#e5b5cc"/>
<rect x="1139.62" y="1082.85" width="6.02" height="112.90" fill="#ecc8d8"/>
<rect x="1147.35" y="1082.85" width="6.02" height="112.90" fill="#fefdfd"/>
<rect x="1155.07" y="1082.85" width="6.02" height="112.90" fill="#fcf6f8"/>
<rect x="1162.79" y="1082.85" width="6.02" height="112.90" fill="#fefdfd"/>
<rect x="1170.52" y="1082.85" width="6.02" height="112.90" fill="#fcf6f8"/>
<rect x="1178.24" y="1082.85" width="6.02" height="112.90" fill="#fbf0f4"/>
<rect x="1185.97" y="1082.85" width="6.02" height="112.90" fill="#d794b3"/>
<rect x="1193.69" y="1082.85" width="6.02" height="112.90" fill="#fcf6f8"/>
<rect x="1201.42" y="1082.85" width="6.02" height="112.90" fill="#f4dae5"/>
<rect x="1209.14" y="1082.85" width="6.02" height="112.90" fill="#d794b3"/>
<rect x="1216.86" y="1082.85" width="6.02" height="112.90" fill="#e5b5cc"/>
<rect x="1224.59" y="1082.85" width="6.02" height="112.90" fill="#e5b5cc"/>
<rect x="1232.31" y="1082.85" width="6.02" height="112.90" fill="#f4dae5"/>
<rect x="1240.04" y="1082.85" width="6.02" height="112.90" fill="#fbf0f4"/>
<rect x="1247.76" y="1082.85" width="6.02" height="112.90" fill="#d794b3"/>
<rect x="1255.49" y="1082.85" width="6.02" height="112.90" fill="#fbf0f4"/>
<rect x="1263.21" y="1082.85" width="6.02" height="112.90" fill="#fefdfd"/>
<rect x="1270.93" y="1082.85" width="6.02" height="112.90" fill="#fefdfd"/>
<rect x="1278.66" y="1082.85" width="6.02" height="112.90" fill="#fbf0f4"/>
<rect x="1286.38" y="1082.85" width="6.02" height="112.90" fill="#fbf0f4"/>
<rect x="1294.11" y="1082.85" width="6.02" height="112.90" fill="#fbf0f4"/>
<rect x="1301.83" y="1082.85" width="6.02" height="112.90" fill="#f4dae5"/>
<rect x="1309.56" y="1082.85" width="6.02" height="112.90" fill="#f8e5ec"/>
<rect x="1317.28" y="1082.85" width="6.02" height="112.90" fill="#ecc8d8"/>
<rect x="1325.00" y="1082.85" width="6.02" height="112.90" fill="#fbf0f4"/>
<rect x="1332.73" y="1082.85" width="6.02" height="112.90" fill="#fbf0f4"/>
<rect x="1340.45" y="1082.85" width="6.02" height="112.90" fill="#fbf0f4"/>
<rect x="1348.18" y="1082.85" width="6.02" height="112.90" fill="#ecc8d8"/>
<rect x="1355.90" y="1082.85" width="6.02" height="112.90" fill="#d794b3"/>
<rect x="1363.63" y="1082.85" width="6.02" height="112.90" fill="#fbf0f4"/>
<rect x="1371.35" y="1082.85" width="6.02" height="112.90" fill="#fbf0f4"/>
<rect x="1379.07" y="1082.85" width="6.02" height="112.90" fill="#dea4c0"/>
<rect x="1386.80" y="1082.85" width="6.02" height="112.90" fill="#f4dae5"/>
<rect x="1394.52" y="1082.85" width="6.02" height="112.90" fill="#f4dae5"/>
<rect x="1402.25" y="1082.85" width="6.02" height="112.90" fill="#e5b5cc"/>
<rect x="1409.97" y="1082.85" width="6.02" height="112.90" fill="#dea4c0"/>
<rect x="1417.70" y="1082.85" width="6.02" height="112.90" fill="#f4dae5"/>
<rect x="1425.42" y="1082.85" width="6.02" height="112.90" fill="#f4dae5"/>
<rect x="1433.14" y="1082.85" width="6.02" height="112.90" fill="#d794b3"/>
<rect x="1440.87" y="1082.85" width="6.02" height="112.90" fill="#c96c93"/>
<rect x="1448.59" y="1082.85" width="6.02" height="112.90" fill="#d080a3"/>
<rect x="1456.32" y="1082.85" width="6.02" height="112.90" fill="#d794b3"/>
<rect x="1464.04" y="1082.85" width="6.02" height="112.90" fill="#fcf6f8"/>
<rect x="1471.77" y="1082.85" width="6.02" height="112.90" fill="#fbf0f4"/>
<rect x="1479.49" y="1082.85" width="6.02" height="112.90" fill="#fbf0f4"/>
<rect x="1487.21" y="1082.85" width="6.02" height="112.90" fill="#fbf0f4"/>
<rect x="1494.94" y="1082.85" width="6.02" height="112.90" fill="#e5b5cc"/>
<rect x="1502.66" y="1082.85" width="6.02" height="112.90" fill="#d794b3"/>
<rect x="1510.39" y="1082.85" width="6.02" height="112.90" fill="#d388a9"/>
<rect x="1518.11" y="1082.85" width="6.02" height="112.90" fill="#dea4c0"/>
<rect x="1525.84" y="1082.85" width="6.02" height="112.90" fill="#f4dae5"/>
<rect x="1533.56" y="1082.85" width="6.02" height="112.90" fill="#e5b5cc"/>
<rect x="1541.28" y="1082.85" width="6.02" height="112.90" fill="#d388a9"/>
<rect x="1549.01" y="1082.85" width="6.02" height="112.90" fill="#fcf6f8"/>
<rect x="1556.73" y="1082.85" width="6.02" height="112.90" fill="#f4dae5"/>
<rect x="1564.46" y="1082.85" width="6.02" height="112.90" fill="#f4dae5"/>
<rect x="1572.18" y="1082.85" width="6.02" height="112.90" fill="#fbf0f4"/>
<rect x="1579.91" y="1082.85" width="6.02" height="112.90" fill="#fefdfd"/>
<rect x="1587.63" y="1082.85" width="6.02" height="112.90" fill="#fbf0f4"/>
<rect x="1595.35" y="1082.85" width="6.02" height="112.90" fill="#fefdfd"/>
<rect x="1603.08" y="1082.85" width="6.02" height="112.90" fill="#fefdfd"/>
<rect x="1610.80" y="1082.85" width="6.02" height="112.90" fill="#fbf0f4"/>
<rect x="1618.53" y="1082.85" width="6.02" height="112.90" fill="#e5b5cc"/>
<rect x="1626.25" y="1082.85" width="6.02" height="112.90" fill="#f4dae5"/>
<rect x="1633.98" y="1082.85" width="6.02" height="112.90" fill="#f4dae5"/>
<rect x="1641.70" y="1082.85" width="6.02" height="112.90" fill="#fefdfd"/>
<rect x="1649.42" y="1082.85" width="6.02" height="112.90" fill="#fefdfd"/>
<rect x="1657.15" y="1082.85" width="6.02" height="112.90" fill="#f8e5ec"/>
<rect x="1664.87" y="1082.85" width="6.02" height="112.90" fill="#fefdfd"/>
<rect x="1672.60" y="1082.85" width="6.02" height="112.90" fill="#f4dae5"/>
<rect x="1680.32" y="1082.85" width="6.02" height="112.90" fill="#e5b5cc"/>
<rect x="1688.05" y="1082.85" width="6.02" height="112.90" fill="#e5b5cc"/>
<rect x="1695.77" y="1082.85" width="6.02" height="112.90" fill="#e5b5cc"/>
<rect x="1703.49" y="1082.85" width="6.02" height="112.90" fill="#e5b5cc"/>
<rect x="1711.22" y="1082.85" width="6.02" height="112.90" fill="#f4dae5"/>
<rect x="1718.94" y="1082.85" width="6.02" height="112.90" fill="#d794b3"/>
<rect x="1726.67" y="1082.85" width="6.02" height="112.90" fill="#ecc8d8"/>
<rect x="1734.39" y="1082.85" width="6.02" height="112.90" fill="#fbf0f4"/>
<rect x="1742.12" y="1082.85" width="6.02" height="112.90" fill="#fbf0f4"/>
<rect x="1749.84" y="1082.85" width="6.02" height="112.90" fill="#fbf0f4"/>
<rect x="1757.56" y="1082.85" width="6.02" height="112.90" fill="#fcf6f8"/>
<rect x="1765.29" y="1082.85" width="6.02" height="112.90" fill="#f4dae5"/>
<rect x="1773.01" y="1082.85" width="6.02" height="112.90" fill="#f4dae5"/>
<rect x="1780.74" y="1082.85" width="6.02" height="112.90" fill="#e5b5cc"/>
<rect x="1788.46" y="1082.85" width="6.02" height="112.90" fill="#ecc8d8"/>
<rect x="1796.19" y="1082.85" width="6.02" height="112.90" fill="#f4dae5"/>
<rect x="1803.91" y="1082.85" width="6.02" height="112.90" fill="#fcf6f8"/>
<rect x="1811.63" y="1082.85" width="6.02" height="112.90" fill="#f4dae5"/>
<rect x="1819.36" y="1082.85" width="6.02" height="112.90" fill="#dea4c0"/>
<rect x="1827.08" y="1082.85" width="6.02" height="112.90" fill="#ecc8d8"/>
<rect x="1834.81" y="1082.85" width="6.02" height="112.90" fill="#f4dae5"/>
<rect x="1842.53" y="1082.85" width="6.02" height="112.90" fill="#fbf0f4"/>
<rect x="1850.26" y="1082.85" width="6.02" height="112.90" fill="#b6365c"/>
<rect x="1857.98" y="1082.85" width="6.02" height="112.90" fill="#f4dae5"/>
<rect x="1865.70" y="1082.85" width="6.02" height="112.90" fill="#f4dae5"/>
<rect x="1873.43" y="1082.85" width="6.02" height="112.90" fill="#f8e5ec"/>
<rect x="1881.15" y="1082.85" width="6.02" height="112.90" fill="#fbf0f4"/>
<rect x="1888.88" y="1082.85" width="6.02" height="112.90" fill="#f4dae5"/>
<rect x="1896.60" y="1082.85" width="6.02" height="112.90" fill="#fbf0f4"/>
<rect x="1904.33" y="1082.85" width="6.02" height="112.90" fill="#fbf0f4"/>
<path d="M7.16 1196.60v11.00M14.89 1196.60v11.00M22.61 1196.60v11.00M30.34 1196.60v11.00M38.06 1196.60v11.00M45.78 1196.60v11.00M53.51 1196.60v11.00M61.23 1196.60v11.00M68.96 1196.60v11.00M76.68 1196.60v11.00M84.41 1196.60v11.00M92.13 1196.60v11.00M99.85 1196.60v11.00M107.58 1196.60v11.00M115.30 1196.60v11.00M123.03 1196.60v11.00M130.75 1196.60v11.00M138.48 1196.60v11.00M146.20 1196.60v11.00M153.92 1196.60v11.00M161.65 1196.60v11.00M169.37 1196.60v11.00M177.10 1196.60v11.00M184.82 1196.60v11.00M192.55 1196.60v11.00M200.27 1196.60v11.00M207.99 1196.60v11.00M215.72 1196.60v11.00M223.44 1196.60v11.00M231.17 1196.60v11.00M238.89 1196.60v11.00M246.62 1196.60v11.00M254.34 1196.60v11.00M262.06 1196.60v11.00M269.79 1196.60v11.00M277.51 1196.60v11.00M285.24 1196.60v11.00M292.96 1196.60v11.00M300.69 1196.60v11.00M308.41 1196.60v11.00M316.13 1196.60v11.00M323.86 1196.60v11.00M331.58 1196.60v11.00M339.31 1196.60v11.00M347.03 1196.60v11.00M354.76 1196.60v11.00M362.48 1196.60v11.00M370.20 1196.60v11.00M377.93 1196.60v11.00M385.65 1196.60v11.00M393.38 1196.60v11.00M401.10 1196.60v11.00M408.83 1196.60v11.00M416.55 1196.60v11.00M424.27 1196.60v11.00M432.00 1196.60v11.00M439.72 1196.60v11.00M447.45 1196.60v11.00M455.17 1196.60v11.00M462.90 1196.60v11.00M470.62 1196.60v11.00M478.34 1196.60v11.00M486.07 1196.60v11.00M493.79 1196.60v11.00M501.52 1196.60v11.00M509.24 1196.60v11.00M516.97 1196.60v11.00M524.69 1196.60v11.00M532.41 1196.60v11.00M540.14 1196.60v11.00M547.86 1196.60v11.00M555.59 1196.60v11.00M563.31 1196.60v11.00M571.04 1196.60v11.00M578.76 1196.60v11.00M586.48 1196.60v11.00M594.21 1196.60v11.00M601.93 1196.60v11.00M609.66 1196.60v11.00M617.38 1196.60v11.00M625.11 1196.60v11.00M632.83 1196.60v11.00M640.55 1196.60v11.00M648.28 1196.60v11.00M656.00 1196.60v11.00M663.73 1196.60v11.00M671.45 1196.60v11.00M679.18 1196.60v11.00M686.90 1196.60v11.00M694.62 1196.60v11.00M702.35 1196.60v11.00M710.07 1196.60v11.00M717.80 1196.60v11.00M725.52 1196.60v11.00M733.25 1196.60v11.00M740.97 1196.60v11.00M748.69 1196.60v11.00M756.42 1196.60v11.00M764.14 1196.60v11.00M771.87 1196.60v11.00M779.59 1196.60v11.00M787.32 1196.60v11.00M795.04 1196.60v11.00M802.76 1196.60v11.00M810.49 1196.60v11.00M818.21 1196.60v11.00M825.94 1196.60v11.00M833.66 1196.60v11.00M841.39 1196.60v11.00M849.11 1196.60v11.00M856.83 1196.60v11.00M864.56 1196.60v11.00M872.28 1196.60v11.00M880.01 1196.60v11.00M887.73 1196.60v11.00M895.46 1196.60v11.00M903.18 1196.60v11.00M910.90 1196.60v11.00M918.63 1196.60v11.00M926.35 1196.60v11.00M934.08 1196.60v11.00M941.80 1196.60v11.00M949.53 1196.60v11.00M957.25 1196.60v11.00M964.97 1196.60v11.00M972.70 1196.60v11.00M980.42 1196.60v11.00M988.15 1196.60v11.00M995.87 1196.60v11.00M1003.60 1196.60v11.00M1011.32 1196.60v11.00M1019.04 1196.60v11.00M1026.77 1196.60v11.00M1034.49 1196.60v11.00M1042.22 1196.60v11.00M1049.94 1196.60v11.00M1057.67 1196.60v11.00M1065.39 1196.60v11.00M1073.11 1196.60v11.00M1080.84 1196.60v11.00M1088.56 1196.60v11.00M1096.29 1196.60v11.00M1104.01 1196.60v11.00M1111.74 1196.60v11.00M1119.46 1196.60v11.00M1127.18 1196.60v11.00M1134.91 1196.60v11.00M1142.63 1196.60v11.00M1150.36 1196.60v11.00M1158.08 1196.60v11.00M1165.81 1196.60v11.00M1173.53 1196.60v11.00M1181.25 1196.60v11.00M1188.98 1196.60v11.00M1196.70 1196.60v11.00M1204.43 1196.60v11.00M1212.15 1196.60v11.00M1219.88 1196.60v11.00M1227.60 1196.60v11.00M1235.32 1196.60v11.00M1243.05 1196.60v11.00M1250.77 1196.60v11.00M1258.50 1196.60v11.00M1266.22 1196.60v11.00M1273.95 1196.60v11.00M1281.67 1196.60v11.00M1289.39 1196.60v11.00M1297.12 1196.60v11.00M1304.84 1196.60v11.00M1312.57 1196.60v11.00M1320.29 1196.60v11.00M1328.02 1196.60v11.00M1335.74 1196.60v11.00M1343.46 1196.60v11.00M1351.19 1196.60v11.00M1358.91 1196.60v11.00M1366.64 1196.60v11.00M1374.36 1196.60v11.00M1382.09 1196.60v11.00M1389.81 1196.60v11.00M1397.53 1196.60v11.00M1405.26 1196.60v11.00M1412.98 1196.60v11.00M1420.71 1196.60v11.00M1428.43 1196.60v11.00M1436.16 1196.60v11.00M1443.88 1196.60v11.00M1451.60 1196.60v11.00M1459.33 1196.60v11.00M1467.05 1196.60v11.00M1474.78 1196.60v11.00M1482.50 1196.60v11.00M1490.23 1196.60v11.00M1497.95 1196.60v11.00M1505.67 1196.60v11.00M1513.40 1196.60v11.00M1521.12 1196.60v11.00M1528.85 1196.60v11.00M1536.57 1196.60v11.00M1544.30 1196.60v11.00M1552.02 1196.60v11.00M1559.74 1196.60v11.00M1567.47 1196.60v11.00M1575.19 1196.60v11.00M1582.92 1196.60v11.00M1590.64 1196.60v11.00M1598.37 1196.60v11.00M1606.09 1196.60v11.00M1613.81 1196.60v11.00M1621.54 1196.60v11.00M1629.26 1196.60v11.00M1636.99 1196.60v11.00M1644.71 1196.60v11.00M1652.44 1196.60v11.00M1660.16 1196.60v11.00M1667.88 1196.60v11.00M1675.61 1196.60v11.00M1683.33 1196.60v11.00M1691.06 1196.60v11.00M1698.78 1196.60v11.00M1706.51 1196.60v11.00M1714.23 1196.60v11.00M1721.95 1196.60v11.00M1729.68 1196.60v11.00M1737.40 1196.60v11.00M1745.13 1196.60v11.00M1752.85 1196.60v11.00M1760.58 1196.60v11.00M1768.30 1196.60v11.00M1776.02 1196.60v11.00M1783.75 1196.60v11.00M1791.47 1196.60v11.00M1799.20 1196.60v11.00M1806.92 1196.60v11.00M1814.65 1196.60v11.00M1822.37 1196.60v11.00M1830.09 1196.60v11.00M1837.82 1196.60v11.00M1845.54 1196.60v11.00M1853.27 1196.60v11.00M1860.99 1196.60v11.00M1868.72 1196.60v11.00M1876.44 1196.60v11.00M1884.16 1196.60v11.00M1891.89 1196.60v11.00M1899.61 1196.60v11.00M1907.34 1196.60v11.00" stroke="#0e131b" stroke-width="2" fill="none"/>
<rect x="1911.20" y="907.10" width="10" height="2.8" fill="#0e131b"/>
<rect x="1911.20" y="1022.80" width="10" height="2.8" fill="#0e131b"/>
<rect x="1911.20" y="1138.20" width="10" height="2.8" fill="#0e131b"/>
</g>
<g font-size="9.4" fill="#121a24" stroke="#121a24" stroke-width="0.35" text-anchor="end">
<text transform="translate(10.76 1216.00) rotate(-90) scale(0.879 1)">Saracatinib (AZD0530)</text>
<text transform="translate(18.49 1216.00) rotate(-90) scale(0.879 1)">Dasatinib</text>
<text transform="translate(26.21 1216.00) rotate(-90) scale(0.879 1)">PI-103</text>
<text transform="translate(33.94 1216.00) rotate(-90) scale(0.879 1)">Vorinostat (SAHA, MK0683)</text>
<text transform="translate(41.66 1216.00) rotate(-90) scale(0.879 1)">Tozasertib (VX-680, MK-0457)</text>
<text transform="translate(49.38 1216.00) rotate(-90) scale(0.879 1)">Nutlin-3</text>
<text transform="translate(57.11 1216.00) rotate(-90) scale(0.879 1)">Pictilisib (GDC-0941)</text>
<text transform="translate(64.83 1216.00) rotate(-90) scale(0.879 1)">Crizotinib (PF-02341066)</text>
<text transform="translate(72.56 1216.00) rotate(-90) scale(0.879 1)">ZSTK474</text>
<text transform="translate(80.28 1216.00) rotate(-90) scale(0.879 1)">SU11274</text>
<text transform="translate(88.01 1216.00) rotate(-90) scale(0.879 1)">GSK690693</text>
<text transform="translate(95.73 1216.00) rotate(-90) scale(0.879 1)">SNS-032 (BMS-387032)</text>
<text transform="translate(103.45 1216.00) rotate(-90) scale(0.879 1)">ABT-751 (E7010)</text>
<text transform="translate(111.18 1216.00) rotate(-90) scale(0.879 1)">ENMD-2076</text>
<text transform="translate(118.90 1216.00) rotate(-90) scale(0.879 1)">Doxorubicin (Adriamycin) HCl</text>
<text transform="translate(126.63 1216.00) rotate(-90) scale(0.879 1)">Topotecan HCl</text>
<text transform="translate(134.35 1216.00) rotate(-90) scale(0.879 1)">Vincristine sulfate</text>
<text transform="translate(142.08 1216.00) rotate(-90) scale(0.879 1)">JNJ-7706621</text>
<text transform="translate(149.80 1216.00) rotate(-90) scale(0.879 1)">Pelitinib (EKB-569)</text>
<text transform="translate(157.52 1216.00) rotate(-90) scale(0.879 1)">Ponatinib (AP24534)</text>
<text transform="translate(165.25 1216.00) rotate(-90) scale(0.879 1)">AZD8055</text>
<text transform="translate(172.97 1216.00) rotate(-90) scale(0.879 1)">AG-14361</text>
<text transform="translate(180.70 1216.00) rotate(-90) scale(0.879 1)">Irinotecan HCl Trihydrate</text>
<text transform="translate(188.42 1216.00) rotate(-90) scale(0.879 1)">SB590885</text>
<text transform="translate(196.15 1216.00) rotate(-90) scale(0.879 1)">Buparlisib (BKM120, NVP-BKM120)</text>
<text transform="translate(203.87 1216.00) rotate(-90) scale(0.879 1)">(-)-Epigallocatechin Gallate</text>
<text transform="translate(211.59 1216.00) rotate(-90) scale(0.879 1)">gossypol-Acetic acid</text>
<text transform="translate(219.32 1216.00) rotate(-90) scale(0.879 1)">Phloretin</text>
<text transform="translate(227.04 1216.00) rotate(-90) scale(0.879 1)">Mitoxantrone 2HCl</text>
<text transform="translate(234.77 1216.00) rotate(-90) scale(0.879 1)">Rabusertib (LY2603618)</text>
<text transform="translate(242.49 1216.00) rotate(-90) scale(0.879 1)">Rebastinib (DCC-2036)</text>
<text transform="translate(250.22 1216.00) rotate(-90) scale(0.879 1)">Trametinib (GSK1120212)</text>
<text transform="translate(257.94 1216.00) rotate(-90) scale(0.879 1)">NVP-BSK805 2HCl</text>
<text transform="translate(265.66 1216.00) rotate(-90) scale(0.879 1)">KX2-391</text>
<text transform="translate(273.39 1216.00) rotate(-90) scale(0.879 1)">Crenolanib (CP-868596)</text>
<text transform="translate(281.11 1216.00) rotate(-90) scale(0.879 1)">Fedratinib (SAR302503, TG101348)</text>
<text transform="translate(288.84 1216.00) rotate(-90) scale(0.879 1)">AZ 628</text>
<text transform="translate(296.56 1216.00) rotate(-90) scale(0.879 1)">Nocodazole</text>
<text transform="translate(304.29 1216.00) rotate(-90) scale(0.879 1)">Sirtinol</text>
<text transform="translate(312.01 1216.00) rotate(-90) scale(0.879 1)">Fingolimod (FTY720) HCl</text>
<text transform="translate(319.73 1216.00) rotate(-90) scale(0.879 1)">FR 180204</text>
<text transform="translate(327.46 1216.00) rotate(-90) scale(0.879 1)">BIX 01294</text>
<text transform="translate(335.18 1216.00) rotate(-90) scale(0.879 1)">Bosutinib (SKI-606)</text>
<text transform="translate(342.91 1216.00) rotate(-90) scale(0.879 1)">SRT1720 HCl</text>
<text transform="translate(350.63 1216.00) rotate(-90) scale(0.879 1)">PD173074</text>
<text transform="translate(358.36 1216.00) rotate(-90) scale(0.879 1)">AZD7762</text>
<text transform="translate(366.08 1216.00) rotate(-90) scale(0.879 1)">SGI-1776 free base</text>
<text transform="translate(373.80 1216.00) rotate(-90) scale(0.879 1)">Daunorubicin HCl</text>
<text transform="translate(381.53 1216.00) rotate(-90) scale(0.879 1)">Linifanib (ABT-869)</text>
<text transform="translate(389.25 1216.00) rotate(-90) scale(0.879 1)">Nintedanib (BIBF 1120)</text>
<text transform="translate(396.98 1216.00) rotate(-90) scale(0.879 1)">Nilotinib (AMN-107)</text>
<text transform="translate(404.70 1216.00) rotate(-90) scale(0.879 1)">MK-2206 2HCl</text>
<text transform="translate(412.43 1216.00) rotate(-90) scale(0.879 1)">Paclitaxel</text>
<text transform="translate(420.15 1216.00) rotate(-90) scale(0.879 1)">WYE-354</text>
<text transform="translate(427.87 1216.00) rotate(-90) scale(0.879 1)">Vemurafenib (PLX4032, RG7204)</text>
<text transform="translate(435.60 1216.00) rotate(-90) scale(0.879 1)">BX-795</text>
<text transform="translate(443.32 1216.00) rotate(-90) scale(0.879 1)">Tie2 kinase inhibitor</text>
<text transform="translate(451.05 1216.00) rotate(-90) scale(0.879 1)">Chrysophanic Acid</text>
<text transform="translate(458.77 1216.00) rotate(-90) scale(0.879 1)">Mycophenolic acid</text>
<text transform="translate(466.50 1216.00) rotate(-90) scale(0.879 1)">Mifepristone</text>
<text transform="translate(474.22 1216.00) rotate(-90) scale(0.879 1)">Omipalisib (GSK2126458, GSK458)</text>
<text transform="translate(481.94 1216.00) rotate(-90) scale(0.879 1)">Sapanisertib (INK 128, MLN0128)</text>
<text transform="translate(489.67 1216.00) rotate(-90) scale(0.879 1)">Torin 2</text>
<text transform="translate(497.39 1216.00) rotate(-90) scale(0.879 1)">Triptolide (PG490)</text>
<text transform="translate(505.12 1216.00) rotate(-90) scale(0.879 1)">KU-0063794</text>
<text transform="translate(512.84 1216.00) rotate(-90) scale(0.879 1)">BMS-794833</text>
<text transform="translate(520.57 1216.00) rotate(-90) scale(0.879 1)">BAY 11-7082</text>
<text transform="translate(528.29 1216.00) rotate(-90) scale(0.879 1)">PD0325901</text>
<text transform="translate(536.01 1216.00) rotate(-90) scale(0.879 1)">Temsirolimus (CCI-779, NSC 683864)</text>
<text transform="translate(543.74 1216.00) rotate(-90) scale(0.879 1)">Etoposide</text>
<text transform="translate(551.46 1216.00) rotate(-90) scale(0.879 1)">Tipifarnib</text>
<text transform="translate(559.19 1216.00) rotate(-90) scale(0.879 1)">KU-60019</text>
<text transform="translate(566.91 1216.00) rotate(-90) scale(0.879 1)">Lonidamine</text>
<text transform="translate(574.64 1216.00) rotate(-90) scale(0.879 1)">CH5132799</text>
<text transform="translate(582.36 1216.00) rotate(-90) scale(0.879 1)">S-Ruxolitinib (INCB018424)</text>
<text transform="translate(590.08 1216.00) rotate(-90) scale(0.879 1)">Methotrexate</text>
<text transform="translate(597.81 1216.00) rotate(-90) scale(0.879 1)">TAK-733</text>
<text transform="translate(605.53 1216.00) rotate(-90) scale(0.879 1)">AMG-900</text>
<text transform="translate(613.26 1216.00) rotate(-90) scale(0.879 1)">Entinostat (MS-275)</text>
<text transform="translate(620.98 1216.00) rotate(-90) scale(0.879 1)">TW-37</text>
<text transform="translate(628.71 1216.00) rotate(-90) scale(0.879 1)">Fluorouracil (5-Fluoracil, 5-FU)</text>
<text transform="translate(636.43 1216.00) rotate(-90) scale(0.879 1)">Anagrelide HCl</text>
<text transform="translate(644.15 1216.00) rotate(-90) scale(0.879 1)">Idelalisib (CAL-101, GS-1101)</text>
<text transform="translate(651.88 1216.00) rotate(-90) scale(0.879 1)">SMI-4a</text>
<text transform="translate(659.60 1216.00) rotate(-90) scale(0.879 1)">ABT-737</text>
<text transform="translate(667.33 1216.00) rotate(-90) scale(0.879 1)">Veliparib (ABT-888)</text>
<text transform="translate(675.05 1216.00) rotate(-90) scale(0.879 1)">Axitinib</text>
<text transform="translate(682.78 1216.00) rotate(-90) scale(0.879 1)">Selumetinib (AZD6244)</text>
<text transform="translate(690.50 1216.00) rotate(-90) scale(0.879 1)">Gefitinib (ZD1839)</text>
<text transform="translate(698.22 1216.00) rotate(-90) scale(0.879 1)">Lenalidomide (CC-5013)</text>
<text transform="translate(705.95 1216.00) rotate(-90) scale(0.879 1)">Motesanib Diphosphate (AMG-706)</text>
<text transform="translate(713.67 1216.00) rotate(-90) scale(0.879 1)">Sorafenib Tosylate</text>
<text transform="translate(721.40 1216.00) rotate(-90) scale(0.879 1)">Y-27632 2HCl</text>
<text transform="translate(729.12 1216.00) rotate(-90) scale(0.879 1)">Elesclomol (STA-4783)</text>
<text transform="translate(736.85 1216.00) rotate(-90) scale(0.879 1)">Obatoclax Mesylate (GX15-070)</text>
<text transform="translate(744.57 1216.00) rotate(-90) scale(0.879 1)">Olaparib (AZD2281, Ku-0059436)</text>
<text transform="translate(752.29 1216.00) rotate(-90) scale(0.879 1)">SB431542</text>
<text transform="translate(760.02 1216.00) rotate(-90) scale(0.879 1)">Luminespib (AUY-922, NVP-AUY922)</text>
<text transform="translate(767.74 1216.00) rotate(-90) scale(0.879 1)">SB216763</text>
<text transform="translate(775.47 1216.00) rotate(-90) scale(0.879 1)">Vismodegib (GDC-0449)</text>
<text transform="translate(783.19 1216.00) rotate(-90) scale(0.879 1)">Belinostat (PXD101)</text>
<text transform="translate(790.92 1216.00) rotate(-90) scale(0.879 1)">Iniparib (BSI-201)</text>
<text transform="translate(798.64 1216.00) rotate(-90) scale(0.879 1)">Linsitinib (OSI-906)</text>
<text transform="translate(806.36 1216.00) rotate(-90) scale(0.879 1)">KU-55933 (ATM Kinase Inhibitor)</text>
<text transform="translate(814.09 1216.00) rotate(-90) scale(0.879 1)">GSK1904529A</text>
<text transform="translate(821.81 1216.00) rotate(-90) scale(0.879 1)">PF-04217903</text>
<text transform="translate(829.54 1216.00) rotate(-90) scale(0.879 1)">Rucaparib (AG-014699,PF-01367338) phosphate</text>
<text transform="translate(837.26 1216.00) rotate(-90) scale(0.879 1)">Vatalanib (PTK787) 2HCl</text>
<text transform="translate(844.99 1216.00) rotate(-90) scale(0.879 1)">GDC-0879</text>
<text transform="translate(852.71 1216.00) rotate(-90) scale(0.879 1)">Danusertib (PHA-739358)</text>
<text transform="translate(860.43 1216.00) rotate(-90) scale(0.879 1)">BI 2536</text>
<text transform="translate(868.16 1216.00) rotate(-90) scale(0.879 1)">JNJ-38877605</text>
<text transform="translate(875.88 1216.00) rotate(-90) scale(0.879 1)">Everolimus (RAD001)</text>
<text transform="translate(883.61 1216.00) rotate(-90) scale(0.879 1)">Mocetinostat (MGCD0103)</text>
<text transform="translate(891.33 1216.00) rotate(-90) scale(0.879 1)">YM155 (Sepantronium Bromide)</text>
<text transform="translate(899.06 1216.00) rotate(-90) scale(0.879 1)">Alisertib (MLN8237)</text>
<text transform="translate(906.78 1216.00) rotate(-90) scale(0.879 1)">Andarine</text>
<text transform="translate(914.50 1216.00) rotate(-90) scale(0.879 1)">Alvespimycin (17-DMAG) HCl</text>
<text transform="translate(922.23 1216.00) rotate(-90) scale(0.879 1)">Barasertib (AZD1152-HQPA)</text>
<text transform="translate(929.95 1216.00) rotate(-90) scale(0.879 1)">SNS-314</text>
<text transform="translate(937.68 1216.00) rotate(-90) scale(0.879 1)">Capecitabine</text>
<text transform="translate(945.40 1216.00) rotate(-90) scale(0.879 1)">Lenvatinib (E7080)</text>
<text transform="translate(953.13 1216.00) rotate(-90) scale(0.879 1)">Valproic acid sodium salt (Sodium valproate)</text>
<text transform="translate(960.85 1216.00) rotate(-90) scale(0.879 1)">CYC116</text>
<text transform="translate(968.57 1216.00) rotate(-90) scale(0.879 1)">JNJ-26854165 (Serdemetan)</text>
<text transform="translate(976.30 1216.00) rotate(-90) scale(0.879 1)">BIIB021</text>
<text transform="translate(984.02 1216.00) rotate(-90) scale(0.879 1)">Plinabulin (NPI-2358)</text>
<text transform="translate(991.75 1216.00) rotate(-90) scale(0.879 1)">XAV-939</text>
<text transform="translate(999.47 1216.00) rotate(-90) scale(0.879 1)">BIBR 1532</text>
<text transform="translate(1007.20 1216.00) rotate(-90) scale(0.879 1)">Anastrozole</text>
<text transform="translate(1014.92 1216.00) rotate(-90) scale(0.879 1)">Aprepitant</text>
<text transform="translate(1022.64 1216.00) rotate(-90) scale(0.879 1)">CUDC-101</text>
<text transform="translate(1030.37 1216.00) rotate(-90) scale(0.879 1)">Exemestane</text>
<text transform="translate(1038.09 1216.00) rotate(-90) scale(0.879 1)">Cladribine</text>
<text transform="translate(1045.82 1216.00) rotate(-90) scale(0.879 1)">Decitabine</text>
<text transform="translate(1053.54 1216.00) rotate(-90) scale(0.879 1)">Tivozanib (AV-951)</text>
<text transform="translate(1061.27 1216.00) rotate(-90) scale(0.879 1)">Clofarabine</text>
<text transform="translate(1068.99 1216.00) rotate(-90) scale(0.879 1)">YM201636</text>
<text transform="translate(1076.71 1216.00) rotate(-90) scale(0.879 1)">OSI-930</text>
<text transform="translate(1084.44 1216.00) rotate(-90) scale(0.879 1)">Raloxifene HCl</text>
<text transform="translate(1092.16 1216.00) rotate(-90) scale(0.879 1)">Letrozole</text>
<text transform="translate(1099.89 1216.00) rotate(-90) scale(0.879 1)">Temozolomide</text>
<text transform="translate(1107.61 1216.00) rotate(-90) scale(0.879 1)">Amuvatinib (MP-470)</text>
<text transform="translate(1115.34 1216.00) rotate(-90) scale(0.879 1)">Enzalutamide (MDV3100)</text>
<text transform="translate(1123.06 1216.00) rotate(-90) scale(0.879 1)">Celecoxib</text>
<text transform="translate(1130.78 1216.00) rotate(-90) scale(0.879 1)">Altretamine</text>
<text transform="translate(1138.51 1216.00) rotate(-90) scale(0.879 1)">Megestrol Acetate</text>
<text transform="translate(1146.23 1216.00) rotate(-90) scale(0.879 1)">Dexamethasone (DHAP)</text>
<text transform="translate(1153.96 1216.00) rotate(-90) scale(0.879 1)">Bafetinib (INNO-406)</text>
<text transform="translate(1161.68 1216.00) rotate(-90) scale(0.879 1)">Zileuton</text>
<text transform="translate(1169.41 1216.00) rotate(-90) scale(0.879 1)">Ispinesib (SB-715992)</text>
<text transform="translate(1177.13 1216.00) rotate(-90) scale(0.879 1)">Zibotentan (ZD4054)</text>
<text transform="translate(1184.85 1216.00) rotate(-90) scale(0.879 1)">Doxercalciferol</text>
<text transform="translate(1192.58 1216.00) rotate(-90) scale(0.879 1)">SB525334</text>
<text transform="translate(1200.30 1216.00) rotate(-90) scale(0.879 1)">PHA-793887</text>
<text transform="translate(1208.03 1216.00) rotate(-90) scale(0.879 1)">PIK-93</text>
<text transform="translate(1215.75 1216.00) rotate(-90) scale(0.879 1)">Mycophenolate Mofetil</text>
<text transform="translate(1223.48 1216.00) rotate(-90) scale(0.879 1)">Pracinostat (SB939)</text>
<text transform="translate(1231.20 1216.00) rotate(-90) scale(0.879 1)">Adavosertib</text>
<text transform="translate(1238.92 1216.00) rotate(-90) scale(0.879 1)">Quizartinib (AC220)</text>
<text transform="translate(1246.65 1216.00) rotate(-90) scale(0.879 1)">R406 (free base)</text>
<text transform="translate(1254.37 1216.00) rotate(-90) scale(0.879 1)">Selisistat (EX 527)</text>
<text transform="translate(1262.10 1216.00) rotate(-90) scale(0.879 1)">Febuxostat</text>
<text transform="translate(1269.82 1216.00) rotate(-90) scale(0.879 1)">Dapagliflozin</text>
<text transform="translate(1277.55 1216.00) rotate(-90) scale(0.879 1)">BMS-777607</text>
<text transform="translate(1285.27 1216.00) rotate(-90) scale(0.879 1)">Ezetimibe</text>
<text transform="translate(1292.99 1216.00) rotate(-90) scale(0.879 1)">Estrone</text>
<text transform="translate(1300.72 1216.00) rotate(-90) scale(0.879 1)">Aminoglutethimide</text>
<text transform="translate(1308.44 1216.00) rotate(-90) scale(0.879 1)">Disulfiram</text>
<text transform="translate(1316.17 1216.00) rotate(-90) scale(0.879 1)">Hydrocortisone</text>
<text transform="translate(1323.89 1216.00) rotate(-90) scale(0.879 1)">Estradiol</text>
<text transform="translate(1331.62 1216.00) rotate(-90) scale(0.879 1)">Toremifene Citrate</text>
<text transform="translate(1339.34 1216.00) rotate(-90) scale(0.879 1)">Azacitidine</text>
<text transform="translate(1347.06 1216.00) rotate(-90) scale(0.879 1)">Simvastatin</text>
<text transform="translate(1354.79 1216.00) rotate(-90) scale(0.879 1)">Lomustine</text>
<text transform="translate(1362.51 1216.00) rotate(-90) scale(0.879 1)">Flutamide</text>
<text transform="translate(1370.24 1216.00) rotate(-90) scale(0.879 1)">Fluvastatin Sodium</text>
<text transform="translate(1377.96 1216.00) rotate(-90) scale(0.879 1)">Tamoxifen Citrate</text>
<text transform="translate(1385.69 1216.00) rotate(-90) scale(0.879 1)">PF-573228</text>
<text transform="translate(1393.41 1216.00) rotate(-90) scale(0.879 1)">Cyclophosphamide Monohydrate</text>
<text transform="translate(1401.13 1216.00) rotate(-90) scale(0.879 1)">Sonidegib (Erismodegib, NVP-LDE225)</text>
<text transform="translate(1408.86 1216.00) rotate(-90) scale(0.879 1)">PF-4708671</text>
<text transform="translate(1416.58 1216.00) rotate(-90) scale(0.879 1)">Ixazomib Citrate (MLN9708)</text>
<text transform="translate(1424.31 1216.00) rotate(-90) scale(0.879 1)">GSK461364</text>
<text transform="translate(1432.03 1216.00) rotate(-90) scale(0.879 1)">Formestane</text>
<text transform="translate(1439.76 1216.00) rotate(-90) scale(0.879 1)">DAPT (GSI-IX)</text>
<text transform="translate(1447.48 1216.00) rotate(-90) scale(0.879 1)">Momelotinib (CYT387)</text>
<text transform="translate(1455.20 1216.00) rotate(-90) scale(0.879 1)">TAME</text>
<text transform="translate(1462.93 1216.00) rotate(-90) scale(0.879 1)">Galunisertib (LY2157299)</text>
<text transform="translate(1470.65 1216.00) rotate(-90) scale(0.879 1)">Telatinib</text>
<text transform="translate(1478.38 1216.00) rotate(-90) scale(0.879 1)">Volasertib (BI 6727)</text>
<text transform="translate(1486.10 1216.00) rotate(-90) scale(0.879 1)">Degrasyn (WP1130)</text>
<text transform="translate(1493.83 1216.00) rotate(-90) scale(0.879 1)">Silmitasertib (CX-4945)</text>
<text transform="translate(1501.55 1216.00) rotate(-90) scale(0.879 1)">GW3965 HCl</text>
<text transform="translate(1509.27 1216.00) rotate(-90) scale(0.879 1)">MK-0752</text>
<text transform="translate(1517.00 1216.00) rotate(-90) scale(0.879 1)">PF-3845</text>
<text transform="translate(1524.72 1216.00) rotate(-90) scale(0.879 1)">Ibrutinib (PCI-32765)</text>
<text transform="translate(1532.45 1216.00) rotate(-90) scale(0.879 1)">Turofexorate Isopropyl (XL335)</text>
<text transform="translate(1540.17 1216.00) rotate(-90) scale(0.879 1)">A-769662</text>
<text transform="translate(1547.90 1216.00) rotate(-90) scale(0.879 1)">Dibenzazepine (YO-01027)</text>
<text transform="translate(1555.62 1216.00) rotate(-90) scale(0.879 1)">PH-797804</text>
<text transform="translate(1563.34 1216.00) rotate(-90) scale(0.879 1)">Dacomitinib (PF299804, PF299)</text>
<text transform="translate(1571.07 1216.00) rotate(-90) scale(0.879 1)">AZ 3146</text>
<text transform="translate(1578.79 1216.00) rotate(-90) scale(0.879 1)">PAC-1</text>
<text transform="translate(1586.52 1216.00) rotate(-90) scale(0.879 1)">3-Methyladenine (3-MA)</text>
<text transform="translate(1594.24 1216.00) rotate(-90) scale(0.879 1)">Dalcetrapib (JTT-705, RO4607381)</text>
<text transform="translate(1601.97 1216.00) rotate(-90) scale(0.879 1)">GW4064</text>
<text transform="translate(1609.69 1216.00) rotate(-90) scale(0.879 1)">Tofacitinib (CP-690550,Tasocitinib)</text>
<text transform="translate(1617.41 1216.00) rotate(-90) scale(0.879 1)">Sotrastaurin</text>
<text transform="translate(1625.14 1216.00) rotate(-90) scale(0.879 1)">RG108</text>
<text transform="translate(1632.86 1216.00) rotate(-90) scale(0.879 1)">TPCA-1</text>
<text transform="translate(1640.59 1216.00) rotate(-90) scale(0.879 1)">PF-562271</text>
<text transform="translate(1648.31 1216.00) rotate(-90) scale(0.879 1)">Sodium Phenylbutyrate</text>
<text transform="translate(1656.04 1216.00) rotate(-90) scale(0.879 1)">QNZ (EVP4593)</text>
<text transform="translate(1663.76 1216.00) rotate(-90) scale(0.879 1)">SANT-1</text>
<text transform="translate(1671.48 1216.00) rotate(-90) scale(0.879 1)">NU6027</text>
<text transform="translate(1679.21 1216.00) rotate(-90) scale(0.879 1)">GSK650394</text>
<text transform="translate(1686.93 1216.00) rotate(-90) scale(0.879 1)">Bay 11-7085</text>
<text transform="translate(1694.66 1216.00) rotate(-90) scale(0.879 1)">AR-A014418</text>
<text transform="translate(1702.38 1216.00) rotate(-90) scale(0.879 1)">MG149</text>
<text transform="translate(1710.11 1216.00) rotate(-90) scale(0.879 1)">SecinH3</text>
<text transform="translate(1717.83 1216.00) rotate(-90) scale(0.879 1)">Combretastatin A4</text>
<text transform="translate(1725.55 1216.00) rotate(-90) scale(0.879 1)">GW9508</text>
<text transform="translate(1733.28 1216.00) rotate(-90) scale(0.879 1)">GSK3787</text>
<text transform="translate(1741.00 1216.00) rotate(-90) scale(0.879 1)">NSC 23766</text>
<text transform="translate(1748.73 1216.00) rotate(-90) scale(0.879 1)">Necrostatin-1</text>
<text transform="translate(1756.45 1216.00) rotate(-90) scale(0.879 1)">Lomeguatrib</text>
<text transform="translate(1764.18 1216.00) rotate(-90) scale(0.879 1)">Oxaliplatin</text>
<text transform="translate(1771.90 1216.00) rotate(-90) scale(0.879 1)">Rapamycin (Sirolimus)</text>
<text transform="translate(1779.62 1216.00) rotate(-90) scale(0.879 1)">Enzastaurin (LY317615)</text>
<text transform="translate(1787.35 1216.00) rotate(-90) scale(0.879 1)">PHA-665752</text>
<text transform="translate(1795.07 1216.00) rotate(-90) scale(0.879 1)">Abexinostat (PCI-24781)</text>
<text transform="translate(1802.80 1216.00) rotate(-90) scale(0.879 1)">LY294002</text>
<text transform="translate(1810.52 1216.00) rotate(-90) scale(0.879 1)">Roscovitine (Seliciclib,CYC202)</text>
<text transform="translate(1818.25 1216.00) rotate(-90) scale(0.879 1)">WZ4002</text>
<text transform="translate(1825.97 1216.00) rotate(-90) scale(0.879 1)">Bicalutamide</text>
<text transform="translate(1833.69 1216.00) rotate(-90) scale(0.879 1)">2-Methoxyestradiol (2-MeOE2)</text>
<text transform="translate(1841.42 1216.00) rotate(-90) scale(0.879 1)">Ruxolitinib (INCB018424)</text>
<text transform="translate(1849.14 1216.00) rotate(-90) scale(0.879 1)">AEE788 (NVP-AEE788)</text>
<text transform="translate(1856.87 1216.00) rotate(-90) scale(0.879 1)">Doramapimod (BIRB 796)</text>
<text transform="translate(1864.59 1216.00) rotate(-90) scale(0.879 1)">Azathioprine</text>
<text transform="translate(1872.32 1216.00) rotate(-90) scale(0.879 1)">Maraviroc</text>
<text transform="translate(1880.04 1216.00) rotate(-90) scale(0.879 1)">Cyclosporin A</text>
<text transform="translate(1887.76 1216.00) rotate(-90) scale(0.879 1)">Flavopiridol HCl</text>
<text transform="translate(1895.49 1216.00) rotate(-90) scale(0.879 1)">Canagliflozin</text>
<text transform="translate(1903.21 1216.00) rotate(-90) scale(0.879 1)">CEP-33779</text>
<text transform="translate(1910.94 1216.00) rotate(-90) scale(0.879 1)">SKI II</text>
</g>
<text x="1953.80" y="919.80" font-size="31.5" font-weight="bold" text-anchor="middle" fill="#181a19">10</text>
<text x="1952.90" y="1035.50" font-size="31.5" font-weight="bold" text-anchor="middle" fill="#181a19">1</text>
<text x="1949.60" y="1150.90" font-size="31.5" font-weight="bold" text-anchor="middle" fill="#181a19">0.1</text>
<rect x="240.4" y="840" width="12.8" height="484.6" fill="none" stroke="#d21a30" stroke-width="1.7"/>
<text x="205.80" y="1379.20" font-size="25.5" font-weight="bold" text-anchor="start" fill="#c8102a">Trametinib</text>
<text x="16.00" y="1467.00" font-size="47.3" font-weight="bold" text-anchor="start" fill="#181a19">B</text>
<text x="76.20" y="1467.00" font-size="47.3" font-weight="bold" text-anchor="start" fill="#181a19">Foci formation analysis</text>
<rect x="215.45" y="1626.65" width="541.40" height="622.20" fill="#05070b" rx="2"/>
<rect x="219.55" y="1630.75" width="85.45" height="73.16" fill="#1a3fee"/>
<rect x="309.10" y="1630.75" width="85.45" height="73.16" fill="#1a3fee"/>
<rect x="398.65" y="1630.75" width="85.45" height="73.16" fill="#98d4fa"/>
<rect x="488.20" y="1630.75" width="85.45" height="73.16" fill="#ebf6fa"/>
<rect x="577.75" y="1630.75" width="85.45" height="73.16" fill="#cdeefa"/>
<rect x="667.30" y="1630.75" width="85.45" height="73.16" fill="#eef7fb"/>
<rect x="219.55" y="1708.01" width="85.45" height="73.16" fill="#1a3fee"/>
<rect x="309.10" y="1708.01" width="85.45" height="73.16" fill="#1a3fee"/>
<rect x="398.65" y="1708.01" width="85.45" height="73.16" fill="#3660f1"/>
<rect x="488.20" y="1708.01" width="85.45" height="73.16" fill="#79b9fa"/>
<rect x="577.75" y="1708.01" width="85.45" height="73.16" fill="#5581f4"/>
<rect x="667.30" y="1708.01" width="85.45" height="73.16" fill="#f0f8fb"/>
<rect x="219.55" y="1785.28" width="85.45" height="73.16" fill="#1a3fee"/>
<rect x="309.10" y="1785.28" width="85.45" height="73.16" fill="#1a3fee"/>
<rect x="398.65" y="1785.28" width="85.45" height="73.16" fill="#72aefa"/>
<rect x="488.20" y="1785.28" width="85.45" height="73.16" fill="#7fc2f9"/>
<rect x="577.75" y="1785.28" width="85.45" height="73.16" fill="#e4f4fa"/>
<rect x="667.30" y="1785.28" width="85.45" height="73.16" fill="#e9f5fa"/>
<rect x="219.55" y="1862.54" width="85.45" height="73.16" fill="#1a3fee"/>
<rect x="309.10" y="1862.54" width="85.45" height="73.16" fill="#1a3fee"/>
<rect x="398.65" y="1862.54" width="85.45" height="73.16" fill="#517df3"/>
<rect x="488.20" y="1862.54" width="85.45" height="73.16" fill="#93d1fa"/>
<rect x="577.75" y="1862.54" width="85.45" height="73.16" fill="#caedfa"/>
<rect x="667.30" y="1862.54" width="85.45" height="73.16" fill="#f4fafb"/>
<rect x="219.55" y="1939.80" width="85.45" height="73.16" fill="#1a3fee"/>
<rect x="309.10" y="1939.80" width="85.45" height="73.16" fill="#1a3fee"/>
<rect x="398.65" y="1939.80" width="85.45" height="73.16" fill="#365ff1"/>
<rect x="488.20" y="1939.80" width="85.45" height="73.16" fill="#527ef4"/>
<rect x="577.75" y="1939.80" width="85.45" height="73.16" fill="#9cd7fa"/>
<rect x="667.30" y="1939.80" width="85.45" height="73.16" fill="#f0f8fb"/>
<rect x="219.55" y="2017.06" width="85.45" height="73.16" fill="#1a3fee"/>
<rect x="309.10" y="2017.06" width="85.45" height="73.16" fill="#1a3fee"/>
<rect x="398.65" y="2017.06" width="85.45" height="73.16" fill="#3e69f1"/>
<rect x="488.20" y="2017.06" width="85.45" height="73.16" fill="#c3eaf9"/>
<rect x="577.75" y="2017.06" width="85.45" height="73.16" fill="#99d4fa"/>
<rect x="667.30" y="2017.06" width="85.45" height="73.16" fill="#eff8fb"/>
<rect x="219.55" y="2094.33" width="85.45" height="73.16" fill="#1a3fee"/>
<rect x="309.10" y="2094.33" width="85.45" height="73.16" fill="#1a3fee"/>
<rect x="398.65" y="2094.33" width="85.45" height="73.16" fill="#1e44ee"/>
<rect x="488.20" y="2094.33" width="85.45" height="73.16" fill="#2c54ef"/>
<rect x="577.75" y="2094.33" width="85.45" height="73.16" fill="#9ad6fa"/>
<rect x="667.30" y="2094.33" width="85.45" height="73.16" fill="#cfeefa"/>
<rect x="219.55" y="2171.59" width="85.45" height="73.16" fill="#1a3fee"/>
<rect x="309.10" y="2171.59" width="85.45" height="73.16" fill="#1a3fee"/>
<rect x="398.65" y="2171.59" width="85.45" height="73.16" fill="#3a64f1"/>
<rect x="488.20" y="2171.59" width="85.45" height="73.16" fill="#cceefa"/>
<rect x="577.75" y="2171.59" width="85.45" height="73.16" fill="#9bd6fa"/>
<rect x="667.30" y="2171.59" width="85.45" height="73.16" fill="#fcfdfe"/>
<g font-size="21.7" font-weight="bold" text-anchor="middle">
<text x="262.27" y="1675.93" fill="#ffffff">100.05</text>
<text x="351.82" y="1675.93" fill="#ffffff">100.58</text>
<text x="441.38" y="1675.93" fill="#0a0a0a">50.09</text>
<text x="530.92" y="1675.93" fill="#0a0a0a">10.15</text>
<text x="531.72" y="1660.33" fill="#0a0a0a" font-size="28">***</text>
<text x="620.47" y="1675.93" fill="#0a0a0a">22.91</text>
<text x="710.02" y="1675.93" fill="#0a0a0a">8.69</text>
<text x="710.82" y="1660.33" fill="#0a0a0a" font-size="28">**</text>
<text x="262.27" y="1753.19" fill="#ffffff">100.07</text>
<text x="351.82" y="1753.19" fill="#ffffff">100.75</text>
<text x="441.38" y="1753.19" fill="#0a0a0a">78.38</text>
<text x="530.92" y="1753.19" fill="#0a0a0a">61.66</text>
<text x="531.72" y="1737.59" fill="#0a0a0a" font-size="28">**</text>
<text x="620.47" y="1753.19" fill="#0a0a0a">70.24</text>
<text x="710.02" y="1753.19" fill="#0a0a0a">8.02</text>
<text x="710.82" y="1737.59" fill="#0a0a0a" font-size="28">***</text>
<text x="262.27" y="1830.46" fill="#ffffff">100.06</text>
<text x="351.82" y="1830.46" fill="#ffffff">100.74</text>
<text x="441.38" y="1830.46" fill="#0a0a0a">63.37</text>
<text x="530.92" y="1830.46" fill="#0a0a0a">60.36</text>
<text x="620.47" y="1830.46" fill="#0a0a0a">13.23</text>
<text x="710.02" y="1830.46" fill="#0a0a0a">11.01</text>
<text x="262.27" y="1907.72" fill="#ffffff">100.71</text>
<text x="351.82" y="1907.72" fill="#ffffff">100.48</text>
<text x="441.38" y="1907.72" fill="#0a0a0a">71.46</text>
<text x="530.92" y="1907.72" fill="#0a0a0a">52.14</text>
<text x="531.72" y="1892.12" fill="#0a0a0a" font-size="28">**</text>
<text x="620.47" y="1907.72" fill="#0a0a0a">24.58</text>
<text x="710.02" y="1907.72" fill="#0a0a0a">6.32</text>
<text x="710.82" y="1892.12" fill="#0a0a0a" font-size="28">***</text>
<text x="262.27" y="1984.98" fill="#ffffff">99.45</text>
<text x="351.82" y="1984.98" fill="#ffffff">100.40</text>
<text x="441.38" y="1984.98" fill="#0a0a0a">78.53</text>
<text x="530.92" y="1984.98" fill="#0a0a0a">71.13</text>
<text x="620.47" y="1984.98" fill="#0a0a0a">47.60</text>
<text x="710.02" y="1984.98" fill="#0a0a0a">8.01</text>
<text x="710.82" y="1969.38" fill="#0a0a0a" font-size="28">***</text>
<text x="262.27" y="2062.24" fill="#ffffff">100.72</text>
<text x="351.82" y="2062.24" fill="#ffffff">100.49</text>
<text x="441.38" y="2062.24" fill="#0a0a0a">76.47</text>
<text x="530.92" y="2062.24" fill="#0a0a0a">27.87</text>
<text x="531.72" y="2046.64" fill="#0a0a0a" font-size="28">***</text>
<text x="620.47" y="2062.24" fill="#0a0a0a">49.59</text>
<text x="710.02" y="2062.24" fill="#0a0a0a">8.34</text>
<text x="710.82" y="2046.64" fill="#0a0a0a" font-size="28">***</text>
<text x="262.27" y="2139.51" fill="#ffffff">100.62</text>
<text x="351.82" y="2139.51" fill="#ffffff">100.17</text>
<text x="441.38" y="2139.51" fill="#ffffff">93.99</text>
<text x="530.92" y="2139.51" fill="#ffffff">82.63</text>
<text x="531.72" y="2123.91" fill="#0a0a0a" font-size="28">*</text>
<text x="620.47" y="2139.51" fill="#0a0a0a">48.60</text>
<text x="710.02" y="2139.51" fill="#0a0a0a">22.30</text>
<text x="710.82" y="2123.91" fill="#0a0a0a" font-size="28">***</text>
<text x="262.27" y="2216.77" fill="#ffffff">100.06</text>
<text x="351.82" y="2216.77" fill="#ffffff">100.69</text>
<text x="441.38" y="2216.77" fill="#0a0a0a">77.53</text>
<text x="530.92" y="2216.77" fill="#0a0a0a">23.33</text>
<text x="531.72" y="2201.17" fill="#0a0a0a" font-size="28">***</text>
<text x="620.47" y="2216.77" fill="#0a0a0a">48.19</text>
<text x="710.02" y="2216.77" fill="#0a0a0a">3.20</text>
<text x="710.82" y="2201.17" fill="#0a0a0a" font-size="28">***</text>
</g>
<text x="485.70" y="1605.80" font-size="34.7" font-weight="bold" text-anchor="middle" fill="#0a0a0a">AsPC-1</text>
<rect x="831.95" y="1627.75" width="537.40" height="617.90" fill="#05070b" rx="2"/>
<rect x="836.05" y="1631.85" width="84.78" height="72.62" fill="#1a3fee"/>
<rect x="924.93" y="1631.85" width="84.78" height="72.62" fill="#1a3fee"/>
<rect x="1013.82" y="1631.85" width="84.78" height="72.62" fill="#a5defa"/>
<rect x="1102.70" y="1631.85" width="84.78" height="72.62" fill="#f9fcfd"/>
<rect x="1191.58" y="1631.85" width="84.78" height="72.62" fill="#f8fbfc"/>
<rect x="1280.47" y="1631.85" width="84.78" height="72.62" fill="#f5fafc"/>
<rect x="836.05" y="1708.57" width="84.78" height="72.62" fill="#1a3fee"/>
<rect x="924.93" y="1708.57" width="84.78" height="72.62" fill="#1a3fee"/>
<rect x="1013.82" y="1708.57" width="84.78" height="72.62" fill="#2f57f0"/>
<rect x="1102.70" y="1708.57" width="84.78" height="72.62" fill="#73aefa"/>
<rect x="1191.58" y="1708.57" width="84.78" height="72.62" fill="#2c54ef"/>
<rect x="1280.47" y="1708.57" width="84.78" height="72.62" fill="#eff8fb"/>
<rect x="836.05" y="1785.30" width="84.78" height="72.62" fill="#1a3fee"/>
<rect x="924.93" y="1785.30" width="84.78" height="72.62" fill="#1a3fee"/>
<rect x="1013.82" y="1785.30" width="84.78" height="72.62" fill="#1d43ee"/>
<rect x="1102.70" y="1785.30" width="84.78" height="72.62" fill="#507cf3"/>
<rect x="1191.58" y="1785.30" width="84.78" height="72.62" fill="#b5e4f9"/>
<rect x="1280.47" y="1785.30" width="84.78" height="72.62" fill="#ceeefa"/>
<rect x="836.05" y="1862.02" width="84.78" height="72.62" fill="#1a3fee"/>
<rect x="924.93" y="1862.02" width="84.78" height="72.62" fill="#1a3fee"/>
<rect x="1013.82" y="1862.02" width="84.78" height="72.62" fill="#1e45ee"/>
<rect x="1102.70" y="1862.02" width="84.78" height="72.62" fill="#2048ee"/>
<rect x="1191.58" y="1862.02" width="84.78" height="72.62" fill="#4571f2"/>
<rect x="1280.47" y="1862.02" width="84.78" height="72.62" fill="#ecf7fa"/>
<rect x="836.05" y="1938.75" width="84.78" height="72.62" fill="#1a3fee"/>
<rect x="924.93" y="1938.75" width="84.78" height="72.62" fill="#1a3fee"/>
<rect x="1013.82" y="1938.75" width="84.78" height="72.62" fill="#3058f0"/>
<rect x="1102.70" y="1938.75" width="84.78" height="72.62" fill="#70aaf9"/>
<rect x="1191.58" y="1938.75" width="84.78" height="72.62" fill="#2951ef"/>
<rect x="1280.47" y="1938.75" width="84.78" height="72.62" fill="#ffffff"/>
<rect x="836.05" y="2015.47" width="84.78" height="72.62" fill="#1a3fee"/>
<rect x="924.93" y="2015.47" width="84.78" height="72.62" fill="#1a3fee"/>
<rect x="1013.82" y="2015.47" width="84.78" height="72.62" fill="#4f7bf3"/>
<rect x="1102.70" y="2015.47" width="84.78" height="72.62" fill="#8cccfa"/>
<rect x="1191.58" y="2015.47" width="84.78" height="72.62" fill="#aae0fa"/>
<rect x="1280.47" y="2015.47" width="84.78" height="72.62" fill="#eff8fb"/>
<rect x="836.05" y="2092.20" width="84.78" height="72.62" fill="#1a3fee"/>
<rect x="924.93" y="2092.20" width="84.78" height="72.62" fill="#1a3fee"/>
<rect x="1013.82" y="2092.20" width="84.78" height="72.62" fill="#2c54f0"/>
<rect x="1102.70" y="2092.20" width="84.78" height="72.62" fill="#527ef4"/>
<rect x="1191.58" y="2092.20" width="84.78" height="72.62" fill="#345df0"/>
<rect x="1280.47" y="2092.20" width="84.78" height="72.62" fill="#90cffa"/>
<rect x="836.05" y="2168.93" width="84.78" height="72.62" fill="#1a3fee"/>
<rect x="924.93" y="2168.93" width="84.78" height="72.62" fill="#1a3fee"/>
<rect x="1013.82" y="2168.93" width="84.78" height="72.62" fill="#2a52ef"/>
<rect x="1102.70" y="2168.93" width="84.78" height="72.62" fill="#f0f8fb"/>
<rect x="1191.58" y="2168.93" width="84.78" height="72.62" fill="#345cf0"/>
<rect x="1280.47" y="2168.93" width="84.78" height="72.62" fill="#f5fafc"/>
<g font-size="21.7" font-weight="bold" text-anchor="middle">
<text x="878.44" y="1676.76" fill="#ffffff">100.01</text>
<text x="967.33" y="1676.76" fill="#ffffff">100.46</text>
<text x="1056.21" y="1676.76" fill="#0a0a0a">42.08</text>
<text x="1145.09" y="1676.76" fill="#0a0a0a">4.08</text>
<text x="1145.89" y="1661.16" fill="#0a0a0a" font-size="28">***</text>
<text x="1233.97" y="1676.76" fill="#0a0a0a">4.78</text>
<text x="1322.86" y="1676.76" fill="#0a0a0a">5.77</text>
<text x="878.44" y="1753.49" fill="#ffffff">100.67</text>
<text x="967.33" y="1753.49" fill="#ffffff">100.57</text>
<text x="1056.21" y="1753.49" fill="#ffffff">80.69</text>
<text x="1145.09" y="1753.49" fill="#0a0a0a">63.29</text>
<text x="1145.89" y="1737.89" fill="#0a0a0a" font-size="28">**</text>
<text x="1233.97" y="1753.49" fill="#ffffff">82.63</text>
<text x="1322.86" y="1753.49" fill="#0a0a0a">8.35</text>
<text x="1323.66" y="1737.89" fill="#0a0a0a" font-size="28">***</text>
<text x="878.44" y="1830.21" fill="#ffffff">100.66</text>
<text x="967.33" y="1830.21" fill="#ffffff">100.55</text>
<text x="1056.21" y="1830.21" fill="#ffffff">95.68</text>
<text x="1145.09" y="1830.21" fill="#0a0a0a">71.72</text>
<text x="1145.89" y="1814.61" fill="#0a0a0a" font-size="28">***</text>
<text x="1233.97" y="1830.21" fill="#0a0a0a">34.62</text>
<text x="1322.86" y="1830.21" fill="#0a0a0a">22.47</text>
<text x="1323.66" y="1814.61" fill="#0a0a0a" font-size="28">**</text>
<text x="878.44" y="1906.94" fill="#ffffff">100.25</text>
<text x="967.33" y="1906.94" fill="#ffffff">100.18</text>
<text x="1056.21" y="1906.94" fill="#ffffff">93.12</text>
<text x="1145.09" y="1906.94" fill="#ffffff">89.93</text>
<text x="1233.97" y="1906.94" fill="#0a0a0a">74.73</text>
<text x="1322.86" y="1906.94" fill="#0a0a0a">9.40</text>
<text x="1323.66" y="1891.34" fill="#0a0a0a" font-size="28">***</text>
<text x="878.44" y="1983.66" fill="#ffffff">100.36</text>
<text x="967.33" y="1983.66" fill="#ffffff">100.66</text>
<text x="1056.21" y="1983.66" fill="#ffffff">80.19</text>
<text x="1145.09" y="1983.66" fill="#0a0a0a">63.92</text>
<text x="1145.89" y="1968.06" fill="#0a0a0a" font-size="28">**</text>
<text x="1233.97" y="1983.66" fill="#ffffff">84.44</text>
<text x="1322.86" y="1983.66" fill="#0a0a0a">2.02</text>
<text x="1323.66" y="1968.06" fill="#0a0a0a" font-size="28">***</text>
<text x="878.44" y="2060.39" fill="#ffffff">100.26</text>
<text x="967.33" y="2060.39" fill="#ffffff">100.20</text>
<text x="1056.21" y="2060.39" fill="#0a0a0a">71.89</text>
<text x="1145.09" y="2060.39" fill="#0a0a0a">54.94</text>
<text x="1145.89" y="2044.79" fill="#0a0a0a" font-size="28">**</text>
<text x="1233.97" y="2060.39" fill="#0a0a0a">39.75</text>
<text x="1322.86" y="2060.39" fill="#0a0a0a">8.41</text>
<text x="1323.66" y="2044.79" fill="#0a0a0a" font-size="28">***</text>
<text x="878.44" y="2137.11" fill="#ffffff">100.77</text>
<text x="967.33" y="2137.11" fill="#ffffff">100.10</text>
<text x="1056.21" y="2137.11" fill="#ffffff">82.24</text>
<text x="1145.09" y="2137.11" fill="#0a0a0a">71.02</text>
<text x="1145.89" y="2121.51" fill="#0a0a0a" font-size="28">**</text>
<text x="1233.97" y="2137.11" fill="#0a0a0a">78.94</text>
<text x="1322.86" y="2137.11" fill="#0a0a0a">53.21</text>
<text x="1323.66" y="2121.51" fill="#0a0a0a" font-size="28">***</text>
<text x="878.44" y="2213.84" fill="#ffffff">100.61</text>
<text x="967.33" y="2213.84" fill="#ffffff">100.96</text>
<text x="1056.21" y="2213.84" fill="#ffffff">84.04</text>
<text x="1145.09" y="2213.84" fill="#0a0a0a">7.95</text>
<text x="1145.89" y="2198.24" fill="#0a0a0a" font-size="28">***</text>
<text x="1233.97" y="2213.84" fill="#ffffff">79.09</text>
<text x="1322.86" y="2213.84" fill="#0a0a0a">5.69</text>
<text x="1323.66" y="2198.24" fill="#0a0a0a" font-size="28">***</text>
</g>
<text x="1104.20" y="1604.40" font-size="34.7" font-weight="bold" text-anchor="middle" fill="#0a0a0a">BxPC-3</text>
<rect x="1369" y="1666.26" width="13.8" height="3.8" fill="#05070b"/>
<text x="1390.60" y="1676.76" font-size="26.1" font-weight="bold" text-anchor="start" fill="#0a0a0a">Trametinib</text>
<rect x="1369" y="1742.99" width="13.8" height="3.8" fill="#05070b"/>
<text x="1390.60" y="1753.49" font-size="26.1" font-weight="bold" text-anchor="start" fill="#0a0a0a">Fedratinib</text>
<rect x="1369" y="1819.71" width="13.8" height="3.8" fill="#05070b"/>
<text x="1390.60" y="1830.21" font-size="26.1" font-weight="bold" text-anchor="start" fill="#0a0a0a">Crenolanib</text>
<rect x="1369" y="1896.44" width="13.8" height="3.8" fill="#05070b"/>
<text x="1390.60" y="1906.94" font-size="26.1" font-weight="bold" text-anchor="start" fill="#0a0a0a">Crizotinib</text>
<rect x="1369" y="1973.16" width="13.8" height="3.8" fill="#05070b"/>
<text x="1390.60" y="1983.66" font-size="26.1" font-weight="bold" text-anchor="start" fill="#0a0a0a">Sorafenib</text>
<rect x="1369" y="2049.89" width="13.8" height="3.8" fill="#05070b"/>
<text x="1390.60" y="2060.39" font-size="26.1" font-weight="bold" text-anchor="start" fill="#0a0a0a">PD173074</text>
<rect x="1369" y="2126.61" width="13.8" height="3.8" fill="#05070b"/>
<text x="1390.60" y="2137.11" font-size="26.1" font-weight="bold" text-anchor="start" fill="#0a0a0a">GSK690693</text>
<rect x="1369" y="2203.34" width="13.8" height="3.8" fill="#05070b"/>
<text x="1390.60" y="2213.84" font-size="26.1" font-weight="bold" text-anchor="start" fill="#0a0a0a">SGI-1776</text>
<text x="1392.40" y="2276.20" font-size="29" font-weight="bold" text-anchor="start" fill="#0a0a0a">NCK</text>
<text x="240.40" y="2283.00" font-size="30" font-weight="bold" text-anchor="middle" fill="#0a0a0a">-</text>
<text x="340.00" y="2283.00" font-size="30" font-weight="bold" text-anchor="middle" fill="#0a0a0a">+</text>
<text x="425.00" y="2283.00" font-size="30" font-weight="bold" text-anchor="middle" fill="#0a0a0a">-</text>
<text x="517.00" y="2283.00" font-size="30" font-weight="bold" text-anchor="middle" fill="#0a0a0a">+</text>
<text x="601.80" y="2283.00" font-size="30" font-weight="bold" text-anchor="middle" fill="#0a0a0a">-</text>
<text x="700.70" y="2283.00" font-size="30" font-weight="bold" text-anchor="middle" fill="#0a0a0a">+</text>
<rect x="224.50" y="2300.10" width="139.20" height="3.4" fill="#05070b"/>
<rect x="407.00" y="2300.10" width="140.00" height="3.4" fill="#05070b"/>
<rect x="592.00" y="2300.10" width="139.50" height="3.4" fill="#05070b"/>
<text x="300.70" y="2341.50" font-size="27" font-weight="bold" text-anchor="middle" fill="#0a0a0a">0</text>
<text x="480.70" y="2341.50" font-size="27" font-weight="bold" text-anchor="middle" fill="#0a0a0a">0.01</text>
<text x="656.00" y="2341.50" font-size="27" font-weight="bold" text-anchor="start" fill="#0a0a0a">1</text>
<text x="727.50" y="2341.50" font-size="27" font-weight="bold" text-anchor="end" fill="#0a0a0a">µM</text>
<text x="870.70" y="2281.00" font-size="30" font-weight="bold" text-anchor="middle" fill="#0a0a0a">-</text>
<text x="970.70" y="2281.00" font-size="30" font-weight="bold" text-anchor="middle" fill="#0a0a0a">+</text>
<text x="1055.80" y="2281.00" font-size="30" font-weight="bold" text-anchor="middle" fill="#0a0a0a">-</text>
<text x="1147.00" y="2281.00" font-size="30" font-weight="bold" text-anchor="middle" fill="#0a0a0a">+</text>
<text x="1232.00" y="2281.00" font-size="30" font-weight="bold" text-anchor="middle" fill="#0a0a0a">-</text>
<text x="1331.60" y="2281.00" font-size="30" font-weight="bold" text-anchor="middle" fill="#0a0a0a">+</text>
<rect x="855.40" y="2298.00" width="138.80" height="3.4" fill="#05070b"/>
<rect x="1038.80" y="2298.00" width="138.80" height="3.4" fill="#05070b"/>
<rect x="1223.00" y="2298.00" width="139.00" height="3.4" fill="#05070b"/>
<text x="932.00" y="2339.50" font-size="27" font-weight="bold" text-anchor="middle" fill="#0a0a0a">0</text>
<text x="1111.00" y="2339.50" font-size="27" font-weight="bold" text-anchor="middle" fill="#0a0a0a">0.01</text>
<text x="1287.00" y="2339.50" font-size="27" font-weight="bold" text-anchor="start" fill="#0a0a0a">1</text>
<text x="1358.00" y="2339.50" font-size="27" font-weight="bold" text-anchor="end" fill="#0a0a0a">µM</text>
<rect x="1606.6" y="1622" width="52.9" height="695.4" fill="#05070b" rx="2"/>
<rect x="1611" y="1626.4" width="44.1" height="686.6" fill="url(#gblue)"/>
<rect x="1610" y="1627.70" width="8.5" height="3.8" fill="#05070b"/>
<rect x="1647.5" y="1627.70" width="8.5" height="3.8" fill="#05070b"/>
<text x="1675.00" y="1641.20" font-size="32" font-weight="bold" text-anchor="start" fill="#0a0a0a">100</text>
<rect x="1610" y="1769.60" width="8.5" height="3.8" fill="#05070b"/>
<rect x="1647.5" y="1769.60" width="8.5" height="3.8" fill="#05070b"/>
<text x="1675.00" y="1783.10" font-size="32" font-weight="bold" text-anchor="start" fill="#0a0a0a">80</text>
<rect x="1610" y="1911.10" width="8.5" height="3.8" fill="#05070b"/>
<rect x="1647.5" y="1911.10" width="8.5" height="3.8" fill="#05070b"/>
<text x="1675.00" y="1924.60" font-size="32" font-weight="bold" text-anchor="start" fill="#0a0a0a">60</text>
<rect x="1610" y="2052.60" width="8.5" height="3.8" fill="#05070b"/>
<rect x="1647.5" y="2052.60" width="8.5" height="3.8" fill="#05070b"/>
<text x="1675.00" y="2066.10" font-size="32" font-weight="bold" text-anchor="start" fill="#0a0a0a">40</text>
<rect x="1610" y="2194.10" width="8.5" height="3.8" fill="#05070b"/>
<rect x="1647.5" y="2194.10" width="8.5" height="3.8" fill="#05070b"/>
<text x="1675.00" y="2207.60" font-size="32" font-weight="bold" text-anchor="start" fill="#0a0a0a">20</text>
</svg>
</body>
</html>
